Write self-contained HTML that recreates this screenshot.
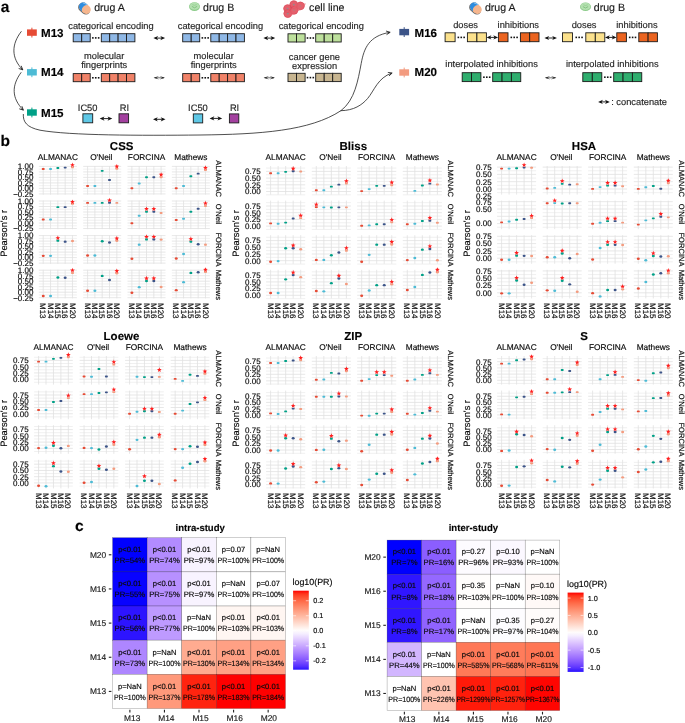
<!DOCTYPE html>
<html lang="en"><head><meta charset="utf-8"><title>Figure</title>
<style>html,body{margin:0;padding:0;background:#fff}svg{display:block;will-change:transform;-webkit-font-smoothing:antialiased}text{stroke:#1a1a1a;stroke-width:.16px}</style></head>
<body>
<svg width="685" height="723" viewBox="0 0 685 723" font-family='"Liberation Sans", sans-serif'>
<rect width="685" height="723" fill="#fff"/>
<g text-rendering="geometricPrecision">
<g id="panelA">
<text x="0.80" y="12.30" font-size="15.5" text-anchor="start" font-weight="bold" fill="#000">a</text>
<line x1="31.9" y1="27.700000000000003" x2="31.9" y2="37.5" stroke="#E64B35" stroke-width="1"/>
<rect x="27.0" y="29.400000000000002" width="9.8" height="6.4" fill="#E64B35"/>
<text x="41.00" y="36.60" font-size="11.6" text-anchor="start" font-weight="bold" fill="#000">M13</text>
<line x1="31.9" y1="67.39999999999999" x2="31.9" y2="77.2" stroke="#4DBBD5" stroke-width="1"/>
<rect x="27.0" y="69.1" width="9.8" height="6.4" fill="#4DBBD5"/>
<text x="41.00" y="76.30" font-size="11.6" text-anchor="start" font-weight="bold" fill="#000">M14</text>
<line x1="31.9" y1="107.6" x2="31.9" y2="117.4" stroke="#00A087" stroke-width="1"/>
<rect x="27.0" y="109.3" width="9.8" height="6.4" fill="#00A087"/>
<text x="41.00" y="116.70" font-size="11.6" text-anchor="start" font-weight="bold" fill="#000">M15</text>
<line x1="404.2" y1="27.200000000000003" x2="404.2" y2="37.0" stroke="#3C5488" stroke-width="1"/>
<rect x="399.3" y="28.900000000000002" width="9.8" height="6.4" fill="#3C5488"/>
<text x="414.50" y="36.60" font-size="11.6" text-anchor="start" font-weight="bold" fill="#000">M16</text>
<line x1="404.2" y1="67.6" x2="404.2" y2="77.4" stroke="#F39B7F" stroke-width="1"/>
<rect x="399.3" y="69.3" width="9.8" height="6.4" fill="#F39B7F"/>
<text x="414.50" y="76.30" font-size="11.6" text-anchor="start" font-weight="bold" fill="#000">M20</text>
<g transform="translate(84.6 8.2) rotate(42)"><rect x="-6.6" y="-3.6" width="13.2" height="8.6" rx="4.3" fill="#6e6e6e"/><rect x="-6.4" y="-4.5" width="13" height="8.6" rx="4.3" fill="#F6B68E"/><path d="M0 -4.5 H-2.1 A4.3 4.3 0 0 0 -2.1 4.1 H0 Z" fill="#2E8DE0"/><ellipse cx="1.6" cy="-0.2" rx="3.6" ry="4.2" fill="#F6B68E"/><path d="M-4.8 -2.8 Q-3 -4.2 -0.5 -4" stroke="#8CC8F5" stroke-width="0.9" fill="none"/></g>
<text x="94.20" y="10.80" font-size="10.6" text-anchor="start" fill="#1a1a1a">drug A</text>
<ellipse cx="194.5" cy="6.6" rx="5.5" ry="4.3" fill="#8CCB8A"/>
<ellipse cx="194.5" cy="6.199999999999999" rx="4.9" ry="3.6" fill="#B4E0B0"/>
<path d="M191.9 6.3999999999999995 Q194.5 9.2 197.1 6.3999999999999995" stroke="#7EC07C" stroke-width="0.9" fill="none"/>
<path d="M192.3 4.6 Q194.5 6.0 196.7 4.6" stroke="#8CCB8A" stroke-width="0.7" fill="none"/>
<text x="203.00" y="10.80" font-size="10.6" text-anchor="start" fill="#1a1a1a">drug B</text>
<circle cx="293.8" cy="4.6" r="4.2" fill="#E4606C"/>
<circle cx="300.4" cy="5.9" r="4.2" fill="#E4606C"/>
<circle cx="287.6" cy="8.6" r="4.2" fill="#E4606C"/>
<circle cx="294" cy="10.2" r="4.2" fill="#E4606C"/>
<circle cx="287.8" cy="13.6" r="4.2" fill="#E4606C"/>
<circle cx="293.8" cy="4.6" r="3.9" fill="none" stroke="#D94555" stroke-width="0.5"/>
<circle cx="293.8" cy="4.6" r="0.9" fill="#8f8f8f"/>
<circle cx="300.4" cy="5.9" r="3.9" fill="none" stroke="#D94555" stroke-width="0.5"/>
<circle cx="300.4" cy="5.9" r="0.9" fill="#8f8f8f"/>
<circle cx="287.6" cy="8.6" r="3.9" fill="none" stroke="#D94555" stroke-width="0.5"/>
<circle cx="287.6" cy="8.6" r="0.9" fill="#8f8f8f"/>
<circle cx="294" cy="10.2" r="3.9" fill="none" stroke="#D94555" stroke-width="0.5"/>
<circle cx="294" cy="10.2" r="0.9" fill="#8f8f8f"/>
<circle cx="287.8" cy="13.6" r="3.9" fill="none" stroke="#D94555" stroke-width="0.5"/>
<circle cx="287.8" cy="13.6" r="0.9" fill="#8f8f8f"/>
<path d="M297 3 L306 3.5 L303 8.5 L297 12 L291 16 L289 12 Z" fill="#E4606C" opacity="0.6"/>
<text x="309.10" y="10.60" font-size="10.6" text-anchor="start" fill="#1a1a1a">cell line</text>
<g transform="translate(475.6 8.2) rotate(42)"><rect x="-6.6" y="-3.6" width="13.2" height="8.6" rx="4.3" fill="#6e6e6e"/><rect x="-6.4" y="-4.5" width="13" height="8.6" rx="4.3" fill="#F6B68E"/><path d="M0 -4.5 H-2.1 A4.3 4.3 0 0 0 -2.1 4.1 H0 Z" fill="#2E8DE0"/><ellipse cx="1.6" cy="-0.2" rx="3.6" ry="4.2" fill="#F6B68E"/><path d="M-4.8 -2.8 Q-3 -4.2 -0.5 -4" stroke="#8CC8F5" stroke-width="0.9" fill="none"/></g>
<text x="484.90" y="10.80" font-size="10.6" text-anchor="start" fill="#1a1a1a">drug A</text>
<ellipse cx="585.5" cy="6.8" rx="5.5" ry="4.3" fill="#8CCB8A"/>
<ellipse cx="585.5" cy="6.3999999999999995" rx="4.9" ry="3.6" fill="#B4E0B0"/>
<path d="M582.9 6.6 Q585.5 9.4 588.1 6.6" stroke="#7EC07C" stroke-width="0.9" fill="none"/>
<path d="M583.3 4.8 Q585.5 6.2 587.7 4.8" stroke="#8CCB8A" stroke-width="0.7" fill="none"/>
<text x="593.80" y="10.80" font-size="10.6" text-anchor="start" fill="#1a1a1a">drug B</text>
<text x="68.30" y="29.00" font-size="9.3" text-anchor="start" fill="#2b2b2b">categorical encoding</text>
<rect x="73.20" y="33.70" width="8.50" height="8.10" fill="#8FB8E6" stroke="#1a1a1a" stroke-width="0.9"/>
<rect x="81.70" y="33.70" width="8.50" height="8.10" fill="#8FB8E6" stroke="#1a1a1a" stroke-width="0.9"/>
<rect x="92.05" y="37.10" width="1.6" height="1.6" fill="#111"/>
<rect x="94.95" y="37.10" width="1.6" height="1.6" fill="#111"/>
<rect x="97.85" y="37.10" width="1.6" height="1.6" fill="#111"/>
<rect x="101.30" y="33.70" width="8.40" height="8.10" fill="#8FB8E6" stroke="#1a1a1a" stroke-width="0.9"/>
<rect x="109.70" y="33.70" width="8.40" height="8.10" fill="#8FB8E6" stroke="#1a1a1a" stroke-width="0.9"/>
<rect x="118.10" y="33.70" width="8.40" height="8.10" fill="#8FB8E6" stroke="#1a1a1a" stroke-width="0.9"/>
<rect x="126.50" y="33.70" width="8.40" height="8.10" fill="#8FB8E6" stroke="#1a1a1a" stroke-width="0.9"/>
<text x="104.20" y="59.30" font-size="9.3" text-anchor="middle" fill="#2b2b2b">molecular</text>
<text x="104.20" y="68.30" font-size="9.3" text-anchor="middle" fill="#2b2b2b">fingerprints</text>
<rect x="73.20" y="73.60" width="8.50" height="8.10" fill="#F08268" stroke="#1a1a1a" stroke-width="0.9"/>
<rect x="81.70" y="73.60" width="8.50" height="8.10" fill="#F08268" stroke="#1a1a1a" stroke-width="0.9"/>
<rect x="92.05" y="77.00" width="1.6" height="1.6" fill="#111"/>
<rect x="94.95" y="77.00" width="1.6" height="1.6" fill="#111"/>
<rect x="97.85" y="77.00" width="1.6" height="1.6" fill="#111"/>
<rect x="101.30" y="73.60" width="8.40" height="8.10" fill="#F08268" stroke="#1a1a1a" stroke-width="0.9"/>
<rect x="109.70" y="73.60" width="8.40" height="8.10" fill="#F08268" stroke="#1a1a1a" stroke-width="0.9"/>
<rect x="118.10" y="73.60" width="8.40" height="8.10" fill="#F08268" stroke="#1a1a1a" stroke-width="0.9"/>
<rect x="126.50" y="73.60" width="8.40" height="8.10" fill="#F08268" stroke="#1a1a1a" stroke-width="0.9"/>
<text x="177.80" y="29.00" font-size="9.3" text-anchor="start" fill="#2b2b2b">categorical encoding</text>
<rect x="182.70" y="33.70" width="8.50" height="8.10" fill="#8FB8E6" stroke="#1a1a1a" stroke-width="0.9"/>
<rect x="191.20" y="33.70" width="8.50" height="8.10" fill="#8FB8E6" stroke="#1a1a1a" stroke-width="0.9"/>
<rect x="201.55" y="37.10" width="1.6" height="1.6" fill="#111"/>
<rect x="204.45" y="37.10" width="1.6" height="1.6" fill="#111"/>
<rect x="207.35" y="37.10" width="1.6" height="1.6" fill="#111"/>
<rect x="210.80" y="33.70" width="8.40" height="8.10" fill="#8FB8E6" stroke="#1a1a1a" stroke-width="0.9"/>
<rect x="219.20" y="33.70" width="8.40" height="8.10" fill="#8FB8E6" stroke="#1a1a1a" stroke-width="0.9"/>
<rect x="227.60" y="33.70" width="8.40" height="8.10" fill="#8FB8E6" stroke="#1a1a1a" stroke-width="0.9"/>
<rect x="236.00" y="33.70" width="8.40" height="8.10" fill="#8FB8E6" stroke="#1a1a1a" stroke-width="0.9"/>
<text x="213.70" y="59.30" font-size="9.3" text-anchor="middle" fill="#2b2b2b">molecular</text>
<text x="213.70" y="68.30" font-size="9.3" text-anchor="middle" fill="#2b2b2b">fingerprints</text>
<rect x="182.70" y="73.60" width="8.50" height="8.10" fill="#F08268" stroke="#1a1a1a" stroke-width="0.9"/>
<rect x="191.20" y="73.60" width="8.50" height="8.10" fill="#F08268" stroke="#1a1a1a" stroke-width="0.9"/>
<rect x="201.55" y="77.00" width="1.6" height="1.6" fill="#111"/>
<rect x="204.45" y="77.00" width="1.6" height="1.6" fill="#111"/>
<rect x="207.35" y="77.00" width="1.6" height="1.6" fill="#111"/>
<rect x="210.80" y="73.60" width="8.40" height="8.10" fill="#F08268" stroke="#1a1a1a" stroke-width="0.9"/>
<rect x="219.20" y="73.60" width="8.40" height="8.10" fill="#F08268" stroke="#1a1a1a" stroke-width="0.9"/>
<rect x="227.60" y="73.60" width="8.40" height="8.10" fill="#F08268" stroke="#1a1a1a" stroke-width="0.9"/>
<rect x="236.00" y="73.60" width="8.40" height="8.10" fill="#F08268" stroke="#1a1a1a" stroke-width="0.9"/>
<text x="77.80" y="110.90" font-size="9.3" text-anchor="start" fill="#2b2b2b">IC50</text>
<text x="119.70" y="110.90" font-size="9.3" text-anchor="start" fill="#2b2b2b">RI</text>
<rect x="82.9" y="113.8" width="9.8" height="9" fill="#5FC8E6" stroke="#1a1a1a" stroke-width="0.9"/>
<rect x="119" y="113.8" width="9.6" height="9" fill="#A3409F" stroke="#1a1a1a" stroke-width="0.9"/>
<line x1="101.70" y1="118.60" x2="110.30" y2="118.60" stroke="#111" stroke-width="0.9"/>
<path d="M99.70 118.60 L104.50 116.50 L103.16 118.60 L104.50 120.70 Z" fill="#111"/>
<path d="M112.30 118.60 L107.50 116.50 L108.84 118.60 L107.50 120.70 Z" fill="#111"/>
<text x="188.10" y="110.90" font-size="9.3" text-anchor="start" fill="#2b2b2b">IC50</text>
<text x="229.90" y="110.90" font-size="9.3" text-anchor="start" fill="#2b2b2b">RI</text>
<rect x="193.3" y="113.9" width="9.4" height="9" fill="#5FC8E6" stroke="#1a1a1a" stroke-width="0.9"/>
<rect x="229.4" y="113.9" width="9.4" height="9" fill="#A3409F" stroke="#1a1a1a" stroke-width="0.9"/>
<line x1="211.60" y1="118.40" x2="220.20" y2="118.40" stroke="#111" stroke-width="0.9"/>
<path d="M209.60 118.40 L214.40 116.30 L213.06 118.40 L214.40 120.50 Z" fill="#111"/>
<path d="M222.20 118.40 L217.40 116.30 L218.74 118.40 L217.40 120.50 Z" fill="#111"/>
<text x="321.30" y="29.00" font-size="9.3" text-anchor="middle" fill="#2b2b2b">categorical encoding</text>
<rect x="288.00" y="33.80" width="8.55" height="8.20" fill="#BDE09C" stroke="#1a1a1a" stroke-width="0.9"/>
<rect x="296.55" y="33.80" width="8.55" height="8.20" fill="#BDE09C" stroke="#1a1a1a" stroke-width="0.9"/>
<rect x="306.70" y="37.20" width="1.6" height="1.6" fill="#111"/>
<rect x="309.60" y="37.20" width="1.6" height="1.6" fill="#111"/>
<rect x="312.50" y="37.20" width="1.6" height="1.6" fill="#111"/>
<rect x="315.70" y="33.80" width="8.50" height="8.20" fill="#BDE09C" stroke="#1a1a1a" stroke-width="0.9"/>
<rect x="324.20" y="33.80" width="8.50" height="8.20" fill="#BDE09C" stroke="#1a1a1a" stroke-width="0.9"/>
<rect x="332.70" y="33.80" width="8.50" height="8.20" fill="#BDE09C" stroke="#1a1a1a" stroke-width="0.9"/>
<text x="314.40" y="59.80" font-size="9.3" text-anchor="middle" fill="#2b2b2b">cancer gene</text>
<text x="314.60" y="68.70" font-size="9.3" text-anchor="middle" fill="#2b2b2b">expression</text>
<rect x="288.00" y="73.30" width="8.55" height="8.30" fill="#C7B590" stroke="#1a1a1a" stroke-width="0.9"/>
<rect x="296.55" y="73.30" width="8.55" height="8.30" fill="#C7B590" stroke="#1a1a1a" stroke-width="0.9"/>
<rect x="306.70" y="76.80" width="1.6" height="1.6" fill="#111"/>
<rect x="309.60" y="76.80" width="1.6" height="1.6" fill="#111"/>
<rect x="312.50" y="76.80" width="1.6" height="1.6" fill="#111"/>
<rect x="315.70" y="73.30" width="8.50" height="8.30" fill="#C7B590" stroke="#1a1a1a" stroke-width="0.9"/>
<rect x="324.20" y="73.30" width="8.50" height="8.30" fill="#C7B590" stroke="#1a1a1a" stroke-width="0.9"/>
<rect x="332.70" y="73.30" width="8.50" height="8.30" fill="#C7B590" stroke="#1a1a1a" stroke-width="0.9"/>
<line x1="155.40" y1="38.10" x2="163.10" y2="38.10" stroke="#111" stroke-width="0.9"/>
<path d="M153.40 38.10 L158.20 36.00 L156.86 38.10 L158.20 40.20 Z" fill="#111"/>
<path d="M165.10 38.10 L160.30 36.00 L161.64 38.10 L160.30 40.20 Z" fill="#111"/>
<line x1="265.40" y1="38.10" x2="273.20" y2="38.10" stroke="#111" stroke-width="0.9"/>
<path d="M263.40 38.10 L268.20 36.00 L266.86 38.10 L268.20 40.20 Z" fill="#111"/>
<path d="M275.20 38.10 L270.40 36.00 L271.74 38.10 L270.40 40.20 Z" fill="#111"/>
<line x1="154.60" y1="77.80" x2="164.00" y2="77.80" stroke="#111" stroke-width="0.6"/>
<path d="M153.60 77.80 L159.00 76.00 L156.30 77.80 L159.00 79.60 Z" fill="#111" fill-opacity="0.85"/>
<path d="M165.00 77.80 L159.60 76.00 L162.30 77.80 L159.60 79.60 Z" fill="#111" fill-opacity="0.85"/>
<line x1="264.60" y1="77.80" x2="274.00" y2="77.80" stroke="#111" stroke-width="0.6"/>
<path d="M263.60 77.80 L269.00 76.00 L266.30 77.80 L269.00 79.60 Z" fill="#111" fill-opacity="0.85"/>
<path d="M275.00 77.80 L269.60 76.00 L272.30 77.80 L269.60 79.60 Z" fill="#111" fill-opacity="0.85"/>
<line x1="155.00" y1="119.30" x2="163.50" y2="119.30" stroke="#111" stroke-width="0.9"/>
<path d="M153.00 119.30 L157.80 117.20 L156.46 119.30 L157.80 121.40 Z" fill="#111"/>
<path d="M165.50 119.30 L160.70 117.20 L162.04 119.30 L160.70 121.40 Z" fill="#111"/>
<text x="465.60" y="27.70" font-size="9.3" text-anchor="middle" fill="#2b2b2b">doses</text>
<text x="518.30" y="27.70" font-size="9.3" text-anchor="middle" fill="#2b2b2b">inhibitions</text>
<rect x="445.10" y="32.80" width="10.00" height="8.90" fill="#FBE18C" stroke="#1a1a1a" stroke-width="0.9"/>
<rect x="457.55" y="36.60" width="1.6" height="1.6" fill="#111"/>
<rect x="460.45" y="36.60" width="1.6" height="1.6" fill="#111"/>
<rect x="463.35" y="36.60" width="1.6" height="1.6" fill="#111"/>
<rect x="467.40" y="32.80" width="9.50" height="8.90" fill="#FBE18C" stroke="#1a1a1a" stroke-width="0.9"/>
<rect x="476.90" y="32.80" width="9.50" height="8.90" fill="#FBE18C" stroke="#1a1a1a" stroke-width="0.9"/>
<line x1="488.60" y1="37.40" x2="496.10" y2="37.40" stroke="#111" stroke-width="0.9"/>
<path d="M486.60 37.40 L491.40 35.30 L490.06 37.40 L491.40 39.50 Z" fill="#111"/>
<path d="M498.10 37.40 L493.30 35.30 L494.64 37.40 L493.30 39.50 Z" fill="#111"/>
<rect x="498.40" y="32.80" width="9.60" height="8.90" fill="#EB6420" stroke="#1a1a1a" stroke-width="0.9"/>
<rect x="510.50" y="36.60" width="1.6" height="1.6" fill="#111"/>
<rect x="513.40" y="36.60" width="1.6" height="1.6" fill="#111"/>
<rect x="516.30" y="36.60" width="1.6" height="1.6" fill="#111"/>
<rect x="520.40" y="32.80" width="9.30" height="8.90" fill="#EB6420" stroke="#1a1a1a" stroke-width="0.9"/>
<rect x="529.70" y="32.80" width="9.30" height="8.90" fill="#EB6420" stroke="#1a1a1a" stroke-width="0.9"/>
<text x="584.10" y="27.70" font-size="9.3" text-anchor="middle" fill="#2b2b2b">doses</text>
<text x="636.90" y="27.70" font-size="9.3" text-anchor="middle" fill="#2b2b2b">inhibitions</text>
<rect x="562.50" y="32.80" width="10.00" height="8.90" fill="#FBE18C" stroke="#1a1a1a" stroke-width="0.9"/>
<rect x="575.45" y="36.60" width="1.6" height="1.6" fill="#111"/>
<rect x="578.35" y="36.60" width="1.6" height="1.6" fill="#111"/>
<rect x="581.25" y="36.60" width="1.6" height="1.6" fill="#111"/>
<rect x="585.80" y="32.80" width="9.50" height="8.90" fill="#FBE18C" stroke="#1a1a1a" stroke-width="0.9"/>
<rect x="595.30" y="32.80" width="9.50" height="8.90" fill="#FBE18C" stroke="#1a1a1a" stroke-width="0.9"/>
<line x1="607.00" y1="37.40" x2="614.50" y2="37.40" stroke="#111" stroke-width="0.9"/>
<path d="M605.00 37.40 L609.80 35.30 L608.46 37.40 L609.80 39.50 Z" fill="#111"/>
<path d="M616.50 37.40 L611.70 35.30 L613.04 37.40 L611.70 39.50 Z" fill="#111"/>
<rect x="616.80" y="32.80" width="9.60" height="8.90" fill="#EB6420" stroke="#1a1a1a" stroke-width="0.9"/>
<rect x="628.90" y="36.60" width="1.6" height="1.6" fill="#111"/>
<rect x="631.80" y="36.60" width="1.6" height="1.6" fill="#111"/>
<rect x="634.70" y="36.60" width="1.6" height="1.6" fill="#111"/>
<rect x="638.80" y="32.80" width="9.30" height="8.90" fill="#EB6420" stroke="#1a1a1a" stroke-width="0.9"/>
<rect x="648.10" y="32.80" width="9.30" height="8.90" fill="#EB6420" stroke="#1a1a1a" stroke-width="0.9"/>
<line x1="546.40" y1="38.00" x2="555.00" y2="38.00" stroke="#111" stroke-width="0.9"/>
<path d="M544.40 38.00 L549.20 35.90 L547.86 38.00 L549.20 40.10 Z" fill="#111"/>
<path d="M557.00 38.00 L552.20 35.90 L553.54 38.00 L552.20 40.10 Z" fill="#111"/>
<text x="491.60" y="66.60" font-size="9.3" text-anchor="middle" fill="#2b2b2b">interpolated inhibitions</text>
<rect x="462.20" y="72.70" width="9.35" height="8.90" fill="#2FAE6E" stroke="#1a1a1a" stroke-width="0.9"/>
<rect x="471.55" y="72.70" width="9.35" height="8.90" fill="#2FAE6E" stroke="#1a1a1a" stroke-width="0.9"/>
<rect x="483.10" y="76.40" width="1.6" height="1.6" fill="#111"/>
<rect x="486.00" y="76.40" width="1.6" height="1.6" fill="#111"/>
<rect x="488.90" y="76.40" width="1.6" height="1.6" fill="#111"/>
<rect x="492.70" y="72.70" width="9.35" height="8.90" fill="#2FAE6E" stroke="#1a1a1a" stroke-width="0.9"/>
<rect x="502.05" y="72.70" width="9.35" height="8.90" fill="#2FAE6E" stroke="#1a1a1a" stroke-width="0.9"/>
<rect x="511.40" y="72.70" width="9.35" height="8.90" fill="#2FAE6E" stroke="#1a1a1a" stroke-width="0.9"/>
<text x="612.30" y="66.60" font-size="9.3" text-anchor="middle" fill="#2b2b2b">interpolated inhibitions</text>
<rect x="582.80" y="72.70" width="9.50" height="8.90" fill="#2FAE6E" stroke="#1a1a1a" stroke-width="0.9"/>
<rect x="592.30" y="72.70" width="9.50" height="8.90" fill="#2FAE6E" stroke="#1a1a1a" stroke-width="0.9"/>
<rect x="604.05" y="76.40" width="1.6" height="1.6" fill="#111"/>
<rect x="606.95" y="76.40" width="1.6" height="1.6" fill="#111"/>
<rect x="609.85" y="76.40" width="1.6" height="1.6" fill="#111"/>
<rect x="613.70" y="72.70" width="9.35" height="8.90" fill="#2FAE6E" stroke="#1a1a1a" stroke-width="0.9"/>
<rect x="623.05" y="72.70" width="9.35" height="8.90" fill="#2FAE6E" stroke="#1a1a1a" stroke-width="0.9"/>
<rect x="632.40" y="72.70" width="9.35" height="8.90" fill="#2FAE6E" stroke="#1a1a1a" stroke-width="0.9"/>
<line x1="545.80" y1="77.80" x2="555.40" y2="77.80" stroke="#111" stroke-width="0.6"/>
<path d="M544.80 77.80 L550.20 76.00 L547.50 77.80 L550.20 79.60 Z" fill="#111" fill-opacity="0.85"/>
<path d="M556.40 77.80 L551.00 76.00 L553.70 77.80 L551.00 79.60 Z" fill="#111" fill-opacity="0.85"/>
<line x1="600.10" y1="101.90" x2="607.80" y2="101.90" stroke="#111" stroke-width="0.9"/>
<path d="M598.10 101.90 L602.90 99.80 L601.56 101.90 L602.90 104.00 Z" fill="#111"/>
<path d="M609.80 101.90 L605.00 99.80 L606.34 101.90 L605.00 104.00 Z" fill="#111"/>
<text x="611.20" y="104.80" font-size="9.3" text-anchor="start" fill="#2b2b2b">: concatenate</text>
<path d="M21.2 31.6 C11.5 44 10.8 58 22.6 69.6" stroke="#222" stroke-width="0.8" fill="none" stroke-linecap="round" stroke-linejoin="round"/>
<path d="M19.02 68.60 L22.80 69.90 L21.37 66.17" stroke="#222" stroke-width="0.8" fill="none" stroke-linecap="round" stroke-linejoin="round"/>
<path d="M19.02 68.60 L22.80 69.90 L21.37 66.17 L21.65 68.79 Z" fill="#222" fill-opacity="0.75"/>
<path d="M21.0 72.6 C11.5 85.5 11.5 98 23 109.8" stroke="#222" stroke-width="0.8" fill="none" stroke-linecap="round" stroke-linejoin="round"/>
<path d="M19.62 108.90 L23.40 110.20 L21.97 106.47" stroke="#222" stroke-width="0.8" fill="none" stroke-linecap="round" stroke-linejoin="round"/>
<path d="M19.62 108.90 L23.40 110.20 L21.97 106.47 L22.25 109.09 Z" fill="#222" fill-opacity="0.75"/>
<path d="M23.3 114.4 C23 122 26.5 127.2 40 130.2 C70 135.6 140 135.6 200 135 C260 134.3 310 131 340.9 110.7 C355 100 358 80 361.2 63.5 C364 48 369 36 389.4 32.4" stroke="#222" stroke-width="0.8" fill="none" stroke-linecap="round" stroke-linejoin="round"/>
<path d="M386.85 34.48 L390.20 32.30 L386.37 31.13" stroke="#222" stroke-width="0.8" fill="none" stroke-linecap="round" stroke-linejoin="round"/>
<path d="M386.85 34.48 L390.20 32.30 L386.37 31.13 L388.62 32.52 Z" fill="#222" fill-opacity="0.75"/>
<path d="M340.9 110.7 C354 110.5 362 105 367.7 98.4 C374 91 378 77.5 391.4 73.3" stroke="#222" stroke-width="0.8" fill="none" stroke-linecap="round" stroke-linejoin="round"/>
<path d="M389.27 75.73 L392.20 73.00 L388.23 72.51" stroke="#222" stroke-width="0.8" fill="none" stroke-linecap="round" stroke-linejoin="round"/>
<path d="M389.27 75.73 L392.20 73.00 L388.23 72.51 L390.68 73.49 Z" fill="#222" fill-opacity="0.75"/>
</g>
<g id="panelB">
<text x="0.40" y="146.00" font-size="15.5" text-anchor="start" font-weight="bold" fill="#000">b</text>
<g id="grid-CSS">
<text x="121.70" y="149.90" font-size="11.5" text-anchor="middle" font-weight="bold" fill="#000">CSS</text>
<text x="57.85" y="160.00" font-size="8.3" text-anchor="middle">ALMANAC</text>
<text x="101.30" y="160.00" font-size="8.3" text-anchor="middle">O'Neil</text>
<text x="146.50" y="160.00" font-size="8.3" text-anchor="middle">FORCINA</text>
<text x="190.85" y="160.00" font-size="8.3" text-anchor="middle">Mathews</text>
<text x="7.20" y="233.40" font-size="9.3" text-anchor="middle" transform="rotate(-90 7.20 233.40)">Pearson's r</text>
<text x="215.85" y="178.70" font-size="7.6" text-anchor="middle" transform="rotate(90 215.85 178.70)">ALMANAC</text>
<text x="33.45" y="169.25" font-size="8" text-anchor="end">1.00</text>
<text x="33.45" y="174.75" font-size="8" text-anchor="end">0.75</text>
<text x="33.45" y="180.25" font-size="8" text-anchor="end">0.50</text>
<text x="33.45" y="185.75" font-size="8" text-anchor="end">0.25</text>
<text x="33.45" y="191.25" font-size="8" text-anchor="end">0.00</text>
<text x="33.45" y="196.75" font-size="8" text-anchor="end">−0.25</text>
<line x1="38.85" x2="76.85" y1="166.40" y2="166.40" stroke="#e1e1e1" stroke-width="0.8"/><line x1="38.85" x2="76.85" y1="169.15" y2="169.15" stroke="#eaeaea" stroke-width="0.7"/><line x1="38.85" x2="76.85" y1="171.90" y2="171.90" stroke="#e1e1e1" stroke-width="0.8"/><line x1="38.85" x2="76.85" y1="174.65" y2="174.65" stroke="#eaeaea" stroke-width="0.7"/><line x1="38.85" x2="76.85" y1="177.40" y2="177.40" stroke="#e1e1e1" stroke-width="0.8"/><line x1="38.85" x2="76.85" y1="180.15" y2="180.15" stroke="#eaeaea" stroke-width="0.7"/><line x1="38.85" x2="76.85" y1="182.90" y2="182.90" stroke="#e1e1e1" stroke-width="0.8"/><line x1="38.85" x2="76.85" y1="185.65" y2="185.65" stroke="#eaeaea" stroke-width="0.7"/><line x1="38.85" x2="76.85" y1="188.40" y2="188.40" stroke="#e1e1e1" stroke-width="0.8"/><line x1="38.85" x2="76.85" y1="191.15" y2="191.15" stroke="#eaeaea" stroke-width="0.7"/><line x1="38.85" x2="76.85" y1="193.90" y2="193.90" stroke="#e1e1e1" stroke-width="0.8"/><line x1="43.23" x2="43.23" y1="166.00" y2="194.60" stroke="#e1e1e1" stroke-width="0.8"/><line x1="50.54" x2="50.54" y1="166.00" y2="194.60" stroke="#e1e1e1" stroke-width="0.8"/><line x1="57.85" x2="57.85" y1="166.00" y2="194.60" stroke="#e1e1e1" stroke-width="0.8"/><line x1="65.16" x2="65.16" y1="166.00" y2="194.60" stroke="#e1e1e1" stroke-width="0.8"/><line x1="72.47" x2="72.47" y1="166.00" y2="194.60" stroke="#e1e1e1" stroke-width="0.8"/>
<line x1="83.20" x2="121.20" y1="166.40" y2="166.40" stroke="#e1e1e1" stroke-width="0.8"/><line x1="83.20" x2="121.20" y1="169.15" y2="169.15" stroke="#eaeaea" stroke-width="0.7"/><line x1="83.20" x2="121.20" y1="171.90" y2="171.90" stroke="#e1e1e1" stroke-width="0.8"/><line x1="83.20" x2="121.20" y1="174.65" y2="174.65" stroke="#eaeaea" stroke-width="0.7"/><line x1="83.20" x2="121.20" y1="177.40" y2="177.40" stroke="#e1e1e1" stroke-width="0.8"/><line x1="83.20" x2="121.20" y1="180.15" y2="180.15" stroke="#eaeaea" stroke-width="0.7"/><line x1="83.20" x2="121.20" y1="182.90" y2="182.90" stroke="#e1e1e1" stroke-width="0.8"/><line x1="83.20" x2="121.20" y1="185.65" y2="185.65" stroke="#eaeaea" stroke-width="0.7"/><line x1="83.20" x2="121.20" y1="188.40" y2="188.40" stroke="#e1e1e1" stroke-width="0.8"/><line x1="83.20" x2="121.20" y1="191.15" y2="191.15" stroke="#eaeaea" stroke-width="0.7"/><line x1="83.20" x2="121.20" y1="193.90" y2="193.90" stroke="#e1e1e1" stroke-width="0.8"/><line x1="87.58" x2="87.58" y1="166.00" y2="194.60" stroke="#e1e1e1" stroke-width="0.8"/><line x1="94.89" x2="94.89" y1="166.00" y2="194.60" stroke="#e1e1e1" stroke-width="0.8"/><line x1="102.20" x2="102.20" y1="166.00" y2="194.60" stroke="#e1e1e1" stroke-width="0.8"/><line x1="109.51" x2="109.51" y1="166.00" y2="194.60" stroke="#e1e1e1" stroke-width="0.8"/><line x1="116.82" x2="116.82" y1="166.00" y2="194.60" stroke="#e1e1e1" stroke-width="0.8"/>
<line x1="127.50" x2="165.50" y1="166.40" y2="166.40" stroke="#e1e1e1" stroke-width="0.8"/><line x1="127.50" x2="165.50" y1="169.15" y2="169.15" stroke="#eaeaea" stroke-width="0.7"/><line x1="127.50" x2="165.50" y1="171.90" y2="171.90" stroke="#e1e1e1" stroke-width="0.8"/><line x1="127.50" x2="165.50" y1="174.65" y2="174.65" stroke="#eaeaea" stroke-width="0.7"/><line x1="127.50" x2="165.50" y1="177.40" y2="177.40" stroke="#e1e1e1" stroke-width="0.8"/><line x1="127.50" x2="165.50" y1="180.15" y2="180.15" stroke="#eaeaea" stroke-width="0.7"/><line x1="127.50" x2="165.50" y1="182.90" y2="182.90" stroke="#e1e1e1" stroke-width="0.8"/><line x1="127.50" x2="165.50" y1="185.65" y2="185.65" stroke="#eaeaea" stroke-width="0.7"/><line x1="127.50" x2="165.50" y1="188.40" y2="188.40" stroke="#e1e1e1" stroke-width="0.8"/><line x1="127.50" x2="165.50" y1="191.15" y2="191.15" stroke="#eaeaea" stroke-width="0.7"/><line x1="127.50" x2="165.50" y1="193.90" y2="193.90" stroke="#e1e1e1" stroke-width="0.8"/><line x1="131.88" x2="131.88" y1="166.00" y2="194.60" stroke="#e1e1e1" stroke-width="0.8"/><line x1="139.19" x2="139.19" y1="166.00" y2="194.60" stroke="#e1e1e1" stroke-width="0.8"/><line x1="146.50" x2="146.50" y1="166.00" y2="194.60" stroke="#e1e1e1" stroke-width="0.8"/><line x1="153.81" x2="153.81" y1="166.00" y2="194.60" stroke="#e1e1e1" stroke-width="0.8"/><line x1="161.12" x2="161.12" y1="166.00" y2="194.60" stroke="#e1e1e1" stroke-width="0.8"/>
<line x1="171.85" x2="209.85" y1="166.40" y2="166.40" stroke="#e1e1e1" stroke-width="0.8"/><line x1="171.85" x2="209.85" y1="169.15" y2="169.15" stroke="#eaeaea" stroke-width="0.7"/><line x1="171.85" x2="209.85" y1="171.90" y2="171.90" stroke="#e1e1e1" stroke-width="0.8"/><line x1="171.85" x2="209.85" y1="174.65" y2="174.65" stroke="#eaeaea" stroke-width="0.7"/><line x1="171.85" x2="209.85" y1="177.40" y2="177.40" stroke="#e1e1e1" stroke-width="0.8"/><line x1="171.85" x2="209.85" y1="180.15" y2="180.15" stroke="#eaeaea" stroke-width="0.7"/><line x1="171.85" x2="209.85" y1="182.90" y2="182.90" stroke="#e1e1e1" stroke-width="0.8"/><line x1="171.85" x2="209.85" y1="185.65" y2="185.65" stroke="#eaeaea" stroke-width="0.7"/><line x1="171.85" x2="209.85" y1="188.40" y2="188.40" stroke="#e1e1e1" stroke-width="0.8"/><line x1="171.85" x2="209.85" y1="191.15" y2="191.15" stroke="#eaeaea" stroke-width="0.7"/><line x1="171.85" x2="209.85" y1="193.90" y2="193.90" stroke="#e1e1e1" stroke-width="0.8"/><line x1="176.23" x2="176.23" y1="166.00" y2="194.60" stroke="#e1e1e1" stroke-width="0.8"/><line x1="183.54" x2="183.54" y1="166.00" y2="194.60" stroke="#e1e1e1" stroke-width="0.8"/><line x1="190.85" x2="190.85" y1="166.00" y2="194.60" stroke="#e1e1e1" stroke-width="0.8"/><line x1="198.16" x2="198.16" y1="166.00" y2="194.60" stroke="#e1e1e1" stroke-width="0.8"/><line x1="205.47" x2="205.47" y1="166.00" y2="194.60" stroke="#e1e1e1" stroke-width="0.8"/>
<text x="215.85" y="214.10" font-size="7.6" text-anchor="middle" transform="rotate(90 215.85 214.10)">O'Neil</text>
<text x="33.45" y="203.85" font-size="8" text-anchor="end">1.00</text>
<text x="33.45" y="209.35" font-size="8" text-anchor="end">0.75</text>
<text x="33.45" y="214.85" font-size="8" text-anchor="end">0.50</text>
<text x="33.45" y="220.35" font-size="8" text-anchor="end">0.25</text>
<text x="33.45" y="225.85" font-size="8" text-anchor="end">0.00</text>
<text x="33.45" y="231.35" font-size="8" text-anchor="end">−0.25</text>
<line x1="38.85" x2="76.85" y1="201.00" y2="201.00" stroke="#e1e1e1" stroke-width="0.8"/><line x1="38.85" x2="76.85" y1="203.75" y2="203.75" stroke="#eaeaea" stroke-width="0.7"/><line x1="38.85" x2="76.85" y1="206.50" y2="206.50" stroke="#e1e1e1" stroke-width="0.8"/><line x1="38.85" x2="76.85" y1="209.25" y2="209.25" stroke="#eaeaea" stroke-width="0.7"/><line x1="38.85" x2="76.85" y1="212.00" y2="212.00" stroke="#e1e1e1" stroke-width="0.8"/><line x1="38.85" x2="76.85" y1="214.75" y2="214.75" stroke="#eaeaea" stroke-width="0.7"/><line x1="38.85" x2="76.85" y1="217.50" y2="217.50" stroke="#e1e1e1" stroke-width="0.8"/><line x1="38.85" x2="76.85" y1="220.25" y2="220.25" stroke="#eaeaea" stroke-width="0.7"/><line x1="38.85" x2="76.85" y1="223.00" y2="223.00" stroke="#e1e1e1" stroke-width="0.8"/><line x1="38.85" x2="76.85" y1="225.75" y2="225.75" stroke="#eaeaea" stroke-width="0.7"/><line x1="38.85" x2="76.85" y1="228.50" y2="228.50" stroke="#e1e1e1" stroke-width="0.8"/><line x1="43.23" x2="43.23" y1="200.60" y2="229.20" stroke="#e1e1e1" stroke-width="0.8"/><line x1="50.54" x2="50.54" y1="200.60" y2="229.20" stroke="#e1e1e1" stroke-width="0.8"/><line x1="57.85" x2="57.85" y1="200.60" y2="229.20" stroke="#e1e1e1" stroke-width="0.8"/><line x1="65.16" x2="65.16" y1="200.60" y2="229.20" stroke="#e1e1e1" stroke-width="0.8"/><line x1="72.47" x2="72.47" y1="200.60" y2="229.20" stroke="#e1e1e1" stroke-width="0.8"/>
<line x1="83.20" x2="121.20" y1="201.00" y2="201.00" stroke="#e1e1e1" stroke-width="0.8"/><line x1="83.20" x2="121.20" y1="203.75" y2="203.75" stroke="#eaeaea" stroke-width="0.7"/><line x1="83.20" x2="121.20" y1="206.50" y2="206.50" stroke="#e1e1e1" stroke-width="0.8"/><line x1="83.20" x2="121.20" y1="209.25" y2="209.25" stroke="#eaeaea" stroke-width="0.7"/><line x1="83.20" x2="121.20" y1="212.00" y2="212.00" stroke="#e1e1e1" stroke-width="0.8"/><line x1="83.20" x2="121.20" y1="214.75" y2="214.75" stroke="#eaeaea" stroke-width="0.7"/><line x1="83.20" x2="121.20" y1="217.50" y2="217.50" stroke="#e1e1e1" stroke-width="0.8"/><line x1="83.20" x2="121.20" y1="220.25" y2="220.25" stroke="#eaeaea" stroke-width="0.7"/><line x1="83.20" x2="121.20" y1="223.00" y2="223.00" stroke="#e1e1e1" stroke-width="0.8"/><line x1="83.20" x2="121.20" y1="225.75" y2="225.75" stroke="#eaeaea" stroke-width="0.7"/><line x1="83.20" x2="121.20" y1="228.50" y2="228.50" stroke="#e1e1e1" stroke-width="0.8"/><line x1="87.58" x2="87.58" y1="200.60" y2="229.20" stroke="#e1e1e1" stroke-width="0.8"/><line x1="94.89" x2="94.89" y1="200.60" y2="229.20" stroke="#e1e1e1" stroke-width="0.8"/><line x1="102.20" x2="102.20" y1="200.60" y2="229.20" stroke="#e1e1e1" stroke-width="0.8"/><line x1="109.51" x2="109.51" y1="200.60" y2="229.20" stroke="#e1e1e1" stroke-width="0.8"/><line x1="116.82" x2="116.82" y1="200.60" y2="229.20" stroke="#e1e1e1" stroke-width="0.8"/>
<line x1="127.50" x2="165.50" y1="201.00" y2="201.00" stroke="#e1e1e1" stroke-width="0.8"/><line x1="127.50" x2="165.50" y1="203.75" y2="203.75" stroke="#eaeaea" stroke-width="0.7"/><line x1="127.50" x2="165.50" y1="206.50" y2="206.50" stroke="#e1e1e1" stroke-width="0.8"/><line x1="127.50" x2="165.50" y1="209.25" y2="209.25" stroke="#eaeaea" stroke-width="0.7"/><line x1="127.50" x2="165.50" y1="212.00" y2="212.00" stroke="#e1e1e1" stroke-width="0.8"/><line x1="127.50" x2="165.50" y1="214.75" y2="214.75" stroke="#eaeaea" stroke-width="0.7"/><line x1="127.50" x2="165.50" y1="217.50" y2="217.50" stroke="#e1e1e1" stroke-width="0.8"/><line x1="127.50" x2="165.50" y1="220.25" y2="220.25" stroke="#eaeaea" stroke-width="0.7"/><line x1="127.50" x2="165.50" y1="223.00" y2="223.00" stroke="#e1e1e1" stroke-width="0.8"/><line x1="127.50" x2="165.50" y1="225.75" y2="225.75" stroke="#eaeaea" stroke-width="0.7"/><line x1="127.50" x2="165.50" y1="228.50" y2="228.50" stroke="#e1e1e1" stroke-width="0.8"/><line x1="131.88" x2="131.88" y1="200.60" y2="229.20" stroke="#e1e1e1" stroke-width="0.8"/><line x1="139.19" x2="139.19" y1="200.60" y2="229.20" stroke="#e1e1e1" stroke-width="0.8"/><line x1="146.50" x2="146.50" y1="200.60" y2="229.20" stroke="#e1e1e1" stroke-width="0.8"/><line x1="153.81" x2="153.81" y1="200.60" y2="229.20" stroke="#e1e1e1" stroke-width="0.8"/><line x1="161.12" x2="161.12" y1="200.60" y2="229.20" stroke="#e1e1e1" stroke-width="0.8"/>
<line x1="171.85" x2="209.85" y1="201.00" y2="201.00" stroke="#e1e1e1" stroke-width="0.8"/><line x1="171.85" x2="209.85" y1="203.75" y2="203.75" stroke="#eaeaea" stroke-width="0.7"/><line x1="171.85" x2="209.85" y1="206.50" y2="206.50" stroke="#e1e1e1" stroke-width="0.8"/><line x1="171.85" x2="209.85" y1="209.25" y2="209.25" stroke="#eaeaea" stroke-width="0.7"/><line x1="171.85" x2="209.85" y1="212.00" y2="212.00" stroke="#e1e1e1" stroke-width="0.8"/><line x1="171.85" x2="209.85" y1="214.75" y2="214.75" stroke="#eaeaea" stroke-width="0.7"/><line x1="171.85" x2="209.85" y1="217.50" y2="217.50" stroke="#e1e1e1" stroke-width="0.8"/><line x1="171.85" x2="209.85" y1="220.25" y2="220.25" stroke="#eaeaea" stroke-width="0.7"/><line x1="171.85" x2="209.85" y1="223.00" y2="223.00" stroke="#e1e1e1" stroke-width="0.8"/><line x1="171.85" x2="209.85" y1="225.75" y2="225.75" stroke="#eaeaea" stroke-width="0.7"/><line x1="171.85" x2="209.85" y1="228.50" y2="228.50" stroke="#e1e1e1" stroke-width="0.8"/><line x1="176.23" x2="176.23" y1="200.60" y2="229.20" stroke="#e1e1e1" stroke-width="0.8"/><line x1="183.54" x2="183.54" y1="200.60" y2="229.20" stroke="#e1e1e1" stroke-width="0.8"/><line x1="190.85" x2="190.85" y1="200.60" y2="229.20" stroke="#e1e1e1" stroke-width="0.8"/><line x1="198.16" x2="198.16" y1="200.60" y2="229.20" stroke="#e1e1e1" stroke-width="0.8"/><line x1="205.47" x2="205.47" y1="200.60" y2="229.20" stroke="#e1e1e1" stroke-width="0.8"/>
<text x="215.85" y="249.50" font-size="7.6" text-anchor="middle" transform="rotate(90 215.85 249.50)">FORCINA</text>
<text x="33.45" y="238.45" font-size="8" text-anchor="end">1.00</text>
<text x="33.45" y="243.95" font-size="8" text-anchor="end">0.75</text>
<text x="33.45" y="249.45" font-size="8" text-anchor="end">0.50</text>
<text x="33.45" y="254.95" font-size="8" text-anchor="end">0.25</text>
<text x="33.45" y="260.45" font-size="8" text-anchor="end">0.00</text>
<text x="33.45" y="265.95" font-size="8" text-anchor="end">−0.25</text>
<line x1="38.85" x2="76.85" y1="235.60" y2="235.60" stroke="#e1e1e1" stroke-width="0.8"/><line x1="38.85" x2="76.85" y1="238.35" y2="238.35" stroke="#eaeaea" stroke-width="0.7"/><line x1="38.85" x2="76.85" y1="241.10" y2="241.10" stroke="#e1e1e1" stroke-width="0.8"/><line x1="38.85" x2="76.85" y1="243.85" y2="243.85" stroke="#eaeaea" stroke-width="0.7"/><line x1="38.85" x2="76.85" y1="246.60" y2="246.60" stroke="#e1e1e1" stroke-width="0.8"/><line x1="38.85" x2="76.85" y1="249.35" y2="249.35" stroke="#eaeaea" stroke-width="0.7"/><line x1="38.85" x2="76.85" y1="252.10" y2="252.10" stroke="#e1e1e1" stroke-width="0.8"/><line x1="38.85" x2="76.85" y1="254.85" y2="254.85" stroke="#eaeaea" stroke-width="0.7"/><line x1="38.85" x2="76.85" y1="257.60" y2="257.60" stroke="#e1e1e1" stroke-width="0.8"/><line x1="38.85" x2="76.85" y1="260.35" y2="260.35" stroke="#eaeaea" stroke-width="0.7"/><line x1="38.85" x2="76.85" y1="263.10" y2="263.10" stroke="#e1e1e1" stroke-width="0.8"/><line x1="43.23" x2="43.23" y1="235.20" y2="263.80" stroke="#e1e1e1" stroke-width="0.8"/><line x1="50.54" x2="50.54" y1="235.20" y2="263.80" stroke="#e1e1e1" stroke-width="0.8"/><line x1="57.85" x2="57.85" y1="235.20" y2="263.80" stroke="#e1e1e1" stroke-width="0.8"/><line x1="65.16" x2="65.16" y1="235.20" y2="263.80" stroke="#e1e1e1" stroke-width="0.8"/><line x1="72.47" x2="72.47" y1="235.20" y2="263.80" stroke="#e1e1e1" stroke-width="0.8"/>
<line x1="83.20" x2="121.20" y1="235.60" y2="235.60" stroke="#e1e1e1" stroke-width="0.8"/><line x1="83.20" x2="121.20" y1="238.35" y2="238.35" stroke="#eaeaea" stroke-width="0.7"/><line x1="83.20" x2="121.20" y1="241.10" y2="241.10" stroke="#e1e1e1" stroke-width="0.8"/><line x1="83.20" x2="121.20" y1="243.85" y2="243.85" stroke="#eaeaea" stroke-width="0.7"/><line x1="83.20" x2="121.20" y1="246.60" y2="246.60" stroke="#e1e1e1" stroke-width="0.8"/><line x1="83.20" x2="121.20" y1="249.35" y2="249.35" stroke="#eaeaea" stroke-width="0.7"/><line x1="83.20" x2="121.20" y1="252.10" y2="252.10" stroke="#e1e1e1" stroke-width="0.8"/><line x1="83.20" x2="121.20" y1="254.85" y2="254.85" stroke="#eaeaea" stroke-width="0.7"/><line x1="83.20" x2="121.20" y1="257.60" y2="257.60" stroke="#e1e1e1" stroke-width="0.8"/><line x1="83.20" x2="121.20" y1="260.35" y2="260.35" stroke="#eaeaea" stroke-width="0.7"/><line x1="83.20" x2="121.20" y1="263.10" y2="263.10" stroke="#e1e1e1" stroke-width="0.8"/><line x1="87.58" x2="87.58" y1="235.20" y2="263.80" stroke="#e1e1e1" stroke-width="0.8"/><line x1="94.89" x2="94.89" y1="235.20" y2="263.80" stroke="#e1e1e1" stroke-width="0.8"/><line x1="102.20" x2="102.20" y1="235.20" y2="263.80" stroke="#e1e1e1" stroke-width="0.8"/><line x1="109.51" x2="109.51" y1="235.20" y2="263.80" stroke="#e1e1e1" stroke-width="0.8"/><line x1="116.82" x2="116.82" y1="235.20" y2="263.80" stroke="#e1e1e1" stroke-width="0.8"/>
<line x1="127.50" x2="165.50" y1="235.60" y2="235.60" stroke="#e1e1e1" stroke-width="0.8"/><line x1="127.50" x2="165.50" y1="238.35" y2="238.35" stroke="#eaeaea" stroke-width="0.7"/><line x1="127.50" x2="165.50" y1="241.10" y2="241.10" stroke="#e1e1e1" stroke-width="0.8"/><line x1="127.50" x2="165.50" y1="243.85" y2="243.85" stroke="#eaeaea" stroke-width="0.7"/><line x1="127.50" x2="165.50" y1="246.60" y2="246.60" stroke="#e1e1e1" stroke-width="0.8"/><line x1="127.50" x2="165.50" y1="249.35" y2="249.35" stroke="#eaeaea" stroke-width="0.7"/><line x1="127.50" x2="165.50" y1="252.10" y2="252.10" stroke="#e1e1e1" stroke-width="0.8"/><line x1="127.50" x2="165.50" y1="254.85" y2="254.85" stroke="#eaeaea" stroke-width="0.7"/><line x1="127.50" x2="165.50" y1="257.60" y2="257.60" stroke="#e1e1e1" stroke-width="0.8"/><line x1="127.50" x2="165.50" y1="260.35" y2="260.35" stroke="#eaeaea" stroke-width="0.7"/><line x1="127.50" x2="165.50" y1="263.10" y2="263.10" stroke="#e1e1e1" stroke-width="0.8"/><line x1="131.88" x2="131.88" y1="235.20" y2="263.80" stroke="#e1e1e1" stroke-width="0.8"/><line x1="139.19" x2="139.19" y1="235.20" y2="263.80" stroke="#e1e1e1" stroke-width="0.8"/><line x1="146.50" x2="146.50" y1="235.20" y2="263.80" stroke="#e1e1e1" stroke-width="0.8"/><line x1="153.81" x2="153.81" y1="235.20" y2="263.80" stroke="#e1e1e1" stroke-width="0.8"/><line x1="161.12" x2="161.12" y1="235.20" y2="263.80" stroke="#e1e1e1" stroke-width="0.8"/>
<line x1="171.85" x2="209.85" y1="235.60" y2="235.60" stroke="#e1e1e1" stroke-width="0.8"/><line x1="171.85" x2="209.85" y1="238.35" y2="238.35" stroke="#eaeaea" stroke-width="0.7"/><line x1="171.85" x2="209.85" y1="241.10" y2="241.10" stroke="#e1e1e1" stroke-width="0.8"/><line x1="171.85" x2="209.85" y1="243.85" y2="243.85" stroke="#eaeaea" stroke-width="0.7"/><line x1="171.85" x2="209.85" y1="246.60" y2="246.60" stroke="#e1e1e1" stroke-width="0.8"/><line x1="171.85" x2="209.85" y1="249.35" y2="249.35" stroke="#eaeaea" stroke-width="0.7"/><line x1="171.85" x2="209.85" y1="252.10" y2="252.10" stroke="#e1e1e1" stroke-width="0.8"/><line x1="171.85" x2="209.85" y1="254.85" y2="254.85" stroke="#eaeaea" stroke-width="0.7"/><line x1="171.85" x2="209.85" y1="257.60" y2="257.60" stroke="#e1e1e1" stroke-width="0.8"/><line x1="171.85" x2="209.85" y1="260.35" y2="260.35" stroke="#eaeaea" stroke-width="0.7"/><line x1="171.85" x2="209.85" y1="263.10" y2="263.10" stroke="#e1e1e1" stroke-width="0.8"/><line x1="176.23" x2="176.23" y1="235.20" y2="263.80" stroke="#e1e1e1" stroke-width="0.8"/><line x1="183.54" x2="183.54" y1="235.20" y2="263.80" stroke="#e1e1e1" stroke-width="0.8"/><line x1="190.85" x2="190.85" y1="235.20" y2="263.80" stroke="#e1e1e1" stroke-width="0.8"/><line x1="198.16" x2="198.16" y1="235.20" y2="263.80" stroke="#e1e1e1" stroke-width="0.8"/><line x1="205.47" x2="205.47" y1="235.20" y2="263.80" stroke="#e1e1e1" stroke-width="0.8"/>
<text x="215.85" y="284.90" font-size="7.6" text-anchor="middle" transform="rotate(90 215.85 284.90)">Mathews</text>
<text x="33.45" y="273.05" font-size="8" text-anchor="end">1.00</text>
<text x="33.45" y="278.55" font-size="8" text-anchor="end">0.75</text>
<text x="33.45" y="284.05" font-size="8" text-anchor="end">0.50</text>
<text x="33.45" y="289.55" font-size="8" text-anchor="end">0.25</text>
<text x="33.45" y="295.05" font-size="8" text-anchor="end">0.00</text>
<text x="33.45" y="300.55" font-size="8" text-anchor="end">−0.25</text>
<line x1="38.85" x2="76.85" y1="270.20" y2="270.20" stroke="#e1e1e1" stroke-width="0.8"/><line x1="38.85" x2="76.85" y1="272.95" y2="272.95" stroke="#eaeaea" stroke-width="0.7"/><line x1="38.85" x2="76.85" y1="275.70" y2="275.70" stroke="#e1e1e1" stroke-width="0.8"/><line x1="38.85" x2="76.85" y1="278.45" y2="278.45" stroke="#eaeaea" stroke-width="0.7"/><line x1="38.85" x2="76.85" y1="281.20" y2="281.20" stroke="#e1e1e1" stroke-width="0.8"/><line x1="38.85" x2="76.85" y1="283.95" y2="283.95" stroke="#eaeaea" stroke-width="0.7"/><line x1="38.85" x2="76.85" y1="286.70" y2="286.70" stroke="#e1e1e1" stroke-width="0.8"/><line x1="38.85" x2="76.85" y1="289.45" y2="289.45" stroke="#eaeaea" stroke-width="0.7"/><line x1="38.85" x2="76.85" y1="292.20" y2="292.20" stroke="#e1e1e1" stroke-width="0.8"/><line x1="38.85" x2="76.85" y1="294.95" y2="294.95" stroke="#eaeaea" stroke-width="0.7"/><line x1="38.85" x2="76.85" y1="297.70" y2="297.70" stroke="#e1e1e1" stroke-width="0.8"/><line x1="43.23" x2="43.23" y1="269.80" y2="298.40" stroke="#e1e1e1" stroke-width="0.8"/><line x1="50.54" x2="50.54" y1="269.80" y2="298.40" stroke="#e1e1e1" stroke-width="0.8"/><line x1="57.85" x2="57.85" y1="269.80" y2="298.40" stroke="#e1e1e1" stroke-width="0.8"/><line x1="65.16" x2="65.16" y1="269.80" y2="298.40" stroke="#e1e1e1" stroke-width="0.8"/><line x1="72.47" x2="72.47" y1="269.80" y2="298.40" stroke="#e1e1e1" stroke-width="0.8"/>
<line x1="83.20" x2="121.20" y1="270.20" y2="270.20" stroke="#e1e1e1" stroke-width="0.8"/><line x1="83.20" x2="121.20" y1="272.95" y2="272.95" stroke="#eaeaea" stroke-width="0.7"/><line x1="83.20" x2="121.20" y1="275.70" y2="275.70" stroke="#e1e1e1" stroke-width="0.8"/><line x1="83.20" x2="121.20" y1="278.45" y2="278.45" stroke="#eaeaea" stroke-width="0.7"/><line x1="83.20" x2="121.20" y1="281.20" y2="281.20" stroke="#e1e1e1" stroke-width="0.8"/><line x1="83.20" x2="121.20" y1="283.95" y2="283.95" stroke="#eaeaea" stroke-width="0.7"/><line x1="83.20" x2="121.20" y1="286.70" y2="286.70" stroke="#e1e1e1" stroke-width="0.8"/><line x1="83.20" x2="121.20" y1="289.45" y2="289.45" stroke="#eaeaea" stroke-width="0.7"/><line x1="83.20" x2="121.20" y1="292.20" y2="292.20" stroke="#e1e1e1" stroke-width="0.8"/><line x1="83.20" x2="121.20" y1="294.95" y2="294.95" stroke="#eaeaea" stroke-width="0.7"/><line x1="83.20" x2="121.20" y1="297.70" y2="297.70" stroke="#e1e1e1" stroke-width="0.8"/><line x1="87.58" x2="87.58" y1="269.80" y2="298.40" stroke="#e1e1e1" stroke-width="0.8"/><line x1="94.89" x2="94.89" y1="269.80" y2="298.40" stroke="#e1e1e1" stroke-width="0.8"/><line x1="102.20" x2="102.20" y1="269.80" y2="298.40" stroke="#e1e1e1" stroke-width="0.8"/><line x1="109.51" x2="109.51" y1="269.80" y2="298.40" stroke="#e1e1e1" stroke-width="0.8"/><line x1="116.82" x2="116.82" y1="269.80" y2="298.40" stroke="#e1e1e1" stroke-width="0.8"/>
<line x1="127.50" x2="165.50" y1="270.20" y2="270.20" stroke="#e1e1e1" stroke-width="0.8"/><line x1="127.50" x2="165.50" y1="272.95" y2="272.95" stroke="#eaeaea" stroke-width="0.7"/><line x1="127.50" x2="165.50" y1="275.70" y2="275.70" stroke="#e1e1e1" stroke-width="0.8"/><line x1="127.50" x2="165.50" y1="278.45" y2="278.45" stroke="#eaeaea" stroke-width="0.7"/><line x1="127.50" x2="165.50" y1="281.20" y2="281.20" stroke="#e1e1e1" stroke-width="0.8"/><line x1="127.50" x2="165.50" y1="283.95" y2="283.95" stroke="#eaeaea" stroke-width="0.7"/><line x1="127.50" x2="165.50" y1="286.70" y2="286.70" stroke="#e1e1e1" stroke-width="0.8"/><line x1="127.50" x2="165.50" y1="289.45" y2="289.45" stroke="#eaeaea" stroke-width="0.7"/><line x1="127.50" x2="165.50" y1="292.20" y2="292.20" stroke="#e1e1e1" stroke-width="0.8"/><line x1="127.50" x2="165.50" y1="294.95" y2="294.95" stroke="#eaeaea" stroke-width="0.7"/><line x1="127.50" x2="165.50" y1="297.70" y2="297.70" stroke="#e1e1e1" stroke-width="0.8"/><line x1="131.88" x2="131.88" y1="269.80" y2="298.40" stroke="#e1e1e1" stroke-width="0.8"/><line x1="139.19" x2="139.19" y1="269.80" y2="298.40" stroke="#e1e1e1" stroke-width="0.8"/><line x1="146.50" x2="146.50" y1="269.80" y2="298.40" stroke="#e1e1e1" stroke-width="0.8"/><line x1="153.81" x2="153.81" y1="269.80" y2="298.40" stroke="#e1e1e1" stroke-width="0.8"/><line x1="161.12" x2="161.12" y1="269.80" y2="298.40" stroke="#e1e1e1" stroke-width="0.8"/>
<line x1="171.85" x2="209.85" y1="270.20" y2="270.20" stroke="#e1e1e1" stroke-width="0.8"/><line x1="171.85" x2="209.85" y1="272.95" y2="272.95" stroke="#eaeaea" stroke-width="0.7"/><line x1="171.85" x2="209.85" y1="275.70" y2="275.70" stroke="#e1e1e1" stroke-width="0.8"/><line x1="171.85" x2="209.85" y1="278.45" y2="278.45" stroke="#eaeaea" stroke-width="0.7"/><line x1="171.85" x2="209.85" y1="281.20" y2="281.20" stroke="#e1e1e1" stroke-width="0.8"/><line x1="171.85" x2="209.85" y1="283.95" y2="283.95" stroke="#eaeaea" stroke-width="0.7"/><line x1="171.85" x2="209.85" y1="286.70" y2="286.70" stroke="#e1e1e1" stroke-width="0.8"/><line x1="171.85" x2="209.85" y1="289.45" y2="289.45" stroke="#eaeaea" stroke-width="0.7"/><line x1="171.85" x2="209.85" y1="292.20" y2="292.20" stroke="#e1e1e1" stroke-width="0.8"/><line x1="171.85" x2="209.85" y1="294.95" y2="294.95" stroke="#eaeaea" stroke-width="0.7"/><line x1="171.85" x2="209.85" y1="297.70" y2="297.70" stroke="#e1e1e1" stroke-width="0.8"/><line x1="176.23" x2="176.23" y1="269.80" y2="298.40" stroke="#e1e1e1" stroke-width="0.8"/><line x1="183.54" x2="183.54" y1="269.80" y2="298.40" stroke="#e1e1e1" stroke-width="0.8"/><line x1="190.85" x2="190.85" y1="269.80" y2="298.40" stroke="#e1e1e1" stroke-width="0.8"/><line x1="198.16" x2="198.16" y1="269.80" y2="298.40" stroke="#e1e1e1" stroke-width="0.8"/><line x1="205.47" x2="205.47" y1="269.80" y2="298.40" stroke="#e1e1e1" stroke-width="0.8"/>
<text x="40.38" y="303.00" font-size="8" text-anchor="start" transform="rotate(90 40.38 303.00)">M13</text>
<text x="47.69" y="303.00" font-size="8" text-anchor="start" transform="rotate(90 47.69 303.00)">M14</text>
<text x="55.00" y="303.00" font-size="8" text-anchor="start" transform="rotate(90 55.00 303.00)">M15</text>
<text x="62.31" y="303.00" font-size="8" text-anchor="start" transform="rotate(90 62.31 303.00)">M16</text>
<text x="69.62" y="303.00" font-size="8" text-anchor="start" transform="rotate(90 69.62 303.00)">M20</text>
<text x="84.73" y="303.00" font-size="8" text-anchor="start" transform="rotate(90 84.73 303.00)">M13</text>
<text x="92.04" y="303.00" font-size="8" text-anchor="start" transform="rotate(90 92.04 303.00)">M14</text>
<text x="99.35" y="303.00" font-size="8" text-anchor="start" transform="rotate(90 99.35 303.00)">M15</text>
<text x="106.66" y="303.00" font-size="8" text-anchor="start" transform="rotate(90 106.66 303.00)">M16</text>
<text x="113.97" y="303.00" font-size="8" text-anchor="start" transform="rotate(90 113.97 303.00)">M20</text>
<text x="129.03" y="303.00" font-size="8" text-anchor="start" transform="rotate(90 129.03 303.00)">M13</text>
<text x="136.34" y="303.00" font-size="8" text-anchor="start" transform="rotate(90 136.34 303.00)">M14</text>
<text x="143.65" y="303.00" font-size="8" text-anchor="start" transform="rotate(90 143.65 303.00)">M15</text>
<text x="150.96" y="303.00" font-size="8" text-anchor="start" transform="rotate(90 150.96 303.00)">M16</text>
<text x="158.27" y="303.00" font-size="8" text-anchor="start" transform="rotate(90 158.27 303.00)">M20</text>
<text x="173.38" y="303.00" font-size="8" text-anchor="start" transform="rotate(90 173.38 303.00)">M13</text>
<text x="180.69" y="303.00" font-size="8" text-anchor="start" transform="rotate(90 180.69 303.00)">M14</text>
<text x="188.00" y="303.00" font-size="8" text-anchor="start" transform="rotate(90 188.00 303.00)">M15</text>
<text x="195.31" y="303.00" font-size="8" text-anchor="start" transform="rotate(90 195.31 303.00)">M16</text>
<text x="202.62" y="303.00" font-size="8" text-anchor="start" transform="rotate(90 202.62 303.00)">M20</text>
<rect x="41.78" y="168.08" width="2.9" height="1.9" rx="0.7" fill="#E64B35"/>
<rect x="49.09" y="168.08" width="2.9" height="1.9" rx="0.7" fill="#4DBBD5"/>
<rect x="56.40" y="167.07" width="2.9" height="1.9" rx="0.7" fill="#00A087"/>
<rect x="63.71" y="166.67" width="2.9" height="1.9" rx="0.7" fill="#3C5488"/>
<rect x="71.02" y="166.47" width="2.9" height="1.9" rx="0.7" fill="#F39B7F"/>
<polygon points="72.47,162.51 73.08,164.16 74.84,164.24 73.46,165.34 73.93,167.04 72.47,166.06 71.00,167.04 71.47,165.34 70.09,164.24 71.85,164.16" fill="#FF1E1E"/>
<rect x="86.13" y="185.12" width="2.9" height="1.9" rx="0.7" fill="#E64B35"/>
<rect x="93.44" y="185.12" width="2.9" height="1.9" rx="0.7" fill="#4DBBD5"/>
<rect x="100.75" y="169.88" width="2.9" height="1.9" rx="0.7" fill="#00A087"/>
<rect x="108.06" y="179.11" width="2.9" height="1.9" rx="0.7" fill="#3C5488"/>
<rect x="115.37" y="167.87" width="2.9" height="1.9" rx="0.7" fill="#F39B7F"/>
<polygon points="116.82,163.92 117.43,165.57 119.19,165.64 117.81,166.74 118.28,168.44 116.82,167.47 115.35,168.44 115.82,166.74 114.44,165.64 116.20,165.57" fill="#FF1E1E"/>
<rect x="41.78" y="218.62" width="2.9" height="1.9" rx="0.7" fill="#E64B35"/>
<rect x="49.09" y="218.62" width="2.9" height="1.9" rx="0.7" fill="#4DBBD5"/>
<rect x="56.40" y="206.18" width="2.9" height="1.9" rx="0.7" fill="#00A087"/>
<rect x="63.71" y="206.18" width="2.9" height="1.9" rx="0.7" fill="#3C5488"/>
<rect x="71.02" y="202.97" width="2.9" height="1.9" rx="0.7" fill="#F39B7F"/>
<polygon points="72.47,199.42 73.08,201.07 74.84,201.14 73.46,202.24 73.93,203.94 72.47,202.97 71.00,203.94 71.47,202.24 70.09,201.14 71.85,201.07" fill="#FF1E1E"/>
<rect x="86.13" y="201.97" width="2.9" height="1.9" rx="0.7" fill="#E64B35"/>
<rect x="93.44" y="201.97" width="2.9" height="1.9" rx="0.7" fill="#4DBBD5"/>
<rect x="100.75" y="201.97" width="2.9" height="1.9" rx="0.7" fill="#00A087"/>
<rect x="108.06" y="201.77" width="2.9" height="1.9" rx="0.7" fill="#3C5488"/>
<rect x="115.37" y="201.97" width="2.9" height="1.9" rx="0.7" fill="#F39B7F"/>
<polygon points="109.51,197.81 110.12,199.46 111.89,199.54 110.51,200.64 110.98,202.33 109.51,201.36 108.04,202.33 108.51,200.64 107.13,199.54 108.89,199.46" fill="#FF1E1E"/>
<ellipse cx="43.23" cy="255.87" rx="1.5" ry="1.2" fill="#E64B35"/>
<ellipse cx="50.54" cy="255.87" rx="1.5" ry="1.2" fill="#4DBBD5"/>
<ellipse cx="57.85" cy="240.63" rx="1.5" ry="1.2" fill="#00A087"/>
<ellipse cx="65.16" cy="241.63" rx="1.5" ry="1.2" fill="#3C5488"/>
<ellipse cx="72.47" cy="241.03" rx="1.5" ry="1.2" fill="#F39B7F"/>
<polygon points="57.85,235.52 58.47,237.17 60.23,237.25 58.85,238.34 59.32,240.04 57.85,239.07 56.38,240.04 56.85,238.34 55.47,237.25 57.23,237.17" fill="#FF1E1E"/>
<ellipse cx="87.58" cy="255.47" rx="1.5" ry="1.2" fill="#E64B35"/>
<ellipse cx="94.89" cy="255.47" rx="1.5" ry="1.2" fill="#4DBBD5"/>
<ellipse cx="102.20" cy="241.23" rx="1.5" ry="1.2" fill="#00A087"/>
<ellipse cx="109.51" cy="242.43" rx="1.5" ry="1.2" fill="#3C5488"/>
<ellipse cx="116.82" cy="240.83" rx="1.5" ry="1.2" fill="#F39B7F"/>
<polygon points="116.82,235.92 117.43,237.57 119.19,237.65 117.81,238.74 118.28,240.44 116.82,239.47 115.35,240.44 115.82,238.74 114.44,237.65 116.20,237.57" fill="#FF1E1E"/>
<ellipse cx="43.23" cy="295.98" rx="1.5" ry="1.2" fill="#E64B35"/>
<ellipse cx="50.54" cy="295.98" rx="1.5" ry="1.2" fill="#4DBBD5"/>
<ellipse cx="57.85" cy="277.53" rx="1.5" ry="1.2" fill="#00A087"/>
<ellipse cx="65.16" cy="277.73" rx="1.5" ry="1.2" fill="#3C5488"/>
<ellipse cx="72.47" cy="272.92" rx="1.5" ry="1.2" fill="#F39B7F"/>
<polygon points="72.47,267.81 73.08,269.46 74.84,269.54 73.46,270.63 73.93,272.33 72.47,271.36 71.00,272.33 71.47,270.63 70.09,269.54 71.85,269.46" fill="#FF1E1E"/>
<ellipse cx="87.58" cy="290.77" rx="1.5" ry="1.2" fill="#E64B35"/>
<ellipse cx="94.89" cy="290.77" rx="1.5" ry="1.2" fill="#4DBBD5"/>
<ellipse cx="102.20" cy="275.92" rx="1.5" ry="1.2" fill="#00A087"/>
<ellipse cx="109.51" cy="279.94" rx="1.5" ry="1.2" fill="#3C5488"/>
<ellipse cx="116.82" cy="273.32" rx="1.5" ry="1.2" fill="#F39B7F"/>
<polygon points="116.82,268.41 117.43,270.06 119.19,270.14 117.81,271.23 118.28,272.93 116.82,271.96 115.35,272.93 115.82,271.23 114.44,270.14 116.20,270.06" fill="#FF1E1E"/>
<rect x="130.43" y="187.33" width="2.9" height="1.9" rx="0.7" fill="#E64B35"/>
<rect x="137.74" y="182.52" width="2.9" height="1.9" rx="0.7" fill="#4DBBD5"/>
<rect x="145.05" y="176.30" width="2.9" height="1.9" rx="0.7" fill="#00A087"/>
<rect x="152.36" y="176.30" width="2.9" height="1.9" rx="0.7" fill="#3C5488"/>
<rect x="159.67" y="176.30" width="2.9" height="1.9" rx="0.7" fill="#F39B7F"/>
<polygon points="161.12,172.14 161.73,173.79 163.49,173.87 162.11,174.96 162.58,176.66 161.12,175.69 159.65,176.66 160.12,174.96 158.74,173.87 160.50,173.79" fill="#FF1E1E"/>
<rect x="174.78" y="187.33" width="2.9" height="1.9" rx="0.7" fill="#E64B35"/>
<rect x="182.09" y="185.12" width="2.9" height="1.9" rx="0.7" fill="#4DBBD5"/>
<rect x="189.40" y="175.30" width="2.9" height="1.9" rx="0.7" fill="#00A087"/>
<rect x="196.71" y="172.69" width="2.9" height="1.9" rx="0.7" fill="#3C5488"/>
<rect x="204.02" y="169.08" width="2.9" height="1.9" rx="0.7" fill="#F39B7F"/>
<polygon points="205.47,165.32 206.08,166.97 207.84,167.05 206.46,168.15 206.93,169.84 205.47,168.87 204.00,169.84 204.47,168.15 203.09,167.05 204.85,166.97" fill="#FF1E1E"/>
<rect x="130.43" y="222.23" width="2.9" height="1.9" rx="0.7" fill="#E64B35"/>
<rect x="137.74" y="214.81" width="2.9" height="1.9" rx="0.7" fill="#4DBBD5"/>
<rect x="145.05" y="210.79" width="2.9" height="1.9" rx="0.7" fill="#00A087"/>
<rect x="152.36" y="210.79" width="2.9" height="1.9" rx="0.7" fill="#3C5488"/>
<rect x="159.67" y="212.00" width="2.9" height="1.9" rx="0.7" fill="#F39B7F"/>
<polygon points="146.50,206.44 147.12,208.09 148.88,208.16 147.50,209.26 147.97,210.96 146.50,209.99 145.03,210.96 145.50,209.26 144.12,208.16 145.88,208.09" fill="#FF1E1E"/>
<polygon points="153.81,206.44 154.42,208.09 156.19,208.16 154.81,209.26 155.28,210.96 153.81,209.99 152.34,210.96 152.81,209.26 151.43,208.16 153.19,208.09" fill="#FF1E1E"/>
<rect x="174.78" y="219.02" width="2.9" height="1.9" rx="0.7" fill="#E64B35"/>
<rect x="182.09" y="217.81" width="2.9" height="1.9" rx="0.7" fill="#4DBBD5"/>
<rect x="189.40" y="210.79" width="2.9" height="1.9" rx="0.7" fill="#00A087"/>
<rect x="196.71" y="207.79" width="2.9" height="1.9" rx="0.7" fill="#3C5488"/>
<rect x="204.02" y="204.98" width="2.9" height="1.9" rx="0.7" fill="#F39B7F"/>
<polygon points="205.47,200.82 206.08,202.47 207.84,202.55 206.46,203.65 206.93,205.34 205.47,204.37 204.00,205.34 204.47,203.65 203.09,202.55 204.85,202.47" fill="#FF1E1E"/>
<ellipse cx="131.88" cy="258.68" rx="1.5" ry="1.2" fill="#E64B35"/>
<ellipse cx="139.19" cy="244.64" rx="1.5" ry="1.2" fill="#4DBBD5"/>
<ellipse cx="146.50" cy="239.42" rx="1.5" ry="1.2" fill="#00A087"/>
<ellipse cx="153.81" cy="239.42" rx="1.5" ry="1.2" fill="#3C5488"/>
<ellipse cx="161.12" cy="239.62" rx="1.5" ry="1.2" fill="#F39B7F"/>
<polygon points="146.50,234.31 147.12,235.97 148.88,236.04 147.50,237.14 147.97,238.84 146.50,237.86 145.03,238.84 145.50,237.14 144.12,236.04 145.88,235.97" fill="#FF1E1E"/>
<polygon points="153.81,234.31 154.42,235.97 156.19,236.04 154.81,237.14 155.28,238.84 153.81,237.86 152.34,238.84 152.81,237.14 151.43,236.04 153.19,235.97" fill="#FF1E1E"/>
<ellipse cx="176.23" cy="258.48" rx="1.5" ry="1.2" fill="#E64B35"/>
<ellipse cx="183.54" cy="254.06" rx="1.5" ry="1.2" fill="#4DBBD5"/>
<ellipse cx="190.85" cy="241.63" rx="1.5" ry="1.2" fill="#00A087"/>
<ellipse cx="198.16" cy="244.24" rx="1.5" ry="1.2" fill="#3C5488"/>
<ellipse cx="205.47" cy="244.64" rx="1.5" ry="1.2" fill="#F39B7F"/>
<polygon points="190.85,236.52 191.47,238.17 193.23,238.25 191.85,239.35 192.32,241.04 190.85,240.07 189.38,241.04 189.85,239.35 188.47,238.25 190.23,238.17" fill="#FF1E1E"/>
<ellipse cx="131.88" cy="292.77" rx="1.5" ry="1.2" fill="#E64B35"/>
<ellipse cx="139.19" cy="287.16" rx="1.5" ry="1.2" fill="#4DBBD5"/>
<ellipse cx="146.50" cy="280.94" rx="1.5" ry="1.2" fill="#00A087"/>
<ellipse cx="153.81" cy="280.94" rx="1.5" ry="1.2" fill="#3C5488"/>
<ellipse cx="161.12" cy="286.96" rx="1.5" ry="1.2" fill="#F39B7F"/>
<polygon points="146.50,275.83 147.12,277.48 148.88,277.56 147.50,278.66 147.97,280.35 146.50,279.38 145.03,280.35 145.50,278.66 144.12,277.56 145.88,277.48" fill="#FF1E1E"/>
<polygon points="153.81,275.83 154.42,277.48 156.19,277.56 154.81,278.66 155.28,280.35 153.81,279.38 152.34,280.35 152.81,278.66 151.43,277.56 153.19,277.48" fill="#FF1E1E"/>
<ellipse cx="176.23" cy="290.16" rx="1.5" ry="1.2" fill="#E64B35"/>
<ellipse cx="183.54" cy="282.14" rx="1.5" ry="1.2" fill="#4DBBD5"/>
<ellipse cx="190.85" cy="272.92" rx="1.5" ry="1.2" fill="#00A087"/>
<ellipse cx="198.16" cy="272.31" rx="1.5" ry="1.2" fill="#3C5488"/>
<ellipse cx="205.47" cy="271.91" rx="1.5" ry="1.2" fill="#F39B7F"/>
<polygon points="205.47,267.21 206.08,268.86 207.84,268.93 206.46,270.03 206.93,271.73 205.47,270.76 204.00,271.73 204.47,270.03 203.09,268.93 204.85,268.86" fill="#FF1E1E"/>
</g>
<g id="grid-Bliss">
<text x="353.30" y="149.90" font-size="11.5" text-anchor="middle" font-weight="bold" fill="#000">Bliss</text>
<text x="285.65" y="160.00" font-size="8.3" text-anchor="middle">ALMANAC</text>
<text x="330.45" y="160.00" font-size="8.3" text-anchor="middle">O'Neil</text>
<text x="376.70" y="160.00" font-size="8.3" text-anchor="middle">FORCINA</text>
<text x="422.35" y="160.00" font-size="8.3" text-anchor="middle">Mathews</text>
<text x="239.40" y="233.40" font-size="9.3" text-anchor="middle" transform="rotate(-90 239.40 233.40)">Pearson's r</text>
<text x="448.15" y="178.70" font-size="7.6" text-anchor="middle" transform="rotate(90 448.15 178.70)">ALMANAC</text>
<text x="260.70" y="174.25" font-size="8" text-anchor="end">0.75</text>
<text x="260.70" y="180.95" font-size="8" text-anchor="end">0.50</text>
<text x="260.70" y="187.65" font-size="8" text-anchor="end">0.25</text>
<text x="260.70" y="194.35" font-size="8" text-anchor="end">0.00</text>
<line x1="266.10" x2="305.20" y1="168.05" y2="168.05" stroke="#eaeaea" stroke-width="0.7"/><line x1="266.10" x2="305.20" y1="171.40" y2="171.40" stroke="#e1e1e1" stroke-width="0.8"/><line x1="266.10" x2="305.20" y1="174.75" y2="174.75" stroke="#eaeaea" stroke-width="0.7"/><line x1="266.10" x2="305.20" y1="178.10" y2="178.10" stroke="#e1e1e1" stroke-width="0.8"/><line x1="266.10" x2="305.20" y1="181.45" y2="181.45" stroke="#eaeaea" stroke-width="0.7"/><line x1="266.10" x2="305.20" y1="184.80" y2="184.80" stroke="#e1e1e1" stroke-width="0.8"/><line x1="266.10" x2="305.20" y1="188.15" y2="188.15" stroke="#eaeaea" stroke-width="0.7"/><line x1="266.10" x2="305.20" y1="191.50" y2="191.50" stroke="#e1e1e1" stroke-width="0.8"/><line x1="266.10" x2="305.20" y1="194.85" y2="194.85" stroke="#eaeaea" stroke-width="0.7"/><line x1="270.61" x2="270.61" y1="166.00" y2="194.60" stroke="#e1e1e1" stroke-width="0.8"/><line x1="278.13" x2="278.13" y1="166.00" y2="194.60" stroke="#e1e1e1" stroke-width="0.8"/><line x1="285.65" x2="285.65" y1="166.00" y2="194.60" stroke="#e1e1e1" stroke-width="0.8"/><line x1="293.17" x2="293.17" y1="166.00" y2="194.60" stroke="#e1e1e1" stroke-width="0.8"/><line x1="300.69" x2="300.69" y1="166.00" y2="194.60" stroke="#e1e1e1" stroke-width="0.8"/>
<line x1="311.80" x2="350.90" y1="168.05" y2="168.05" stroke="#eaeaea" stroke-width="0.7"/><line x1="311.80" x2="350.90" y1="171.40" y2="171.40" stroke="#e1e1e1" stroke-width="0.8"/><line x1="311.80" x2="350.90" y1="174.75" y2="174.75" stroke="#eaeaea" stroke-width="0.7"/><line x1="311.80" x2="350.90" y1="178.10" y2="178.10" stroke="#e1e1e1" stroke-width="0.8"/><line x1="311.80" x2="350.90" y1="181.45" y2="181.45" stroke="#eaeaea" stroke-width="0.7"/><line x1="311.80" x2="350.90" y1="184.80" y2="184.80" stroke="#e1e1e1" stroke-width="0.8"/><line x1="311.80" x2="350.90" y1="188.15" y2="188.15" stroke="#eaeaea" stroke-width="0.7"/><line x1="311.80" x2="350.90" y1="191.50" y2="191.50" stroke="#e1e1e1" stroke-width="0.8"/><line x1="311.80" x2="350.90" y1="194.85" y2="194.85" stroke="#eaeaea" stroke-width="0.7"/><line x1="316.31" x2="316.31" y1="166.00" y2="194.60" stroke="#e1e1e1" stroke-width="0.8"/><line x1="323.83" x2="323.83" y1="166.00" y2="194.60" stroke="#e1e1e1" stroke-width="0.8"/><line x1="331.35" x2="331.35" y1="166.00" y2="194.60" stroke="#e1e1e1" stroke-width="0.8"/><line x1="338.87" x2="338.87" y1="166.00" y2="194.60" stroke="#e1e1e1" stroke-width="0.8"/><line x1="346.39" x2="346.39" y1="166.00" y2="194.60" stroke="#e1e1e1" stroke-width="0.8"/>
<line x1="357.15" x2="396.25" y1="168.05" y2="168.05" stroke="#eaeaea" stroke-width="0.7"/><line x1="357.15" x2="396.25" y1="171.40" y2="171.40" stroke="#e1e1e1" stroke-width="0.8"/><line x1="357.15" x2="396.25" y1="174.75" y2="174.75" stroke="#eaeaea" stroke-width="0.7"/><line x1="357.15" x2="396.25" y1="178.10" y2="178.10" stroke="#e1e1e1" stroke-width="0.8"/><line x1="357.15" x2="396.25" y1="181.45" y2="181.45" stroke="#eaeaea" stroke-width="0.7"/><line x1="357.15" x2="396.25" y1="184.80" y2="184.80" stroke="#e1e1e1" stroke-width="0.8"/><line x1="357.15" x2="396.25" y1="188.15" y2="188.15" stroke="#eaeaea" stroke-width="0.7"/><line x1="357.15" x2="396.25" y1="191.50" y2="191.50" stroke="#e1e1e1" stroke-width="0.8"/><line x1="357.15" x2="396.25" y1="194.85" y2="194.85" stroke="#eaeaea" stroke-width="0.7"/><line x1="361.66" x2="361.66" y1="166.00" y2="194.60" stroke="#e1e1e1" stroke-width="0.8"/><line x1="369.18" x2="369.18" y1="166.00" y2="194.60" stroke="#e1e1e1" stroke-width="0.8"/><line x1="376.70" x2="376.70" y1="166.00" y2="194.60" stroke="#e1e1e1" stroke-width="0.8"/><line x1="384.22" x2="384.22" y1="166.00" y2="194.60" stroke="#e1e1e1" stroke-width="0.8"/><line x1="391.74" x2="391.74" y1="166.00" y2="194.60" stroke="#e1e1e1" stroke-width="0.8"/>
<line x1="402.80" x2="441.90" y1="168.05" y2="168.05" stroke="#eaeaea" stroke-width="0.7"/><line x1="402.80" x2="441.90" y1="171.40" y2="171.40" stroke="#e1e1e1" stroke-width="0.8"/><line x1="402.80" x2="441.90" y1="174.75" y2="174.75" stroke="#eaeaea" stroke-width="0.7"/><line x1="402.80" x2="441.90" y1="178.10" y2="178.10" stroke="#e1e1e1" stroke-width="0.8"/><line x1="402.80" x2="441.90" y1="181.45" y2="181.45" stroke="#eaeaea" stroke-width="0.7"/><line x1="402.80" x2="441.90" y1="184.80" y2="184.80" stroke="#e1e1e1" stroke-width="0.8"/><line x1="402.80" x2="441.90" y1="188.15" y2="188.15" stroke="#eaeaea" stroke-width="0.7"/><line x1="402.80" x2="441.90" y1="191.50" y2="191.50" stroke="#e1e1e1" stroke-width="0.8"/><line x1="402.80" x2="441.90" y1="194.85" y2="194.85" stroke="#eaeaea" stroke-width="0.7"/><line x1="407.31" x2="407.31" y1="166.00" y2="194.60" stroke="#e1e1e1" stroke-width="0.8"/><line x1="414.83" x2="414.83" y1="166.00" y2="194.60" stroke="#e1e1e1" stroke-width="0.8"/><line x1="422.35" x2="422.35" y1="166.00" y2="194.60" stroke="#e1e1e1" stroke-width="0.8"/><line x1="429.87" x2="429.87" y1="166.00" y2="194.60" stroke="#e1e1e1" stroke-width="0.8"/><line x1="437.39" x2="437.39" y1="166.00" y2="194.60" stroke="#e1e1e1" stroke-width="0.8"/>
<text x="448.15" y="214.10" font-size="7.6" text-anchor="middle" transform="rotate(90 448.15 214.10)">O'Neil</text>
<text x="260.70" y="208.85" font-size="8" text-anchor="end">0.75</text>
<text x="260.70" y="215.55" font-size="8" text-anchor="end">0.50</text>
<text x="260.70" y="222.25" font-size="8" text-anchor="end">0.25</text>
<text x="260.70" y="228.95" font-size="8" text-anchor="end">0.00</text>
<line x1="266.10" x2="305.20" y1="202.65" y2="202.65" stroke="#eaeaea" stroke-width="0.7"/><line x1="266.10" x2="305.20" y1="206.00" y2="206.00" stroke="#e1e1e1" stroke-width="0.8"/><line x1="266.10" x2="305.20" y1="209.35" y2="209.35" stroke="#eaeaea" stroke-width="0.7"/><line x1="266.10" x2="305.20" y1="212.70" y2="212.70" stroke="#e1e1e1" stroke-width="0.8"/><line x1="266.10" x2="305.20" y1="216.05" y2="216.05" stroke="#eaeaea" stroke-width="0.7"/><line x1="266.10" x2="305.20" y1="219.40" y2="219.40" stroke="#e1e1e1" stroke-width="0.8"/><line x1="266.10" x2="305.20" y1="222.75" y2="222.75" stroke="#eaeaea" stroke-width="0.7"/><line x1="266.10" x2="305.20" y1="226.10" y2="226.10" stroke="#e1e1e1" stroke-width="0.8"/><line x1="266.10" x2="305.20" y1="229.45" y2="229.45" stroke="#eaeaea" stroke-width="0.7"/><line x1="270.61" x2="270.61" y1="200.60" y2="229.20" stroke="#e1e1e1" stroke-width="0.8"/><line x1="278.13" x2="278.13" y1="200.60" y2="229.20" stroke="#e1e1e1" stroke-width="0.8"/><line x1="285.65" x2="285.65" y1="200.60" y2="229.20" stroke="#e1e1e1" stroke-width="0.8"/><line x1="293.17" x2="293.17" y1="200.60" y2="229.20" stroke="#e1e1e1" stroke-width="0.8"/><line x1="300.69" x2="300.69" y1="200.60" y2="229.20" stroke="#e1e1e1" stroke-width="0.8"/>
<line x1="311.80" x2="350.90" y1="202.65" y2="202.65" stroke="#eaeaea" stroke-width="0.7"/><line x1="311.80" x2="350.90" y1="206.00" y2="206.00" stroke="#e1e1e1" stroke-width="0.8"/><line x1="311.80" x2="350.90" y1="209.35" y2="209.35" stroke="#eaeaea" stroke-width="0.7"/><line x1="311.80" x2="350.90" y1="212.70" y2="212.70" stroke="#e1e1e1" stroke-width="0.8"/><line x1="311.80" x2="350.90" y1="216.05" y2="216.05" stroke="#eaeaea" stroke-width="0.7"/><line x1="311.80" x2="350.90" y1="219.40" y2="219.40" stroke="#e1e1e1" stroke-width="0.8"/><line x1="311.80" x2="350.90" y1="222.75" y2="222.75" stroke="#eaeaea" stroke-width="0.7"/><line x1="311.80" x2="350.90" y1="226.10" y2="226.10" stroke="#e1e1e1" stroke-width="0.8"/><line x1="311.80" x2="350.90" y1="229.45" y2="229.45" stroke="#eaeaea" stroke-width="0.7"/><line x1="316.31" x2="316.31" y1="200.60" y2="229.20" stroke="#e1e1e1" stroke-width="0.8"/><line x1="323.83" x2="323.83" y1="200.60" y2="229.20" stroke="#e1e1e1" stroke-width="0.8"/><line x1="331.35" x2="331.35" y1="200.60" y2="229.20" stroke="#e1e1e1" stroke-width="0.8"/><line x1="338.87" x2="338.87" y1="200.60" y2="229.20" stroke="#e1e1e1" stroke-width="0.8"/><line x1="346.39" x2="346.39" y1="200.60" y2="229.20" stroke="#e1e1e1" stroke-width="0.8"/>
<line x1="357.15" x2="396.25" y1="202.65" y2="202.65" stroke="#eaeaea" stroke-width="0.7"/><line x1="357.15" x2="396.25" y1="206.00" y2="206.00" stroke="#e1e1e1" stroke-width="0.8"/><line x1="357.15" x2="396.25" y1="209.35" y2="209.35" stroke="#eaeaea" stroke-width="0.7"/><line x1="357.15" x2="396.25" y1="212.70" y2="212.70" stroke="#e1e1e1" stroke-width="0.8"/><line x1="357.15" x2="396.25" y1="216.05" y2="216.05" stroke="#eaeaea" stroke-width="0.7"/><line x1="357.15" x2="396.25" y1="219.40" y2="219.40" stroke="#e1e1e1" stroke-width="0.8"/><line x1="357.15" x2="396.25" y1="222.75" y2="222.75" stroke="#eaeaea" stroke-width="0.7"/><line x1="357.15" x2="396.25" y1="226.10" y2="226.10" stroke="#e1e1e1" stroke-width="0.8"/><line x1="357.15" x2="396.25" y1="229.45" y2="229.45" stroke="#eaeaea" stroke-width="0.7"/><line x1="361.66" x2="361.66" y1="200.60" y2="229.20" stroke="#e1e1e1" stroke-width="0.8"/><line x1="369.18" x2="369.18" y1="200.60" y2="229.20" stroke="#e1e1e1" stroke-width="0.8"/><line x1="376.70" x2="376.70" y1="200.60" y2="229.20" stroke="#e1e1e1" stroke-width="0.8"/><line x1="384.22" x2="384.22" y1="200.60" y2="229.20" stroke="#e1e1e1" stroke-width="0.8"/><line x1="391.74" x2="391.74" y1="200.60" y2="229.20" stroke="#e1e1e1" stroke-width="0.8"/>
<line x1="402.80" x2="441.90" y1="202.65" y2="202.65" stroke="#eaeaea" stroke-width="0.7"/><line x1="402.80" x2="441.90" y1="206.00" y2="206.00" stroke="#e1e1e1" stroke-width="0.8"/><line x1="402.80" x2="441.90" y1="209.35" y2="209.35" stroke="#eaeaea" stroke-width="0.7"/><line x1="402.80" x2="441.90" y1="212.70" y2="212.70" stroke="#e1e1e1" stroke-width="0.8"/><line x1="402.80" x2="441.90" y1="216.05" y2="216.05" stroke="#eaeaea" stroke-width="0.7"/><line x1="402.80" x2="441.90" y1="219.40" y2="219.40" stroke="#e1e1e1" stroke-width="0.8"/><line x1="402.80" x2="441.90" y1="222.75" y2="222.75" stroke="#eaeaea" stroke-width="0.7"/><line x1="402.80" x2="441.90" y1="226.10" y2="226.10" stroke="#e1e1e1" stroke-width="0.8"/><line x1="402.80" x2="441.90" y1="229.45" y2="229.45" stroke="#eaeaea" stroke-width="0.7"/><line x1="407.31" x2="407.31" y1="200.60" y2="229.20" stroke="#e1e1e1" stroke-width="0.8"/><line x1="414.83" x2="414.83" y1="200.60" y2="229.20" stroke="#e1e1e1" stroke-width="0.8"/><line x1="422.35" x2="422.35" y1="200.60" y2="229.20" stroke="#e1e1e1" stroke-width="0.8"/><line x1="429.87" x2="429.87" y1="200.60" y2="229.20" stroke="#e1e1e1" stroke-width="0.8"/><line x1="437.39" x2="437.39" y1="200.60" y2="229.20" stroke="#e1e1e1" stroke-width="0.8"/>
<text x="448.15" y="249.50" font-size="7.6" text-anchor="middle" transform="rotate(90 448.15 249.50)">FORCINA</text>
<text x="260.70" y="243.45" font-size="8" text-anchor="end">0.75</text>
<text x="260.70" y="250.15" font-size="8" text-anchor="end">0.50</text>
<text x="260.70" y="256.85" font-size="8" text-anchor="end">0.25</text>
<text x="260.70" y="263.55" font-size="8" text-anchor="end">0.00</text>
<line x1="266.10" x2="305.20" y1="237.25" y2="237.25" stroke="#eaeaea" stroke-width="0.7"/><line x1="266.10" x2="305.20" y1="240.60" y2="240.60" stroke="#e1e1e1" stroke-width="0.8"/><line x1="266.10" x2="305.20" y1="243.95" y2="243.95" stroke="#eaeaea" stroke-width="0.7"/><line x1="266.10" x2="305.20" y1="247.30" y2="247.30" stroke="#e1e1e1" stroke-width="0.8"/><line x1="266.10" x2="305.20" y1="250.65" y2="250.65" stroke="#eaeaea" stroke-width="0.7"/><line x1="266.10" x2="305.20" y1="254.00" y2="254.00" stroke="#e1e1e1" stroke-width="0.8"/><line x1="266.10" x2="305.20" y1="257.35" y2="257.35" stroke="#eaeaea" stroke-width="0.7"/><line x1="266.10" x2="305.20" y1="260.70" y2="260.70" stroke="#e1e1e1" stroke-width="0.8"/><line x1="266.10" x2="305.20" y1="264.05" y2="264.05" stroke="#eaeaea" stroke-width="0.7"/><line x1="270.61" x2="270.61" y1="235.20" y2="263.80" stroke="#e1e1e1" stroke-width="0.8"/><line x1="278.13" x2="278.13" y1="235.20" y2="263.80" stroke="#e1e1e1" stroke-width="0.8"/><line x1="285.65" x2="285.65" y1="235.20" y2="263.80" stroke="#e1e1e1" stroke-width="0.8"/><line x1="293.17" x2="293.17" y1="235.20" y2="263.80" stroke="#e1e1e1" stroke-width="0.8"/><line x1="300.69" x2="300.69" y1="235.20" y2="263.80" stroke="#e1e1e1" stroke-width="0.8"/>
<line x1="311.80" x2="350.90" y1="237.25" y2="237.25" stroke="#eaeaea" stroke-width="0.7"/><line x1="311.80" x2="350.90" y1="240.60" y2="240.60" stroke="#e1e1e1" stroke-width="0.8"/><line x1="311.80" x2="350.90" y1="243.95" y2="243.95" stroke="#eaeaea" stroke-width="0.7"/><line x1="311.80" x2="350.90" y1="247.30" y2="247.30" stroke="#e1e1e1" stroke-width="0.8"/><line x1="311.80" x2="350.90" y1="250.65" y2="250.65" stroke="#eaeaea" stroke-width="0.7"/><line x1="311.80" x2="350.90" y1="254.00" y2="254.00" stroke="#e1e1e1" stroke-width="0.8"/><line x1="311.80" x2="350.90" y1="257.35" y2="257.35" stroke="#eaeaea" stroke-width="0.7"/><line x1="311.80" x2="350.90" y1="260.70" y2="260.70" stroke="#e1e1e1" stroke-width="0.8"/><line x1="311.80" x2="350.90" y1="264.05" y2="264.05" stroke="#eaeaea" stroke-width="0.7"/><line x1="316.31" x2="316.31" y1="235.20" y2="263.80" stroke="#e1e1e1" stroke-width="0.8"/><line x1="323.83" x2="323.83" y1="235.20" y2="263.80" stroke="#e1e1e1" stroke-width="0.8"/><line x1="331.35" x2="331.35" y1="235.20" y2="263.80" stroke="#e1e1e1" stroke-width="0.8"/><line x1="338.87" x2="338.87" y1="235.20" y2="263.80" stroke="#e1e1e1" stroke-width="0.8"/><line x1="346.39" x2="346.39" y1="235.20" y2="263.80" stroke="#e1e1e1" stroke-width="0.8"/>
<line x1="357.15" x2="396.25" y1="237.25" y2="237.25" stroke="#eaeaea" stroke-width="0.7"/><line x1="357.15" x2="396.25" y1="240.60" y2="240.60" stroke="#e1e1e1" stroke-width="0.8"/><line x1="357.15" x2="396.25" y1="243.95" y2="243.95" stroke="#eaeaea" stroke-width="0.7"/><line x1="357.15" x2="396.25" y1="247.30" y2="247.30" stroke="#e1e1e1" stroke-width="0.8"/><line x1="357.15" x2="396.25" y1="250.65" y2="250.65" stroke="#eaeaea" stroke-width="0.7"/><line x1="357.15" x2="396.25" y1="254.00" y2="254.00" stroke="#e1e1e1" stroke-width="0.8"/><line x1="357.15" x2="396.25" y1="257.35" y2="257.35" stroke="#eaeaea" stroke-width="0.7"/><line x1="357.15" x2="396.25" y1="260.70" y2="260.70" stroke="#e1e1e1" stroke-width="0.8"/><line x1="357.15" x2="396.25" y1="264.05" y2="264.05" stroke="#eaeaea" stroke-width="0.7"/><line x1="361.66" x2="361.66" y1="235.20" y2="263.80" stroke="#e1e1e1" stroke-width="0.8"/><line x1="369.18" x2="369.18" y1="235.20" y2="263.80" stroke="#e1e1e1" stroke-width="0.8"/><line x1="376.70" x2="376.70" y1="235.20" y2="263.80" stroke="#e1e1e1" stroke-width="0.8"/><line x1="384.22" x2="384.22" y1="235.20" y2="263.80" stroke="#e1e1e1" stroke-width="0.8"/><line x1="391.74" x2="391.74" y1="235.20" y2="263.80" stroke="#e1e1e1" stroke-width="0.8"/>
<line x1="402.80" x2="441.90" y1="237.25" y2="237.25" stroke="#eaeaea" stroke-width="0.7"/><line x1="402.80" x2="441.90" y1="240.60" y2="240.60" stroke="#e1e1e1" stroke-width="0.8"/><line x1="402.80" x2="441.90" y1="243.95" y2="243.95" stroke="#eaeaea" stroke-width="0.7"/><line x1="402.80" x2="441.90" y1="247.30" y2="247.30" stroke="#e1e1e1" stroke-width="0.8"/><line x1="402.80" x2="441.90" y1="250.65" y2="250.65" stroke="#eaeaea" stroke-width="0.7"/><line x1="402.80" x2="441.90" y1="254.00" y2="254.00" stroke="#e1e1e1" stroke-width="0.8"/><line x1="402.80" x2="441.90" y1="257.35" y2="257.35" stroke="#eaeaea" stroke-width="0.7"/><line x1="402.80" x2="441.90" y1="260.70" y2="260.70" stroke="#e1e1e1" stroke-width="0.8"/><line x1="402.80" x2="441.90" y1="264.05" y2="264.05" stroke="#eaeaea" stroke-width="0.7"/><line x1="407.31" x2="407.31" y1="235.20" y2="263.80" stroke="#e1e1e1" stroke-width="0.8"/><line x1="414.83" x2="414.83" y1="235.20" y2="263.80" stroke="#e1e1e1" stroke-width="0.8"/><line x1="422.35" x2="422.35" y1="235.20" y2="263.80" stroke="#e1e1e1" stroke-width="0.8"/><line x1="429.87" x2="429.87" y1="235.20" y2="263.80" stroke="#e1e1e1" stroke-width="0.8"/><line x1="437.39" x2="437.39" y1="235.20" y2="263.80" stroke="#e1e1e1" stroke-width="0.8"/>
<text x="448.15" y="284.90" font-size="7.6" text-anchor="middle" transform="rotate(90 448.15 284.90)">Mathews</text>
<text x="260.70" y="278.05" font-size="8" text-anchor="end">0.75</text>
<text x="260.70" y="284.75" font-size="8" text-anchor="end">0.50</text>
<text x="260.70" y="291.45" font-size="8" text-anchor="end">0.25</text>
<text x="260.70" y="298.15" font-size="8" text-anchor="end">0.00</text>
<line x1="266.10" x2="305.20" y1="271.85" y2="271.85" stroke="#eaeaea" stroke-width="0.7"/><line x1="266.10" x2="305.20" y1="275.20" y2="275.20" stroke="#e1e1e1" stroke-width="0.8"/><line x1="266.10" x2="305.20" y1="278.55" y2="278.55" stroke="#eaeaea" stroke-width="0.7"/><line x1="266.10" x2="305.20" y1="281.90" y2="281.90" stroke="#e1e1e1" stroke-width="0.8"/><line x1="266.10" x2="305.20" y1="285.25" y2="285.25" stroke="#eaeaea" stroke-width="0.7"/><line x1="266.10" x2="305.20" y1="288.60" y2="288.60" stroke="#e1e1e1" stroke-width="0.8"/><line x1="266.10" x2="305.20" y1="291.95" y2="291.95" stroke="#eaeaea" stroke-width="0.7"/><line x1="266.10" x2="305.20" y1="295.30" y2="295.30" stroke="#e1e1e1" stroke-width="0.8"/><line x1="266.10" x2="305.20" y1="298.65" y2="298.65" stroke="#eaeaea" stroke-width="0.7"/><line x1="270.61" x2="270.61" y1="269.80" y2="298.40" stroke="#e1e1e1" stroke-width="0.8"/><line x1="278.13" x2="278.13" y1="269.80" y2="298.40" stroke="#e1e1e1" stroke-width="0.8"/><line x1="285.65" x2="285.65" y1="269.80" y2="298.40" stroke="#e1e1e1" stroke-width="0.8"/><line x1="293.17" x2="293.17" y1="269.80" y2="298.40" stroke="#e1e1e1" stroke-width="0.8"/><line x1="300.69" x2="300.69" y1="269.80" y2="298.40" stroke="#e1e1e1" stroke-width="0.8"/>
<line x1="311.80" x2="350.90" y1="271.85" y2="271.85" stroke="#eaeaea" stroke-width="0.7"/><line x1="311.80" x2="350.90" y1="275.20" y2="275.20" stroke="#e1e1e1" stroke-width="0.8"/><line x1="311.80" x2="350.90" y1="278.55" y2="278.55" stroke="#eaeaea" stroke-width="0.7"/><line x1="311.80" x2="350.90" y1="281.90" y2="281.90" stroke="#e1e1e1" stroke-width="0.8"/><line x1="311.80" x2="350.90" y1="285.25" y2="285.25" stroke="#eaeaea" stroke-width="0.7"/><line x1="311.80" x2="350.90" y1="288.60" y2="288.60" stroke="#e1e1e1" stroke-width="0.8"/><line x1="311.80" x2="350.90" y1="291.95" y2="291.95" stroke="#eaeaea" stroke-width="0.7"/><line x1="311.80" x2="350.90" y1="295.30" y2="295.30" stroke="#e1e1e1" stroke-width="0.8"/><line x1="311.80" x2="350.90" y1="298.65" y2="298.65" stroke="#eaeaea" stroke-width="0.7"/><line x1="316.31" x2="316.31" y1="269.80" y2="298.40" stroke="#e1e1e1" stroke-width="0.8"/><line x1="323.83" x2="323.83" y1="269.80" y2="298.40" stroke="#e1e1e1" stroke-width="0.8"/><line x1="331.35" x2="331.35" y1="269.80" y2="298.40" stroke="#e1e1e1" stroke-width="0.8"/><line x1="338.87" x2="338.87" y1="269.80" y2="298.40" stroke="#e1e1e1" stroke-width="0.8"/><line x1="346.39" x2="346.39" y1="269.80" y2="298.40" stroke="#e1e1e1" stroke-width="0.8"/>
<line x1="357.15" x2="396.25" y1="271.85" y2="271.85" stroke="#eaeaea" stroke-width="0.7"/><line x1="357.15" x2="396.25" y1="275.20" y2="275.20" stroke="#e1e1e1" stroke-width="0.8"/><line x1="357.15" x2="396.25" y1="278.55" y2="278.55" stroke="#eaeaea" stroke-width="0.7"/><line x1="357.15" x2="396.25" y1="281.90" y2="281.90" stroke="#e1e1e1" stroke-width="0.8"/><line x1="357.15" x2="396.25" y1="285.25" y2="285.25" stroke="#eaeaea" stroke-width="0.7"/><line x1="357.15" x2="396.25" y1="288.60" y2="288.60" stroke="#e1e1e1" stroke-width="0.8"/><line x1="357.15" x2="396.25" y1="291.95" y2="291.95" stroke="#eaeaea" stroke-width="0.7"/><line x1="357.15" x2="396.25" y1="295.30" y2="295.30" stroke="#e1e1e1" stroke-width="0.8"/><line x1="357.15" x2="396.25" y1="298.65" y2="298.65" stroke="#eaeaea" stroke-width="0.7"/><line x1="361.66" x2="361.66" y1="269.80" y2="298.40" stroke="#e1e1e1" stroke-width="0.8"/><line x1="369.18" x2="369.18" y1="269.80" y2="298.40" stroke="#e1e1e1" stroke-width="0.8"/><line x1="376.70" x2="376.70" y1="269.80" y2="298.40" stroke="#e1e1e1" stroke-width="0.8"/><line x1="384.22" x2="384.22" y1="269.80" y2="298.40" stroke="#e1e1e1" stroke-width="0.8"/><line x1="391.74" x2="391.74" y1="269.80" y2="298.40" stroke="#e1e1e1" stroke-width="0.8"/>
<line x1="402.80" x2="441.90" y1="271.85" y2="271.85" stroke="#eaeaea" stroke-width="0.7"/><line x1="402.80" x2="441.90" y1="275.20" y2="275.20" stroke="#e1e1e1" stroke-width="0.8"/><line x1="402.80" x2="441.90" y1="278.55" y2="278.55" stroke="#eaeaea" stroke-width="0.7"/><line x1="402.80" x2="441.90" y1="281.90" y2="281.90" stroke="#e1e1e1" stroke-width="0.8"/><line x1="402.80" x2="441.90" y1="285.25" y2="285.25" stroke="#eaeaea" stroke-width="0.7"/><line x1="402.80" x2="441.90" y1="288.60" y2="288.60" stroke="#e1e1e1" stroke-width="0.8"/><line x1="402.80" x2="441.90" y1="291.95" y2="291.95" stroke="#eaeaea" stroke-width="0.7"/><line x1="402.80" x2="441.90" y1="295.30" y2="295.30" stroke="#e1e1e1" stroke-width="0.8"/><line x1="402.80" x2="441.90" y1="298.65" y2="298.65" stroke="#eaeaea" stroke-width="0.7"/><line x1="407.31" x2="407.31" y1="269.80" y2="298.40" stroke="#e1e1e1" stroke-width="0.8"/><line x1="414.83" x2="414.83" y1="269.80" y2="298.40" stroke="#e1e1e1" stroke-width="0.8"/><line x1="422.35" x2="422.35" y1="269.80" y2="298.40" stroke="#e1e1e1" stroke-width="0.8"/><line x1="429.87" x2="429.87" y1="269.80" y2="298.40" stroke="#e1e1e1" stroke-width="0.8"/><line x1="437.39" x2="437.39" y1="269.80" y2="298.40" stroke="#e1e1e1" stroke-width="0.8"/>
<text x="267.76" y="303.00" font-size="8" text-anchor="start" transform="rotate(90 267.76 303.00)">M13</text>
<text x="275.28" y="303.00" font-size="8" text-anchor="start" transform="rotate(90 275.28 303.00)">M14</text>
<text x="282.80" y="303.00" font-size="8" text-anchor="start" transform="rotate(90 282.80 303.00)">M15</text>
<text x="290.32" y="303.00" font-size="8" text-anchor="start" transform="rotate(90 290.32 303.00)">M16</text>
<text x="297.84" y="303.00" font-size="8" text-anchor="start" transform="rotate(90 297.84 303.00)">M20</text>
<text x="313.46" y="303.00" font-size="8" text-anchor="start" transform="rotate(90 313.46 303.00)">M13</text>
<text x="320.98" y="303.00" font-size="8" text-anchor="start" transform="rotate(90 320.98 303.00)">M14</text>
<text x="328.50" y="303.00" font-size="8" text-anchor="start" transform="rotate(90 328.50 303.00)">M15</text>
<text x="336.02" y="303.00" font-size="8" text-anchor="start" transform="rotate(90 336.02 303.00)">M16</text>
<text x="343.54" y="303.00" font-size="8" text-anchor="start" transform="rotate(90 343.54 303.00)">M20</text>
<text x="358.81" y="303.00" font-size="8" text-anchor="start" transform="rotate(90 358.81 303.00)">M13</text>
<text x="366.33" y="303.00" font-size="8" text-anchor="start" transform="rotate(90 366.33 303.00)">M14</text>
<text x="373.85" y="303.00" font-size="8" text-anchor="start" transform="rotate(90 373.85 303.00)">M15</text>
<text x="381.37" y="303.00" font-size="8" text-anchor="start" transform="rotate(90 381.37 303.00)">M16</text>
<text x="388.89" y="303.00" font-size="8" text-anchor="start" transform="rotate(90 388.89 303.00)">M20</text>
<text x="404.46" y="303.00" font-size="8" text-anchor="start" transform="rotate(90 404.46 303.00)">M13</text>
<text x="411.98" y="303.00" font-size="8" text-anchor="start" transform="rotate(90 411.98 303.00)">M14</text>
<text x="419.50" y="303.00" font-size="8" text-anchor="start" transform="rotate(90 419.50 303.00)">M15</text>
<text x="427.02" y="303.00" font-size="8" text-anchor="start" transform="rotate(90 427.02 303.00)">M16</text>
<text x="434.54" y="303.00" font-size="8" text-anchor="start" transform="rotate(90 434.54 303.00)">M20</text>
<rect x="269.16" y="172.29" width="2.9" height="1.9" rx="0.7" fill="#E64B35"/>
<rect x="276.68" y="172.29" width="2.9" height="1.9" rx="0.7" fill="#4DBBD5"/>
<rect x="284.20" y="170.88" width="2.9" height="1.9" rx="0.7" fill="#00A087"/>
<rect x="291.72" y="170.28" width="2.9" height="1.9" rx="0.7" fill="#3C5488"/>
<rect x="299.24" y="170.48" width="2.9" height="1.9" rx="0.7" fill="#F39B7F"/>
<polygon points="293.17,166.12 293.79,167.77 295.55,167.85 294.17,168.95 294.64,170.65 293.17,169.67 291.70,170.65 292.17,168.95 290.79,167.85 292.55,167.77" fill="#FF1E1E"/>
<rect x="314.86" y="189.33" width="2.9" height="1.9" rx="0.7" fill="#E64B35"/>
<rect x="322.38" y="189.33" width="2.9" height="1.9" rx="0.7" fill="#4DBBD5"/>
<rect x="329.90" y="185.72" width="2.9" height="1.9" rx="0.7" fill="#00A087"/>
<rect x="337.42" y="183.72" width="2.9" height="1.9" rx="0.7" fill="#3C5488"/>
<rect x="344.94" y="182.52" width="2.9" height="1.9" rx="0.7" fill="#F39B7F"/>
<polygon points="346.39,178.56 347.01,180.21 348.77,180.29 347.39,181.38 347.86,183.08 346.39,182.11 344.92,183.08 345.39,181.38 344.01,180.29 345.77,180.21" fill="#FF1E1E"/>
<rect x="269.16" y="222.43" width="2.9" height="1.9" rx="0.7" fill="#E64B35"/>
<rect x="276.68" y="222.83" width="2.9" height="1.9" rx="0.7" fill="#4DBBD5"/>
<rect x="284.20" y="221.63" width="2.9" height="1.9" rx="0.7" fill="#00A087"/>
<rect x="291.72" y="217.61" width="2.9" height="1.9" rx="0.7" fill="#3C5488"/>
<rect x="299.24" y="217.21" width="2.9" height="1.9" rx="0.7" fill="#F39B7F"/>
<polygon points="300.69,213.05 301.31,214.71 303.07,214.78 301.69,215.88 302.16,217.58 300.69,216.60 299.22,217.58 299.69,215.88 298.31,214.78 300.07,214.71" fill="#FF1E1E"/>
<rect x="314.86" y="206.18" width="2.9" height="1.9" rx="0.7" fill="#E64B35"/>
<rect x="322.38" y="206.38" width="2.9" height="1.9" rx="0.7" fill="#4DBBD5"/>
<rect x="329.90" y="206.58" width="2.9" height="1.9" rx="0.7" fill="#00A087"/>
<rect x="337.42" y="206.38" width="2.9" height="1.9" rx="0.7" fill="#3C5488"/>
<rect x="344.94" y="206.38" width="2.9" height="1.9" rx="0.7" fill="#F39B7F"/>
<polygon points="316.31,202.02 316.93,203.67 318.69,203.75 317.31,204.85 317.78,206.55 316.31,205.57 314.84,206.55 315.31,204.85 313.93,203.75 315.69,203.67" fill="#FF1E1E"/>
<ellipse cx="270.61" cy="261.68" rx="1.5" ry="1.2" fill="#E64B35"/>
<ellipse cx="278.13" cy="261.08" rx="1.5" ry="1.2" fill="#4DBBD5"/>
<ellipse cx="285.65" cy="248.25" rx="1.5" ry="1.2" fill="#00A087"/>
<ellipse cx="293.17" cy="248.25" rx="1.5" ry="1.2" fill="#3C5488"/>
<ellipse cx="300.69" cy="249.25" rx="1.5" ry="1.2" fill="#F39B7F"/>
<polygon points="293.17,242.94 293.79,244.59 295.55,244.67 294.17,245.76 294.64,247.46 293.17,246.49 291.70,247.46 292.17,245.76 290.79,244.67 292.55,244.59" fill="#FF1E1E"/>
<ellipse cx="316.31" cy="259.88" rx="1.5" ry="1.2" fill="#E64B35"/>
<ellipse cx="323.83" cy="259.88" rx="1.5" ry="1.2" fill="#4DBBD5"/>
<ellipse cx="331.35" cy="255.27" rx="1.5" ry="1.2" fill="#00A087"/>
<ellipse cx="338.87" cy="252.46" rx="1.5" ry="1.2" fill="#3C5488"/>
<ellipse cx="346.39" cy="250.65" rx="1.5" ry="1.2" fill="#F39B7F"/>
<polygon points="346.39,245.55 347.01,247.20 348.77,247.27 347.39,248.37 347.86,250.07 346.39,249.10 344.92,250.07 345.39,248.37 344.01,247.27 345.77,247.20" fill="#FF1E1E"/>
<ellipse cx="270.61" cy="292.97" rx="1.5" ry="1.2" fill="#E64B35"/>
<ellipse cx="278.13" cy="292.97" rx="1.5" ry="1.2" fill="#4DBBD5"/>
<ellipse cx="285.65" cy="279.33" rx="1.5" ry="1.2" fill="#00A087"/>
<ellipse cx="293.17" cy="275.12" rx="1.5" ry="1.2" fill="#3C5488"/>
<ellipse cx="300.69" cy="277.13" rx="1.5" ry="1.2" fill="#F39B7F"/>
<polygon points="293.17,270.01 293.79,271.67 295.55,271.74 294.17,272.84 294.64,274.54 293.17,273.56 291.70,274.54 292.17,272.84 290.79,271.74 292.55,271.67" fill="#FF1E1E"/>
<ellipse cx="316.31" cy="290.97" rx="1.5" ry="1.2" fill="#E64B35"/>
<ellipse cx="323.83" cy="291.37" rx="1.5" ry="1.2" fill="#4DBBD5"/>
<ellipse cx="331.35" cy="283.14" rx="1.5" ry="1.2" fill="#00A087"/>
<ellipse cx="338.87" cy="278.53" rx="1.5" ry="1.2" fill="#3C5488"/>
<ellipse cx="346.39" cy="283.95" rx="1.5" ry="1.2" fill="#F39B7F"/>
<polygon points="338.87,273.22 339.49,274.87 341.25,274.95 339.87,276.05 340.34,277.75 338.87,276.77 337.40,277.75 337.87,276.05 336.49,274.95 338.25,274.87" fill="#FF1E1E"/>
<rect x="360.21" y="190.14" width="2.9" height="1.9" rx="0.7" fill="#E64B35"/>
<rect x="367.73" y="188.13" width="2.9" height="1.9" rx="0.7" fill="#4DBBD5"/>
<rect x="375.25" y="184.92" width="2.9" height="1.9" rx="0.7" fill="#00A087"/>
<rect x="382.77" y="184.92" width="2.9" height="1.9" rx="0.7" fill="#3C5488"/>
<rect x="390.29" y="184.32" width="2.9" height="1.9" rx="0.7" fill="#F39B7F"/>
<polygon points="391.74,179.96 392.36,181.61 394.12,181.69 392.74,182.79 393.21,184.48 391.74,183.51 390.27,184.48 390.74,182.79 389.36,181.69 391.12,181.61" fill="#FF1E1E"/>
<rect x="413.38" y="189.94" width="2.9" height="1.9" rx="0.7" fill="#4DBBD5"/>
<rect x="420.90" y="184.52" width="2.9" height="1.9" rx="0.7" fill="#00A087"/>
<rect x="428.42" y="182.72" width="2.9" height="1.9" rx="0.7" fill="#3C5488"/>
<rect x="435.94" y="183.52" width="2.9" height="1.9" rx="0.7" fill="#F39B7F"/>
<polygon points="429.87,177.96 430.49,179.61 432.25,179.68 430.87,180.78 431.34,182.48 429.87,181.51 428.40,182.48 428.87,180.78 427.49,179.68 429.25,179.61" fill="#FF1E1E"/>
<rect x="360.21" y="224.83" width="2.9" height="1.9" rx="0.7" fill="#E64B35"/>
<rect x="367.73" y="224.43" width="2.9" height="1.9" rx="0.7" fill="#4DBBD5"/>
<rect x="375.25" y="223.23" width="2.9" height="1.9" rx="0.7" fill="#00A087"/>
<rect x="382.77" y="223.23" width="2.9" height="1.9" rx="0.7" fill="#3C5488"/>
<rect x="390.29" y="221.42" width="2.9" height="1.9" rx="0.7" fill="#F39B7F"/>
<polygon points="391.74,217.27 392.36,218.92 394.12,218.99 392.74,220.09 393.21,221.79 391.74,220.82 390.27,221.79 390.74,220.09 389.36,218.99 391.12,218.92" fill="#FF1E1E"/>
<rect x="405.86" y="223.23" width="2.9" height="1.9" rx="0.7" fill="#E64B35"/>
<rect x="413.38" y="222.83" width="2.9" height="1.9" rx="0.7" fill="#4DBBD5"/>
<rect x="420.90" y="220.02" width="2.9" height="1.9" rx="0.7" fill="#00A087"/>
<rect x="428.42" y="219.82" width="2.9" height="1.9" rx="0.7" fill="#3C5488"/>
<rect x="435.94" y="221.83" width="2.9" height="1.9" rx="0.7" fill="#F39B7F"/>
<polygon points="429.87,215.46 430.49,217.11 432.25,217.19 430.87,218.29 431.34,219.98 429.87,219.01 428.40,219.98 428.87,218.29 427.49,217.19 429.25,217.11" fill="#FF1E1E"/>
<ellipse cx="361.66" cy="261.68" rx="1.5" ry="1.2" fill="#E64B35"/>
<ellipse cx="369.18" cy="254.87" rx="1.5" ry="1.2" fill="#4DBBD5"/>
<ellipse cx="376.70" cy="244.64" rx="1.5" ry="1.2" fill="#00A087"/>
<ellipse cx="384.22" cy="244.64" rx="1.5" ry="1.2" fill="#3C5488"/>
<ellipse cx="391.74" cy="244.44" rx="1.5" ry="1.2" fill="#F39B7F"/>
<polygon points="391.74,239.33 392.36,240.98 394.12,241.06 392.74,242.15 393.21,243.85 391.74,242.88 390.27,243.85 390.74,242.15 389.36,241.06 391.12,240.98" fill="#FF1E1E"/>
<ellipse cx="407.31" cy="260.08" rx="1.5" ry="1.2" fill="#E64B35"/>
<ellipse cx="414.83" cy="258.07" rx="1.5" ry="1.2" fill="#4DBBD5"/>
<ellipse cx="422.35" cy="249.65" rx="1.5" ry="1.2" fill="#00A087"/>
<ellipse cx="429.87" cy="249.05" rx="1.5" ry="1.2" fill="#3C5488"/>
<ellipse cx="437.39" cy="260.28" rx="1.5" ry="1.2" fill="#F39B7F"/>
<polygon points="429.87,243.74 430.49,245.39 432.25,245.47 430.87,246.57 431.34,248.26 429.87,247.29 428.40,248.26 428.87,246.57 427.49,245.47 429.25,245.39" fill="#FF1E1E"/>
<ellipse cx="361.66" cy="295.78" rx="1.5" ry="1.2" fill="#E64B35"/>
<ellipse cx="369.18" cy="290.57" rx="1.5" ry="1.2" fill="#4DBBD5"/>
<ellipse cx="376.70" cy="285.15" rx="1.5" ry="1.2" fill="#00A087"/>
<ellipse cx="384.22" cy="285.15" rx="1.5" ry="1.2" fill="#3C5488"/>
<ellipse cx="391.74" cy="284.35" rx="1.5" ry="1.2" fill="#F39B7F"/>
<polygon points="391.74,279.24 392.36,280.89 394.12,280.97 392.74,282.06 393.21,283.76 391.74,282.79 390.27,283.76 390.74,282.06 389.36,280.97 391.12,280.89" fill="#FF1E1E"/>
<ellipse cx="407.31" cy="289.96" rx="1.5" ry="1.2" fill="#E64B35"/>
<ellipse cx="414.83" cy="286.96" rx="1.5" ry="1.2" fill="#4DBBD5"/>
<ellipse cx="422.35" cy="274.92" rx="1.5" ry="1.2" fill="#00A087"/>
<ellipse cx="429.87" cy="272.52" rx="1.5" ry="1.2" fill="#3C5488"/>
<ellipse cx="437.39" cy="272.31" rx="1.5" ry="1.2" fill="#F39B7F"/>
<polygon points="437.39,267.21 438.01,268.86 439.77,268.93 438.39,270.03 438.86,271.73 437.39,270.76 435.92,271.73 436.39,270.03 435.01,268.93 436.77,268.86" fill="#FF1E1E"/>
</g>
<g id="grid-HSA">
<text x="584.00" y="149.90" font-size="11.5" text-anchor="middle" font-weight="bold" fill="#000">HSA</text>
<text x="516.60" y="160.00" font-size="8.3" text-anchor="middle">ALMANAC</text>
<text x="561.30" y="160.00" font-size="8.3" text-anchor="middle">O'Neil</text>
<text x="607.60" y="160.00" font-size="8.3" text-anchor="middle">FORCINA</text>
<text x="653.30" y="160.00" font-size="8.3" text-anchor="middle">Mathews</text>
<text x="470.00" y="233.40" font-size="9.3" text-anchor="middle" transform="rotate(-90 470.00 233.40)">Pearson's r</text>
<text x="678.75" y="178.70" font-size="7.6" text-anchor="middle" transform="rotate(90 678.75 178.70)">ALMANAC</text>
<text x="491.70" y="169.95" font-size="8" text-anchor="end">0.75</text>
<text x="491.70" y="177.25" font-size="8" text-anchor="end">0.50</text>
<text x="491.70" y="184.55" font-size="8" text-anchor="end">0.25</text>
<text x="491.70" y="191.85" font-size="8" text-anchor="end">0.00</text>
<text x="491.70" y="199.15" font-size="8" text-anchor="end">0.25</text>
<line x1="497.10" x2="536.10" y1="167.10" y2="167.10" stroke="#e1e1e1" stroke-width="0.8"/><line x1="497.10" x2="536.10" y1="170.75" y2="170.75" stroke="#eaeaea" stroke-width="0.7"/><line x1="497.10" x2="536.10" y1="174.40" y2="174.40" stroke="#e1e1e1" stroke-width="0.8"/><line x1="497.10" x2="536.10" y1="178.05" y2="178.05" stroke="#eaeaea" stroke-width="0.7"/><line x1="497.10" x2="536.10" y1="181.70" y2="181.70" stroke="#e1e1e1" stroke-width="0.8"/><line x1="497.10" x2="536.10" y1="185.35" y2="185.35" stroke="#eaeaea" stroke-width="0.7"/><line x1="497.10" x2="536.10" y1="189.00" y2="189.00" stroke="#e1e1e1" stroke-width="0.8"/><line x1="497.10" x2="536.10" y1="192.65" y2="192.65" stroke="#eaeaea" stroke-width="0.7"/><line x1="501.60" x2="501.60" y1="166.00" y2="194.60" stroke="#e1e1e1" stroke-width="0.8"/><line x1="509.10" x2="509.10" y1="166.00" y2="194.60" stroke="#e1e1e1" stroke-width="0.8"/><line x1="516.60" x2="516.60" y1="166.00" y2="194.60" stroke="#e1e1e1" stroke-width="0.8"/><line x1="524.10" x2="524.10" y1="166.00" y2="194.60" stroke="#e1e1e1" stroke-width="0.8"/><line x1="531.60" x2="531.60" y1="166.00" y2="194.60" stroke="#e1e1e1" stroke-width="0.8"/>
<line x1="542.70" x2="581.70" y1="167.10" y2="167.10" stroke="#e1e1e1" stroke-width="0.8"/><line x1="542.70" x2="581.70" y1="170.75" y2="170.75" stroke="#eaeaea" stroke-width="0.7"/><line x1="542.70" x2="581.70" y1="174.40" y2="174.40" stroke="#e1e1e1" stroke-width="0.8"/><line x1="542.70" x2="581.70" y1="178.05" y2="178.05" stroke="#eaeaea" stroke-width="0.7"/><line x1="542.70" x2="581.70" y1="181.70" y2="181.70" stroke="#e1e1e1" stroke-width="0.8"/><line x1="542.70" x2="581.70" y1="185.35" y2="185.35" stroke="#eaeaea" stroke-width="0.7"/><line x1="542.70" x2="581.70" y1="189.00" y2="189.00" stroke="#e1e1e1" stroke-width="0.8"/><line x1="542.70" x2="581.70" y1="192.65" y2="192.65" stroke="#eaeaea" stroke-width="0.7"/><line x1="547.20" x2="547.20" y1="166.00" y2="194.60" stroke="#e1e1e1" stroke-width="0.8"/><line x1="554.70" x2="554.70" y1="166.00" y2="194.60" stroke="#e1e1e1" stroke-width="0.8"/><line x1="562.20" x2="562.20" y1="166.00" y2="194.60" stroke="#e1e1e1" stroke-width="0.8"/><line x1="569.70" x2="569.70" y1="166.00" y2="194.60" stroke="#e1e1e1" stroke-width="0.8"/><line x1="577.20" x2="577.20" y1="166.00" y2="194.60" stroke="#e1e1e1" stroke-width="0.8"/>
<line x1="588.10" x2="627.10" y1="167.10" y2="167.10" stroke="#e1e1e1" stroke-width="0.8"/><line x1="588.10" x2="627.10" y1="170.75" y2="170.75" stroke="#eaeaea" stroke-width="0.7"/><line x1="588.10" x2="627.10" y1="174.40" y2="174.40" stroke="#e1e1e1" stroke-width="0.8"/><line x1="588.10" x2="627.10" y1="178.05" y2="178.05" stroke="#eaeaea" stroke-width="0.7"/><line x1="588.10" x2="627.10" y1="181.70" y2="181.70" stroke="#e1e1e1" stroke-width="0.8"/><line x1="588.10" x2="627.10" y1="185.35" y2="185.35" stroke="#eaeaea" stroke-width="0.7"/><line x1="588.10" x2="627.10" y1="189.00" y2="189.00" stroke="#e1e1e1" stroke-width="0.8"/><line x1="588.10" x2="627.10" y1="192.65" y2="192.65" stroke="#eaeaea" stroke-width="0.7"/><line x1="592.60" x2="592.60" y1="166.00" y2="194.60" stroke="#e1e1e1" stroke-width="0.8"/><line x1="600.10" x2="600.10" y1="166.00" y2="194.60" stroke="#e1e1e1" stroke-width="0.8"/><line x1="607.60" x2="607.60" y1="166.00" y2="194.60" stroke="#e1e1e1" stroke-width="0.8"/><line x1="615.10" x2="615.10" y1="166.00" y2="194.60" stroke="#e1e1e1" stroke-width="0.8"/><line x1="622.60" x2="622.60" y1="166.00" y2="194.60" stroke="#e1e1e1" stroke-width="0.8"/>
<line x1="633.80" x2="672.80" y1="167.10" y2="167.10" stroke="#e1e1e1" stroke-width="0.8"/><line x1="633.80" x2="672.80" y1="170.75" y2="170.75" stroke="#eaeaea" stroke-width="0.7"/><line x1="633.80" x2="672.80" y1="174.40" y2="174.40" stroke="#e1e1e1" stroke-width="0.8"/><line x1="633.80" x2="672.80" y1="178.05" y2="178.05" stroke="#eaeaea" stroke-width="0.7"/><line x1="633.80" x2="672.80" y1="181.70" y2="181.70" stroke="#e1e1e1" stroke-width="0.8"/><line x1="633.80" x2="672.80" y1="185.35" y2="185.35" stroke="#eaeaea" stroke-width="0.7"/><line x1="633.80" x2="672.80" y1="189.00" y2="189.00" stroke="#e1e1e1" stroke-width="0.8"/><line x1="633.80" x2="672.80" y1="192.65" y2="192.65" stroke="#eaeaea" stroke-width="0.7"/><line x1="638.30" x2="638.30" y1="166.00" y2="194.60" stroke="#e1e1e1" stroke-width="0.8"/><line x1="645.80" x2="645.80" y1="166.00" y2="194.60" stroke="#e1e1e1" stroke-width="0.8"/><line x1="653.30" x2="653.30" y1="166.00" y2="194.60" stroke="#e1e1e1" stroke-width="0.8"/><line x1="660.80" x2="660.80" y1="166.00" y2="194.60" stroke="#e1e1e1" stroke-width="0.8"/><line x1="668.30" x2="668.30" y1="166.00" y2="194.60" stroke="#e1e1e1" stroke-width="0.8"/>
<text x="678.75" y="214.10" font-size="7.6" text-anchor="middle" transform="rotate(90 678.75 214.10)">O'Neil</text>
<text x="491.70" y="204.55" font-size="8" text-anchor="end">0.75</text>
<text x="491.70" y="211.85" font-size="8" text-anchor="end">0.50</text>
<text x="491.70" y="226.45" font-size="8" text-anchor="end">0.00</text>
<line x1="497.10" x2="536.10" y1="201.70" y2="201.70" stroke="#e1e1e1" stroke-width="0.8"/><line x1="497.10" x2="536.10" y1="205.35" y2="205.35" stroke="#eaeaea" stroke-width="0.7"/><line x1="497.10" x2="536.10" y1="209.00" y2="209.00" stroke="#e1e1e1" stroke-width="0.8"/><line x1="497.10" x2="536.10" y1="212.65" y2="212.65" stroke="#eaeaea" stroke-width="0.7"/><line x1="497.10" x2="536.10" y1="216.30" y2="216.30" stroke="#e1e1e1" stroke-width="0.8"/><line x1="497.10" x2="536.10" y1="219.95" y2="219.95" stroke="#eaeaea" stroke-width="0.7"/><line x1="497.10" x2="536.10" y1="223.60" y2="223.60" stroke="#e1e1e1" stroke-width="0.8"/><line x1="497.10" x2="536.10" y1="227.25" y2="227.25" stroke="#eaeaea" stroke-width="0.7"/><line x1="501.60" x2="501.60" y1="200.60" y2="229.20" stroke="#e1e1e1" stroke-width="0.8"/><line x1="509.10" x2="509.10" y1="200.60" y2="229.20" stroke="#e1e1e1" stroke-width="0.8"/><line x1="516.60" x2="516.60" y1="200.60" y2="229.20" stroke="#e1e1e1" stroke-width="0.8"/><line x1="524.10" x2="524.10" y1="200.60" y2="229.20" stroke="#e1e1e1" stroke-width="0.8"/><line x1="531.60" x2="531.60" y1="200.60" y2="229.20" stroke="#e1e1e1" stroke-width="0.8"/>
<line x1="542.70" x2="581.70" y1="201.70" y2="201.70" stroke="#e1e1e1" stroke-width="0.8"/><line x1="542.70" x2="581.70" y1="205.35" y2="205.35" stroke="#eaeaea" stroke-width="0.7"/><line x1="542.70" x2="581.70" y1="209.00" y2="209.00" stroke="#e1e1e1" stroke-width="0.8"/><line x1="542.70" x2="581.70" y1="212.65" y2="212.65" stroke="#eaeaea" stroke-width="0.7"/><line x1="542.70" x2="581.70" y1="216.30" y2="216.30" stroke="#e1e1e1" stroke-width="0.8"/><line x1="542.70" x2="581.70" y1="219.95" y2="219.95" stroke="#eaeaea" stroke-width="0.7"/><line x1="542.70" x2="581.70" y1="223.60" y2="223.60" stroke="#e1e1e1" stroke-width="0.8"/><line x1="542.70" x2="581.70" y1="227.25" y2="227.25" stroke="#eaeaea" stroke-width="0.7"/><line x1="547.20" x2="547.20" y1="200.60" y2="229.20" stroke="#e1e1e1" stroke-width="0.8"/><line x1="554.70" x2="554.70" y1="200.60" y2="229.20" stroke="#e1e1e1" stroke-width="0.8"/><line x1="562.20" x2="562.20" y1="200.60" y2="229.20" stroke="#e1e1e1" stroke-width="0.8"/><line x1="569.70" x2="569.70" y1="200.60" y2="229.20" stroke="#e1e1e1" stroke-width="0.8"/><line x1="577.20" x2="577.20" y1="200.60" y2="229.20" stroke="#e1e1e1" stroke-width="0.8"/>
<line x1="588.10" x2="627.10" y1="201.70" y2="201.70" stroke="#e1e1e1" stroke-width="0.8"/><line x1="588.10" x2="627.10" y1="205.35" y2="205.35" stroke="#eaeaea" stroke-width="0.7"/><line x1="588.10" x2="627.10" y1="209.00" y2="209.00" stroke="#e1e1e1" stroke-width="0.8"/><line x1="588.10" x2="627.10" y1="212.65" y2="212.65" stroke="#eaeaea" stroke-width="0.7"/><line x1="588.10" x2="627.10" y1="216.30" y2="216.30" stroke="#e1e1e1" stroke-width="0.8"/><line x1="588.10" x2="627.10" y1="219.95" y2="219.95" stroke="#eaeaea" stroke-width="0.7"/><line x1="588.10" x2="627.10" y1="223.60" y2="223.60" stroke="#e1e1e1" stroke-width="0.8"/><line x1="588.10" x2="627.10" y1="227.25" y2="227.25" stroke="#eaeaea" stroke-width="0.7"/><line x1="592.60" x2="592.60" y1="200.60" y2="229.20" stroke="#e1e1e1" stroke-width="0.8"/><line x1="600.10" x2="600.10" y1="200.60" y2="229.20" stroke="#e1e1e1" stroke-width="0.8"/><line x1="607.60" x2="607.60" y1="200.60" y2="229.20" stroke="#e1e1e1" stroke-width="0.8"/><line x1="615.10" x2="615.10" y1="200.60" y2="229.20" stroke="#e1e1e1" stroke-width="0.8"/><line x1="622.60" x2="622.60" y1="200.60" y2="229.20" stroke="#e1e1e1" stroke-width="0.8"/>
<line x1="633.80" x2="672.80" y1="201.70" y2="201.70" stroke="#e1e1e1" stroke-width="0.8"/><line x1="633.80" x2="672.80" y1="205.35" y2="205.35" stroke="#eaeaea" stroke-width="0.7"/><line x1="633.80" x2="672.80" y1="209.00" y2="209.00" stroke="#e1e1e1" stroke-width="0.8"/><line x1="633.80" x2="672.80" y1="212.65" y2="212.65" stroke="#eaeaea" stroke-width="0.7"/><line x1="633.80" x2="672.80" y1="216.30" y2="216.30" stroke="#e1e1e1" stroke-width="0.8"/><line x1="633.80" x2="672.80" y1="219.95" y2="219.95" stroke="#eaeaea" stroke-width="0.7"/><line x1="633.80" x2="672.80" y1="223.60" y2="223.60" stroke="#e1e1e1" stroke-width="0.8"/><line x1="633.80" x2="672.80" y1="227.25" y2="227.25" stroke="#eaeaea" stroke-width="0.7"/><line x1="638.30" x2="638.30" y1="200.60" y2="229.20" stroke="#e1e1e1" stroke-width="0.8"/><line x1="645.80" x2="645.80" y1="200.60" y2="229.20" stroke="#e1e1e1" stroke-width="0.8"/><line x1="653.30" x2="653.30" y1="200.60" y2="229.20" stroke="#e1e1e1" stroke-width="0.8"/><line x1="660.80" x2="660.80" y1="200.60" y2="229.20" stroke="#e1e1e1" stroke-width="0.8"/><line x1="668.30" x2="668.30" y1="200.60" y2="229.20" stroke="#e1e1e1" stroke-width="0.8"/>
<text x="678.75" y="249.50" font-size="7.6" text-anchor="middle" transform="rotate(90 678.75 249.50)">FORCINA</text>
<text x="491.70" y="239.15" font-size="8" text-anchor="end">0.75</text>
<text x="491.70" y="246.45" font-size="8" text-anchor="end">0.50</text>
<text x="491.70" y="253.75" font-size="8" text-anchor="end">0.25</text>
<text x="491.70" y="261.05" font-size="8" text-anchor="end">0.00</text>
<line x1="497.10" x2="536.10" y1="236.30" y2="236.30" stroke="#e1e1e1" stroke-width="0.8"/><line x1="497.10" x2="536.10" y1="239.95" y2="239.95" stroke="#eaeaea" stroke-width="0.7"/><line x1="497.10" x2="536.10" y1="243.60" y2="243.60" stroke="#e1e1e1" stroke-width="0.8"/><line x1="497.10" x2="536.10" y1="247.25" y2="247.25" stroke="#eaeaea" stroke-width="0.7"/><line x1="497.10" x2="536.10" y1="250.90" y2="250.90" stroke="#e1e1e1" stroke-width="0.8"/><line x1="497.10" x2="536.10" y1="254.55" y2="254.55" stroke="#eaeaea" stroke-width="0.7"/><line x1="497.10" x2="536.10" y1="258.20" y2="258.20" stroke="#e1e1e1" stroke-width="0.8"/><line x1="497.10" x2="536.10" y1="261.85" y2="261.85" stroke="#eaeaea" stroke-width="0.7"/><line x1="501.60" x2="501.60" y1="235.20" y2="263.80" stroke="#e1e1e1" stroke-width="0.8"/><line x1="509.10" x2="509.10" y1="235.20" y2="263.80" stroke="#e1e1e1" stroke-width="0.8"/><line x1="516.60" x2="516.60" y1="235.20" y2="263.80" stroke="#e1e1e1" stroke-width="0.8"/><line x1="524.10" x2="524.10" y1="235.20" y2="263.80" stroke="#e1e1e1" stroke-width="0.8"/><line x1="531.60" x2="531.60" y1="235.20" y2="263.80" stroke="#e1e1e1" stroke-width="0.8"/>
<line x1="542.70" x2="581.70" y1="236.30" y2="236.30" stroke="#e1e1e1" stroke-width="0.8"/><line x1="542.70" x2="581.70" y1="239.95" y2="239.95" stroke="#eaeaea" stroke-width="0.7"/><line x1="542.70" x2="581.70" y1="243.60" y2="243.60" stroke="#e1e1e1" stroke-width="0.8"/><line x1="542.70" x2="581.70" y1="247.25" y2="247.25" stroke="#eaeaea" stroke-width="0.7"/><line x1="542.70" x2="581.70" y1="250.90" y2="250.90" stroke="#e1e1e1" stroke-width="0.8"/><line x1="542.70" x2="581.70" y1="254.55" y2="254.55" stroke="#eaeaea" stroke-width="0.7"/><line x1="542.70" x2="581.70" y1="258.20" y2="258.20" stroke="#e1e1e1" stroke-width="0.8"/><line x1="542.70" x2="581.70" y1="261.85" y2="261.85" stroke="#eaeaea" stroke-width="0.7"/><line x1="547.20" x2="547.20" y1="235.20" y2="263.80" stroke="#e1e1e1" stroke-width="0.8"/><line x1="554.70" x2="554.70" y1="235.20" y2="263.80" stroke="#e1e1e1" stroke-width="0.8"/><line x1="562.20" x2="562.20" y1="235.20" y2="263.80" stroke="#e1e1e1" stroke-width="0.8"/><line x1="569.70" x2="569.70" y1="235.20" y2="263.80" stroke="#e1e1e1" stroke-width="0.8"/><line x1="577.20" x2="577.20" y1="235.20" y2="263.80" stroke="#e1e1e1" stroke-width="0.8"/>
<line x1="588.10" x2="627.10" y1="236.30" y2="236.30" stroke="#e1e1e1" stroke-width="0.8"/><line x1="588.10" x2="627.10" y1="239.95" y2="239.95" stroke="#eaeaea" stroke-width="0.7"/><line x1="588.10" x2="627.10" y1="243.60" y2="243.60" stroke="#e1e1e1" stroke-width="0.8"/><line x1="588.10" x2="627.10" y1="247.25" y2="247.25" stroke="#eaeaea" stroke-width="0.7"/><line x1="588.10" x2="627.10" y1="250.90" y2="250.90" stroke="#e1e1e1" stroke-width="0.8"/><line x1="588.10" x2="627.10" y1="254.55" y2="254.55" stroke="#eaeaea" stroke-width="0.7"/><line x1="588.10" x2="627.10" y1="258.20" y2="258.20" stroke="#e1e1e1" stroke-width="0.8"/><line x1="588.10" x2="627.10" y1="261.85" y2="261.85" stroke="#eaeaea" stroke-width="0.7"/><line x1="592.60" x2="592.60" y1="235.20" y2="263.80" stroke="#e1e1e1" stroke-width="0.8"/><line x1="600.10" x2="600.10" y1="235.20" y2="263.80" stroke="#e1e1e1" stroke-width="0.8"/><line x1="607.60" x2="607.60" y1="235.20" y2="263.80" stroke="#e1e1e1" stroke-width="0.8"/><line x1="615.10" x2="615.10" y1="235.20" y2="263.80" stroke="#e1e1e1" stroke-width="0.8"/><line x1="622.60" x2="622.60" y1="235.20" y2="263.80" stroke="#e1e1e1" stroke-width="0.8"/>
<line x1="633.80" x2="672.80" y1="236.30" y2="236.30" stroke="#e1e1e1" stroke-width="0.8"/><line x1="633.80" x2="672.80" y1="239.95" y2="239.95" stroke="#eaeaea" stroke-width="0.7"/><line x1="633.80" x2="672.80" y1="243.60" y2="243.60" stroke="#e1e1e1" stroke-width="0.8"/><line x1="633.80" x2="672.80" y1="247.25" y2="247.25" stroke="#eaeaea" stroke-width="0.7"/><line x1="633.80" x2="672.80" y1="250.90" y2="250.90" stroke="#e1e1e1" stroke-width="0.8"/><line x1="633.80" x2="672.80" y1="254.55" y2="254.55" stroke="#eaeaea" stroke-width="0.7"/><line x1="633.80" x2="672.80" y1="258.20" y2="258.20" stroke="#e1e1e1" stroke-width="0.8"/><line x1="633.80" x2="672.80" y1="261.85" y2="261.85" stroke="#eaeaea" stroke-width="0.7"/><line x1="638.30" x2="638.30" y1="235.20" y2="263.80" stroke="#e1e1e1" stroke-width="0.8"/><line x1="645.80" x2="645.80" y1="235.20" y2="263.80" stroke="#e1e1e1" stroke-width="0.8"/><line x1="653.30" x2="653.30" y1="235.20" y2="263.80" stroke="#e1e1e1" stroke-width="0.8"/><line x1="660.80" x2="660.80" y1="235.20" y2="263.80" stroke="#e1e1e1" stroke-width="0.8"/><line x1="668.30" x2="668.30" y1="235.20" y2="263.80" stroke="#e1e1e1" stroke-width="0.8"/>
<text x="678.75" y="284.90" font-size="7.6" text-anchor="middle" transform="rotate(90 678.75 284.90)">Mathews</text>
<text x="491.70" y="273.75" font-size="8" text-anchor="end">0.75</text>
<text x="491.70" y="281.05" font-size="8" text-anchor="end">0.50</text>
<text x="491.70" y="288.35" font-size="8" text-anchor="end">0.25</text>
<text x="491.70" y="295.65" font-size="8" text-anchor="end">0.00</text>
<line x1="497.10" x2="536.10" y1="270.90" y2="270.90" stroke="#e1e1e1" stroke-width="0.8"/><line x1="497.10" x2="536.10" y1="274.55" y2="274.55" stroke="#eaeaea" stroke-width="0.7"/><line x1="497.10" x2="536.10" y1="278.20" y2="278.20" stroke="#e1e1e1" stroke-width="0.8"/><line x1="497.10" x2="536.10" y1="281.85" y2="281.85" stroke="#eaeaea" stroke-width="0.7"/><line x1="497.10" x2="536.10" y1="285.50" y2="285.50" stroke="#e1e1e1" stroke-width="0.8"/><line x1="497.10" x2="536.10" y1="289.15" y2="289.15" stroke="#eaeaea" stroke-width="0.7"/><line x1="497.10" x2="536.10" y1="292.80" y2="292.80" stroke="#e1e1e1" stroke-width="0.8"/><line x1="497.10" x2="536.10" y1="296.45" y2="296.45" stroke="#eaeaea" stroke-width="0.7"/><line x1="501.60" x2="501.60" y1="269.80" y2="298.40" stroke="#e1e1e1" stroke-width="0.8"/><line x1="509.10" x2="509.10" y1="269.80" y2="298.40" stroke="#e1e1e1" stroke-width="0.8"/><line x1="516.60" x2="516.60" y1="269.80" y2="298.40" stroke="#e1e1e1" stroke-width="0.8"/><line x1="524.10" x2="524.10" y1="269.80" y2="298.40" stroke="#e1e1e1" stroke-width="0.8"/><line x1="531.60" x2="531.60" y1="269.80" y2="298.40" stroke="#e1e1e1" stroke-width="0.8"/>
<line x1="542.70" x2="581.70" y1="270.90" y2="270.90" stroke="#e1e1e1" stroke-width="0.8"/><line x1="542.70" x2="581.70" y1="274.55" y2="274.55" stroke="#eaeaea" stroke-width="0.7"/><line x1="542.70" x2="581.70" y1="278.20" y2="278.20" stroke="#e1e1e1" stroke-width="0.8"/><line x1="542.70" x2="581.70" y1="281.85" y2="281.85" stroke="#eaeaea" stroke-width="0.7"/><line x1="542.70" x2="581.70" y1="285.50" y2="285.50" stroke="#e1e1e1" stroke-width="0.8"/><line x1="542.70" x2="581.70" y1="289.15" y2="289.15" stroke="#eaeaea" stroke-width="0.7"/><line x1="542.70" x2="581.70" y1="292.80" y2="292.80" stroke="#e1e1e1" stroke-width="0.8"/><line x1="542.70" x2="581.70" y1="296.45" y2="296.45" stroke="#eaeaea" stroke-width="0.7"/><line x1="547.20" x2="547.20" y1="269.80" y2="298.40" stroke="#e1e1e1" stroke-width="0.8"/><line x1="554.70" x2="554.70" y1="269.80" y2="298.40" stroke="#e1e1e1" stroke-width="0.8"/><line x1="562.20" x2="562.20" y1="269.80" y2="298.40" stroke="#e1e1e1" stroke-width="0.8"/><line x1="569.70" x2="569.70" y1="269.80" y2="298.40" stroke="#e1e1e1" stroke-width="0.8"/><line x1="577.20" x2="577.20" y1="269.80" y2="298.40" stroke="#e1e1e1" stroke-width="0.8"/>
<line x1="588.10" x2="627.10" y1="270.90" y2="270.90" stroke="#e1e1e1" stroke-width="0.8"/><line x1="588.10" x2="627.10" y1="274.55" y2="274.55" stroke="#eaeaea" stroke-width="0.7"/><line x1="588.10" x2="627.10" y1="278.20" y2="278.20" stroke="#e1e1e1" stroke-width="0.8"/><line x1="588.10" x2="627.10" y1="281.85" y2="281.85" stroke="#eaeaea" stroke-width="0.7"/><line x1="588.10" x2="627.10" y1="285.50" y2="285.50" stroke="#e1e1e1" stroke-width="0.8"/><line x1="588.10" x2="627.10" y1="289.15" y2="289.15" stroke="#eaeaea" stroke-width="0.7"/><line x1="588.10" x2="627.10" y1="292.80" y2="292.80" stroke="#e1e1e1" stroke-width="0.8"/><line x1="588.10" x2="627.10" y1="296.45" y2="296.45" stroke="#eaeaea" stroke-width="0.7"/><line x1="592.60" x2="592.60" y1="269.80" y2="298.40" stroke="#e1e1e1" stroke-width="0.8"/><line x1="600.10" x2="600.10" y1="269.80" y2="298.40" stroke="#e1e1e1" stroke-width="0.8"/><line x1="607.60" x2="607.60" y1="269.80" y2="298.40" stroke="#e1e1e1" stroke-width="0.8"/><line x1="615.10" x2="615.10" y1="269.80" y2="298.40" stroke="#e1e1e1" stroke-width="0.8"/><line x1="622.60" x2="622.60" y1="269.80" y2="298.40" stroke="#e1e1e1" stroke-width="0.8"/>
<line x1="633.80" x2="672.80" y1="270.90" y2="270.90" stroke="#e1e1e1" stroke-width="0.8"/><line x1="633.80" x2="672.80" y1="274.55" y2="274.55" stroke="#eaeaea" stroke-width="0.7"/><line x1="633.80" x2="672.80" y1="278.20" y2="278.20" stroke="#e1e1e1" stroke-width="0.8"/><line x1="633.80" x2="672.80" y1="281.85" y2="281.85" stroke="#eaeaea" stroke-width="0.7"/><line x1="633.80" x2="672.80" y1="285.50" y2="285.50" stroke="#e1e1e1" stroke-width="0.8"/><line x1="633.80" x2="672.80" y1="289.15" y2="289.15" stroke="#eaeaea" stroke-width="0.7"/><line x1="633.80" x2="672.80" y1="292.80" y2="292.80" stroke="#e1e1e1" stroke-width="0.8"/><line x1="633.80" x2="672.80" y1="296.45" y2="296.45" stroke="#eaeaea" stroke-width="0.7"/><line x1="638.30" x2="638.30" y1="269.80" y2="298.40" stroke="#e1e1e1" stroke-width="0.8"/><line x1="645.80" x2="645.80" y1="269.80" y2="298.40" stroke="#e1e1e1" stroke-width="0.8"/><line x1="653.30" x2="653.30" y1="269.80" y2="298.40" stroke="#e1e1e1" stroke-width="0.8"/><line x1="660.80" x2="660.80" y1="269.80" y2="298.40" stroke="#e1e1e1" stroke-width="0.8"/><line x1="668.30" x2="668.30" y1="269.80" y2="298.40" stroke="#e1e1e1" stroke-width="0.8"/>
<text x="498.75" y="303.00" font-size="8" text-anchor="start" transform="rotate(90 498.75 303.00)">M13</text>
<text x="506.25" y="303.00" font-size="8" text-anchor="start" transform="rotate(90 506.25 303.00)">M14</text>
<text x="513.75" y="303.00" font-size="8" text-anchor="start" transform="rotate(90 513.75 303.00)">M15</text>
<text x="521.25" y="303.00" font-size="8" text-anchor="start" transform="rotate(90 521.25 303.00)">M16</text>
<text x="528.75" y="303.00" font-size="8" text-anchor="start" transform="rotate(90 528.75 303.00)">M20</text>
<text x="544.35" y="303.00" font-size="8" text-anchor="start" transform="rotate(90 544.35 303.00)">M13</text>
<text x="551.85" y="303.00" font-size="8" text-anchor="start" transform="rotate(90 551.85 303.00)">M14</text>
<text x="559.35" y="303.00" font-size="8" text-anchor="start" transform="rotate(90 559.35 303.00)">M15</text>
<text x="566.85" y="303.00" font-size="8" text-anchor="start" transform="rotate(90 566.85 303.00)">M16</text>
<text x="574.35" y="303.00" font-size="8" text-anchor="start" transform="rotate(90 574.35 303.00)">M20</text>
<text x="589.75" y="303.00" font-size="8" text-anchor="start" transform="rotate(90 589.75 303.00)">M13</text>
<text x="597.25" y="303.00" font-size="8" text-anchor="start" transform="rotate(90 597.25 303.00)">M14</text>
<text x="604.75" y="303.00" font-size="8" text-anchor="start" transform="rotate(90 604.75 303.00)">M15</text>
<text x="612.25" y="303.00" font-size="8" text-anchor="start" transform="rotate(90 612.25 303.00)">M16</text>
<text x="619.75" y="303.00" font-size="8" text-anchor="start" transform="rotate(90 619.75 303.00)">M20</text>
<text x="635.45" y="303.00" font-size="8" text-anchor="start" transform="rotate(90 635.45 303.00)">M13</text>
<text x="642.95" y="303.00" font-size="8" text-anchor="start" transform="rotate(90 642.95 303.00)">M14</text>
<text x="650.45" y="303.00" font-size="8" text-anchor="start" transform="rotate(90 650.45 303.00)">M15</text>
<text x="657.95" y="303.00" font-size="8" text-anchor="start" transform="rotate(90 657.95 303.00)">M16</text>
<text x="665.45" y="303.00" font-size="8" text-anchor="start" transform="rotate(90 665.45 303.00)">M20</text>
<rect x="500.15" y="167.67" width="2.9" height="1.9" rx="0.7" fill="#E64B35"/>
<rect x="507.65" y="167.67" width="2.9" height="1.9" rx="0.7" fill="#4DBBD5"/>
<rect x="515.15" y="167.27" width="2.9" height="1.9" rx="0.7" fill="#00A087"/>
<rect x="522.65" y="166.67" width="2.9" height="1.9" rx="0.7" fill="#3C5488"/>
<rect x="530.15" y="166.87" width="2.9" height="1.9" rx="0.7" fill="#F39B7F"/>
<polygon points="524.10,162.51 524.72,164.16 526.48,164.24 525.10,165.34 525.57,167.04 524.10,166.06 522.63,167.04 523.10,165.34 521.72,164.24 523.48,164.16" fill="#FF1E1E"/>
<rect x="545.75" y="187.53" width="2.9" height="1.9" rx="0.7" fill="#E64B35"/>
<rect x="553.25" y="186.93" width="2.9" height="1.9" rx="0.7" fill="#4DBBD5"/>
<rect x="560.75" y="182.92" width="2.9" height="1.9" rx="0.7" fill="#00A087"/>
<rect x="568.25" y="183.72" width="2.9" height="1.9" rx="0.7" fill="#3C5488"/>
<rect x="575.75" y="183.32" width="2.9" height="1.9" rx="0.7" fill="#F39B7F"/>
<polygon points="562.20,178.56 562.82,180.21 564.58,180.29 563.20,181.38 563.67,183.08 562.20,182.11 560.73,183.08 561.20,181.38 559.82,180.29 561.58,180.21" fill="#FF1E1E"/>
<rect x="500.15" y="221.42" width="2.9" height="1.9" rx="0.7" fill="#E64B35"/>
<rect x="507.65" y="220.62" width="2.9" height="1.9" rx="0.7" fill="#4DBBD5"/>
<rect x="515.15" y="218.82" width="2.9" height="1.9" rx="0.7" fill="#00A087"/>
<rect x="522.65" y="218.02" width="2.9" height="1.9" rx="0.7" fill="#3C5488"/>
<rect x="530.15" y="217.21" width="2.9" height="1.9" rx="0.7" fill="#F39B7F"/>
<polygon points="531.60,213.26 532.22,214.91 533.98,214.98 532.60,216.08 533.07,217.78 531.60,216.81 530.13,217.78 530.60,216.08 529.22,214.98 530.98,214.91" fill="#FF1E1E"/>
<rect x="545.75" y="202.37" width="2.9" height="1.9" rx="0.7" fill="#E64B35"/>
<rect x="553.25" y="202.17" width="2.9" height="1.9" rx="0.7" fill="#4DBBD5"/>
<rect x="560.75" y="202.57" width="2.9" height="1.9" rx="0.7" fill="#00A087"/>
<rect x="568.25" y="202.37" width="2.9" height="1.9" rx="0.7" fill="#3C5488"/>
<rect x="575.75" y="202.37" width="2.9" height="1.9" rx="0.7" fill="#F39B7F"/>
<polygon points="554.70,198.01 555.32,199.66 557.08,199.74 555.70,200.84 556.17,202.54 554.70,201.56 553.23,202.54 553.70,200.84 552.32,199.74 554.08,199.66" fill="#FF1E1E"/>
<ellipse cx="501.60" cy="259.68" rx="1.5" ry="1.2" fill="#E64B35"/>
<ellipse cx="509.10" cy="259.68" rx="1.5" ry="1.2" fill="#4DBBD5"/>
<ellipse cx="516.60" cy="255.67" rx="1.5" ry="1.2" fill="#00A087"/>
<ellipse cx="524.10" cy="255.87" rx="1.5" ry="1.2" fill="#3C5488"/>
<ellipse cx="531.60" cy="256.07" rx="1.5" ry="1.2" fill="#F39B7F"/>
<polygon points="516.60,250.36 517.22,252.01 518.98,252.09 517.60,253.18 518.07,254.88 516.60,253.91 515.13,254.88 515.60,253.18 514.22,252.09 515.98,252.01" fill="#FF1E1E"/>
<ellipse cx="547.20" cy="257.27" rx="1.5" ry="1.2" fill="#E64B35"/>
<ellipse cx="554.70" cy="257.27" rx="1.5" ry="1.2" fill="#4DBBD5"/>
<ellipse cx="562.20" cy="253.46" rx="1.5" ry="1.2" fill="#00A087"/>
<ellipse cx="569.70" cy="258.28" rx="1.5" ry="1.2" fill="#3C5488"/>
<ellipse cx="577.20" cy="254.06" rx="1.5" ry="1.2" fill="#F39B7F"/>
<polygon points="562.20,248.15 562.82,249.80 564.58,249.88 563.20,250.98 563.67,252.68 562.20,251.70 560.73,252.68 561.20,250.98 559.82,249.88 561.58,249.80" fill="#FF1E1E"/>
<ellipse cx="501.60" cy="293.37" rx="1.5" ry="1.2" fill="#E64B35"/>
<ellipse cx="509.10" cy="293.37" rx="1.5" ry="1.2" fill="#4DBBD5"/>
<ellipse cx="516.60" cy="280.54" rx="1.5" ry="1.2" fill="#00A087"/>
<ellipse cx="524.10" cy="284.75" rx="1.5" ry="1.2" fill="#3C5488"/>
<ellipse cx="531.60" cy="282.74" rx="1.5" ry="1.2" fill="#F39B7F"/>
<polygon points="516.60,275.43 517.22,277.08 518.98,277.16 517.60,278.25 518.07,279.95 516.60,278.98 515.13,279.95 515.60,278.25 514.22,277.16 515.98,277.08" fill="#FF1E1E"/>
<ellipse cx="547.20" cy="290.37" rx="1.5" ry="1.2" fill="#E64B35"/>
<ellipse cx="554.70" cy="290.77" rx="1.5" ry="1.2" fill="#4DBBD5"/>
<ellipse cx="562.20" cy="280.74" rx="1.5" ry="1.2" fill="#00A087"/>
<ellipse cx="569.70" cy="284.35" rx="1.5" ry="1.2" fill="#3C5488"/>
<ellipse cx="577.20" cy="291.77" rx="1.5" ry="1.2" fill="#F39B7F"/>
<polygon points="562.20,275.43 562.82,277.08 564.58,277.16 563.20,278.25 563.67,279.95 562.20,278.98 560.73,279.95 561.20,278.25 559.82,277.16 561.58,277.08" fill="#FF1E1E"/>
<rect x="591.15" y="187.93" width="2.9" height="1.9" rx="0.7" fill="#E64B35"/>
<rect x="598.65" y="186.13" width="2.9" height="1.9" rx="0.7" fill="#4DBBD5"/>
<rect x="606.15" y="184.72" width="2.9" height="1.9" rx="0.7" fill="#00A087"/>
<rect x="613.65" y="184.72" width="2.9" height="1.9" rx="0.7" fill="#3C5488"/>
<rect x="621.15" y="185.32" width="2.9" height="1.9" rx="0.7" fill="#F39B7F"/>
<polygon points="607.60,180.36 608.22,182.01 609.98,182.09 608.60,183.19 609.07,184.89 607.60,183.91 606.13,184.89 606.60,183.19 605.22,182.09 606.98,182.01" fill="#FF1E1E"/>
<polygon points="615.10,180.36 615.72,182.01 617.48,182.09 616.10,183.19 616.57,184.89 615.10,183.91 613.63,184.89 614.10,183.19 612.72,182.09 614.48,182.01" fill="#FF1E1E"/>
<rect x="636.85" y="187.93" width="2.9" height="1.9" rx="0.7" fill="#E64B35"/>
<rect x="644.35" y="186.33" width="2.9" height="1.9" rx="0.7" fill="#4DBBD5"/>
<rect x="651.85" y="185.12" width="2.9" height="1.9" rx="0.7" fill="#00A087"/>
<rect x="659.35" y="187.73" width="2.9" height="1.9" rx="0.7" fill="#3C5488"/>
<rect x="666.85" y="182.32" width="2.9" height="1.9" rx="0.7" fill="#F39B7F"/>
<polygon points="668.30,178.16 668.92,179.81 670.68,179.88 669.30,180.98 669.77,182.68 668.30,181.71 666.83,182.68 667.30,180.98 665.92,179.88 667.68,179.81" fill="#FF1E1E"/>
<rect x="591.15" y="222.83" width="2.9" height="1.9" rx="0.7" fill="#E64B35"/>
<rect x="598.65" y="221.83" width="2.9" height="1.9" rx="0.7" fill="#4DBBD5"/>
<rect x="606.15" y="220.22" width="2.9" height="1.9" rx="0.7" fill="#00A087"/>
<rect x="613.65" y="220.22" width="2.9" height="1.9" rx="0.7" fill="#3C5488"/>
<rect x="621.15" y="221.63" width="2.9" height="1.9" rx="0.7" fill="#F39B7F"/>
<polygon points="607.60,216.06 608.22,217.71 609.98,217.79 608.60,218.89 609.07,220.59 607.60,219.61 606.13,220.59 606.60,218.89 605.22,217.79 606.98,217.71" fill="#FF1E1E"/>
<polygon points="615.10,216.06 615.72,217.71 617.48,217.79 616.10,218.89 616.57,220.59 615.10,219.61 613.63,220.59 614.10,218.89 612.72,217.79 614.48,217.71" fill="#FF1E1E"/>
<rect x="636.85" y="223.63" width="2.9" height="1.9" rx="0.7" fill="#E64B35"/>
<rect x="644.35" y="219.42" width="2.9" height="1.9" rx="0.7" fill="#4DBBD5"/>
<rect x="651.85" y="217.41" width="2.9" height="1.9" rx="0.7" fill="#00A087"/>
<rect x="659.35" y="215.81" width="2.9" height="1.9" rx="0.7" fill="#3C5488"/>
<rect x="666.85" y="216.41" width="2.9" height="1.9" rx="0.7" fill="#F39B7F"/>
<polygon points="660.80,211.45 661.42,213.10 663.18,213.18 661.80,214.27 662.27,215.97 660.80,215.00 659.33,215.97 659.80,214.27 658.42,213.18 660.18,213.10" fill="#FF1E1E"/>
<ellipse cx="592.60" cy="259.48" rx="1.5" ry="1.2" fill="#E64B35"/>
<ellipse cx="600.10" cy="248.05" rx="1.5" ry="1.2" fill="#4DBBD5"/>
<ellipse cx="607.60" cy="244.84" rx="1.5" ry="1.2" fill="#00A087"/>
<ellipse cx="615.10" cy="244.84" rx="1.5" ry="1.2" fill="#3C5488"/>
<ellipse cx="622.60" cy="245.04" rx="1.5" ry="1.2" fill="#F39B7F"/>
<polygon points="607.60,239.53 608.22,241.18 609.98,241.26 608.60,242.35 609.07,244.05 607.60,243.08 606.13,244.05 606.60,242.35 605.22,241.26 606.98,241.18" fill="#FF1E1E"/>
<polygon points="615.10,239.53 615.72,241.18 617.48,241.26 616.10,242.35 616.57,244.05 615.10,243.08 613.63,244.05 614.10,242.35 612.72,241.26 614.48,241.18" fill="#FF1E1E"/>
<ellipse cx="638.30" cy="258.68" rx="1.5" ry="1.2" fill="#E64B35"/>
<ellipse cx="645.80" cy="260.28" rx="1.5" ry="1.2" fill="#4DBBD5"/>
<ellipse cx="653.30" cy="256.07" rx="1.5" ry="1.2" fill="#00A087"/>
<ellipse cx="660.80" cy="256.47" rx="1.5" ry="1.2" fill="#3C5488"/>
<ellipse cx="668.30" cy="256.27" rx="1.5" ry="1.2" fill="#F39B7F"/>
<polygon points="653.30,250.76 653.92,252.41 655.68,252.49 654.30,253.59 654.77,255.28 653.30,254.31 651.83,255.28 652.30,253.59 650.92,252.49 652.68,252.41" fill="#FF1E1E"/>
<ellipse cx="592.60" cy="293.17" rx="1.5" ry="1.2" fill="#E64B35"/>
<ellipse cx="600.10" cy="296.38" rx="1.5" ry="1.2" fill="#4DBBD5"/>
<ellipse cx="607.60" cy="289.96" rx="1.5" ry="1.2" fill="#00A087"/>
<ellipse cx="615.10" cy="289.96" rx="1.5" ry="1.2" fill="#3C5488"/>
<ellipse cx="622.60" cy="289.36" rx="1.5" ry="1.2" fill="#F39B7F"/>
<polygon points="622.60,284.05 623.22,285.70 624.98,285.78 623.60,286.88 624.07,288.58 622.60,287.60 621.13,288.58 621.60,286.88 620.22,285.78 621.98,285.70" fill="#FF1E1E"/>
<ellipse cx="638.30" cy="288.56" rx="1.5" ry="1.2" fill="#E64B35"/>
<ellipse cx="645.80" cy="281.94" rx="1.5" ry="1.2" fill="#4DBBD5"/>
<ellipse cx="653.30" cy="274.52" rx="1.5" ry="1.2" fill="#00A087"/>
<ellipse cx="660.80" cy="273.32" rx="1.5" ry="1.2" fill="#3C5488"/>
<ellipse cx="668.30" cy="273.32" rx="1.5" ry="1.2" fill="#F39B7F"/>
<polygon points="668.30,268.01 668.92,269.66 670.68,269.74 669.30,270.83 669.77,272.53 668.30,271.56 666.83,272.53 667.30,270.83 665.92,269.74 667.68,269.66" fill="#FF1E1E"/>
</g>
<g id="grid-Loewe">
<text x="121.50" y="339.90" font-size="11.5" text-anchor="middle" font-weight="bold" fill="#000">Loewe</text>
<text x="53.45" y="349.60" font-size="8.3" text-anchor="middle">ALMANAC</text>
<text x="98.05" y="349.60" font-size="8.3" text-anchor="middle">O'Neil</text>
<text x="144.45" y="349.60" font-size="8.3" text-anchor="middle">FORCINA</text>
<text x="190.05" y="349.60" font-size="8.3" text-anchor="middle">Mathews</text>
<text x="7.20" y="423.40" font-size="9.3" text-anchor="middle" transform="rotate(-90 7.20 423.40)">Pearson's r</text>
<text x="215.65" y="368.70" font-size="7.6" text-anchor="middle" transform="rotate(90 215.65 368.70)">ALMANAC</text>
<text x="28.70" y="363.25" font-size="8" text-anchor="end">0.75</text>
<text x="28.70" y="369.50" font-size="8" text-anchor="end">0.50</text>
<text x="28.70" y="375.75" font-size="8" text-anchor="end">0.25</text>
<text x="28.70" y="382.00" font-size="8" text-anchor="end">0.00</text>
<line x1="34.10" x2="72.80" y1="357.27" y2="357.27" stroke="#eaeaea" stroke-width="0.7"/><line x1="34.10" x2="72.80" y1="360.40" y2="360.40" stroke="#e1e1e1" stroke-width="0.8"/><line x1="34.10" x2="72.80" y1="363.52" y2="363.52" stroke="#eaeaea" stroke-width="0.7"/><line x1="34.10" x2="72.80" y1="366.65" y2="366.65" stroke="#e1e1e1" stroke-width="0.8"/><line x1="34.10" x2="72.80" y1="369.77" y2="369.77" stroke="#eaeaea" stroke-width="0.7"/><line x1="34.10" x2="72.80" y1="372.90" y2="372.90" stroke="#e1e1e1" stroke-width="0.8"/><line x1="34.10" x2="72.80" y1="376.02" y2="376.02" stroke="#eaeaea" stroke-width="0.7"/><line x1="34.10" x2="72.80" y1="379.15" y2="379.15" stroke="#e1e1e1" stroke-width="0.8"/><line x1="34.10" x2="72.80" y1="382.27" y2="382.27" stroke="#eaeaea" stroke-width="0.7"/><line x1="38.57" x2="38.57" y1="356.00" y2="384.60" stroke="#e1e1e1" stroke-width="0.8"/><line x1="46.01" x2="46.01" y1="356.00" y2="384.60" stroke="#e1e1e1" stroke-width="0.8"/><line x1="53.45" x2="53.45" y1="356.00" y2="384.60" stroke="#e1e1e1" stroke-width="0.8"/><line x1="60.89" x2="60.89" y1="356.00" y2="384.60" stroke="#e1e1e1" stroke-width="0.8"/><line x1="68.33" x2="68.33" y1="356.00" y2="384.60" stroke="#e1e1e1" stroke-width="0.8"/>
<line x1="79.60" x2="118.30" y1="357.27" y2="357.27" stroke="#eaeaea" stroke-width="0.7"/><line x1="79.60" x2="118.30" y1="360.40" y2="360.40" stroke="#e1e1e1" stroke-width="0.8"/><line x1="79.60" x2="118.30" y1="363.52" y2="363.52" stroke="#eaeaea" stroke-width="0.7"/><line x1="79.60" x2="118.30" y1="366.65" y2="366.65" stroke="#e1e1e1" stroke-width="0.8"/><line x1="79.60" x2="118.30" y1="369.77" y2="369.77" stroke="#eaeaea" stroke-width="0.7"/><line x1="79.60" x2="118.30" y1="372.90" y2="372.90" stroke="#e1e1e1" stroke-width="0.8"/><line x1="79.60" x2="118.30" y1="376.02" y2="376.02" stroke="#eaeaea" stroke-width="0.7"/><line x1="79.60" x2="118.30" y1="379.15" y2="379.15" stroke="#e1e1e1" stroke-width="0.8"/><line x1="79.60" x2="118.30" y1="382.27" y2="382.27" stroke="#eaeaea" stroke-width="0.7"/><line x1="84.07" x2="84.07" y1="356.00" y2="384.60" stroke="#e1e1e1" stroke-width="0.8"/><line x1="91.51" x2="91.51" y1="356.00" y2="384.60" stroke="#e1e1e1" stroke-width="0.8"/><line x1="98.95" x2="98.95" y1="356.00" y2="384.60" stroke="#e1e1e1" stroke-width="0.8"/><line x1="106.39" x2="106.39" y1="356.00" y2="384.60" stroke="#e1e1e1" stroke-width="0.8"/><line x1="113.83" x2="113.83" y1="356.00" y2="384.60" stroke="#e1e1e1" stroke-width="0.8"/>
<line x1="125.10" x2="163.80" y1="357.27" y2="357.27" stroke="#eaeaea" stroke-width="0.7"/><line x1="125.10" x2="163.80" y1="360.40" y2="360.40" stroke="#e1e1e1" stroke-width="0.8"/><line x1="125.10" x2="163.80" y1="363.52" y2="363.52" stroke="#eaeaea" stroke-width="0.7"/><line x1="125.10" x2="163.80" y1="366.65" y2="366.65" stroke="#e1e1e1" stroke-width="0.8"/><line x1="125.10" x2="163.80" y1="369.77" y2="369.77" stroke="#eaeaea" stroke-width="0.7"/><line x1="125.10" x2="163.80" y1="372.90" y2="372.90" stroke="#e1e1e1" stroke-width="0.8"/><line x1="125.10" x2="163.80" y1="376.02" y2="376.02" stroke="#eaeaea" stroke-width="0.7"/><line x1="125.10" x2="163.80" y1="379.15" y2="379.15" stroke="#e1e1e1" stroke-width="0.8"/><line x1="125.10" x2="163.80" y1="382.27" y2="382.27" stroke="#eaeaea" stroke-width="0.7"/><line x1="129.57" x2="129.57" y1="356.00" y2="384.60" stroke="#e1e1e1" stroke-width="0.8"/><line x1="137.01" x2="137.01" y1="356.00" y2="384.60" stroke="#e1e1e1" stroke-width="0.8"/><line x1="144.45" x2="144.45" y1="356.00" y2="384.60" stroke="#e1e1e1" stroke-width="0.8"/><line x1="151.89" x2="151.89" y1="356.00" y2="384.60" stroke="#e1e1e1" stroke-width="0.8"/><line x1="159.33" x2="159.33" y1="356.00" y2="384.60" stroke="#e1e1e1" stroke-width="0.8"/>
<line x1="170.70" x2="209.40" y1="357.27" y2="357.27" stroke="#eaeaea" stroke-width="0.7"/><line x1="170.70" x2="209.40" y1="360.40" y2="360.40" stroke="#e1e1e1" stroke-width="0.8"/><line x1="170.70" x2="209.40" y1="363.52" y2="363.52" stroke="#eaeaea" stroke-width="0.7"/><line x1="170.70" x2="209.40" y1="366.65" y2="366.65" stroke="#e1e1e1" stroke-width="0.8"/><line x1="170.70" x2="209.40" y1="369.77" y2="369.77" stroke="#eaeaea" stroke-width="0.7"/><line x1="170.70" x2="209.40" y1="372.90" y2="372.90" stroke="#e1e1e1" stroke-width="0.8"/><line x1="170.70" x2="209.40" y1="376.02" y2="376.02" stroke="#eaeaea" stroke-width="0.7"/><line x1="170.70" x2="209.40" y1="379.15" y2="379.15" stroke="#e1e1e1" stroke-width="0.8"/><line x1="170.70" x2="209.40" y1="382.27" y2="382.27" stroke="#eaeaea" stroke-width="0.7"/><line x1="175.17" x2="175.17" y1="356.00" y2="384.60" stroke="#e1e1e1" stroke-width="0.8"/><line x1="182.61" x2="182.61" y1="356.00" y2="384.60" stroke="#e1e1e1" stroke-width="0.8"/><line x1="190.05" x2="190.05" y1="356.00" y2="384.60" stroke="#e1e1e1" stroke-width="0.8"/><line x1="197.49" x2="197.49" y1="356.00" y2="384.60" stroke="#e1e1e1" stroke-width="0.8"/><line x1="204.93" x2="204.93" y1="356.00" y2="384.60" stroke="#e1e1e1" stroke-width="0.8"/>
<text x="215.65" y="404.10" font-size="7.6" text-anchor="middle" transform="rotate(90 215.65 404.10)">O'Neil</text>
<text x="28.70" y="397.85" font-size="8" text-anchor="end">0.75</text>
<text x="28.70" y="404.10" font-size="8" text-anchor="end">0.50</text>
<text x="28.70" y="410.35" font-size="8" text-anchor="end">0.25</text>
<text x="28.70" y="416.60" font-size="8" text-anchor="end">0.00</text>
<line x1="34.10" x2="72.80" y1="391.88" y2="391.88" stroke="#eaeaea" stroke-width="0.7"/><line x1="34.10" x2="72.80" y1="395.00" y2="395.00" stroke="#e1e1e1" stroke-width="0.8"/><line x1="34.10" x2="72.80" y1="398.12" y2="398.12" stroke="#eaeaea" stroke-width="0.7"/><line x1="34.10" x2="72.80" y1="401.25" y2="401.25" stroke="#e1e1e1" stroke-width="0.8"/><line x1="34.10" x2="72.80" y1="404.38" y2="404.38" stroke="#eaeaea" stroke-width="0.7"/><line x1="34.10" x2="72.80" y1="407.50" y2="407.50" stroke="#e1e1e1" stroke-width="0.8"/><line x1="34.10" x2="72.80" y1="410.62" y2="410.62" stroke="#eaeaea" stroke-width="0.7"/><line x1="34.10" x2="72.80" y1="413.75" y2="413.75" stroke="#e1e1e1" stroke-width="0.8"/><line x1="34.10" x2="72.80" y1="416.88" y2="416.88" stroke="#eaeaea" stroke-width="0.7"/><line x1="38.57" x2="38.57" y1="390.60" y2="419.20" stroke="#e1e1e1" stroke-width="0.8"/><line x1="46.01" x2="46.01" y1="390.60" y2="419.20" stroke="#e1e1e1" stroke-width="0.8"/><line x1="53.45" x2="53.45" y1="390.60" y2="419.20" stroke="#e1e1e1" stroke-width="0.8"/><line x1="60.89" x2="60.89" y1="390.60" y2="419.20" stroke="#e1e1e1" stroke-width="0.8"/><line x1="68.33" x2="68.33" y1="390.60" y2="419.20" stroke="#e1e1e1" stroke-width="0.8"/>
<line x1="79.60" x2="118.30" y1="391.88" y2="391.88" stroke="#eaeaea" stroke-width="0.7"/><line x1="79.60" x2="118.30" y1="395.00" y2="395.00" stroke="#e1e1e1" stroke-width="0.8"/><line x1="79.60" x2="118.30" y1="398.12" y2="398.12" stroke="#eaeaea" stroke-width="0.7"/><line x1="79.60" x2="118.30" y1="401.25" y2="401.25" stroke="#e1e1e1" stroke-width="0.8"/><line x1="79.60" x2="118.30" y1="404.38" y2="404.38" stroke="#eaeaea" stroke-width="0.7"/><line x1="79.60" x2="118.30" y1="407.50" y2="407.50" stroke="#e1e1e1" stroke-width="0.8"/><line x1="79.60" x2="118.30" y1="410.62" y2="410.62" stroke="#eaeaea" stroke-width="0.7"/><line x1="79.60" x2="118.30" y1="413.75" y2="413.75" stroke="#e1e1e1" stroke-width="0.8"/><line x1="79.60" x2="118.30" y1="416.88" y2="416.88" stroke="#eaeaea" stroke-width="0.7"/><line x1="84.07" x2="84.07" y1="390.60" y2="419.20" stroke="#e1e1e1" stroke-width="0.8"/><line x1="91.51" x2="91.51" y1="390.60" y2="419.20" stroke="#e1e1e1" stroke-width="0.8"/><line x1="98.95" x2="98.95" y1="390.60" y2="419.20" stroke="#e1e1e1" stroke-width="0.8"/><line x1="106.39" x2="106.39" y1="390.60" y2="419.20" stroke="#e1e1e1" stroke-width="0.8"/><line x1="113.83" x2="113.83" y1="390.60" y2="419.20" stroke="#e1e1e1" stroke-width="0.8"/>
<line x1="125.10" x2="163.80" y1="391.88" y2="391.88" stroke="#eaeaea" stroke-width="0.7"/><line x1="125.10" x2="163.80" y1="395.00" y2="395.00" stroke="#e1e1e1" stroke-width="0.8"/><line x1="125.10" x2="163.80" y1="398.12" y2="398.12" stroke="#eaeaea" stroke-width="0.7"/><line x1="125.10" x2="163.80" y1="401.25" y2="401.25" stroke="#e1e1e1" stroke-width="0.8"/><line x1="125.10" x2="163.80" y1="404.38" y2="404.38" stroke="#eaeaea" stroke-width="0.7"/><line x1="125.10" x2="163.80" y1="407.50" y2="407.50" stroke="#e1e1e1" stroke-width="0.8"/><line x1="125.10" x2="163.80" y1="410.62" y2="410.62" stroke="#eaeaea" stroke-width="0.7"/><line x1="125.10" x2="163.80" y1="413.75" y2="413.75" stroke="#e1e1e1" stroke-width="0.8"/><line x1="125.10" x2="163.80" y1="416.88" y2="416.88" stroke="#eaeaea" stroke-width="0.7"/><line x1="129.57" x2="129.57" y1="390.60" y2="419.20" stroke="#e1e1e1" stroke-width="0.8"/><line x1="137.01" x2="137.01" y1="390.60" y2="419.20" stroke="#e1e1e1" stroke-width="0.8"/><line x1="144.45" x2="144.45" y1="390.60" y2="419.20" stroke="#e1e1e1" stroke-width="0.8"/><line x1="151.89" x2="151.89" y1="390.60" y2="419.20" stroke="#e1e1e1" stroke-width="0.8"/><line x1="159.33" x2="159.33" y1="390.60" y2="419.20" stroke="#e1e1e1" stroke-width="0.8"/>
<line x1="170.70" x2="209.40" y1="391.88" y2="391.88" stroke="#eaeaea" stroke-width="0.7"/><line x1="170.70" x2="209.40" y1="395.00" y2="395.00" stroke="#e1e1e1" stroke-width="0.8"/><line x1="170.70" x2="209.40" y1="398.12" y2="398.12" stroke="#eaeaea" stroke-width="0.7"/><line x1="170.70" x2="209.40" y1="401.25" y2="401.25" stroke="#e1e1e1" stroke-width="0.8"/><line x1="170.70" x2="209.40" y1="404.38" y2="404.38" stroke="#eaeaea" stroke-width="0.7"/><line x1="170.70" x2="209.40" y1="407.50" y2="407.50" stroke="#e1e1e1" stroke-width="0.8"/><line x1="170.70" x2="209.40" y1="410.62" y2="410.62" stroke="#eaeaea" stroke-width="0.7"/><line x1="170.70" x2="209.40" y1="413.75" y2="413.75" stroke="#e1e1e1" stroke-width="0.8"/><line x1="170.70" x2="209.40" y1="416.88" y2="416.88" stroke="#eaeaea" stroke-width="0.7"/><line x1="175.17" x2="175.17" y1="390.60" y2="419.20" stroke="#e1e1e1" stroke-width="0.8"/><line x1="182.61" x2="182.61" y1="390.60" y2="419.20" stroke="#e1e1e1" stroke-width="0.8"/><line x1="190.05" x2="190.05" y1="390.60" y2="419.20" stroke="#e1e1e1" stroke-width="0.8"/><line x1="197.49" x2="197.49" y1="390.60" y2="419.20" stroke="#e1e1e1" stroke-width="0.8"/><line x1="204.93" x2="204.93" y1="390.60" y2="419.20" stroke="#e1e1e1" stroke-width="0.8"/>
<text x="215.65" y="439.50" font-size="7.6" text-anchor="middle" transform="rotate(90 215.65 439.50)">FORCINA</text>
<text x="28.70" y="432.45" font-size="8" text-anchor="end">0.75</text>
<text x="28.70" y="438.70" font-size="8" text-anchor="end">0.50</text>
<text x="28.70" y="444.95" font-size="8" text-anchor="end">0.25</text>
<text x="28.70" y="451.20" font-size="8" text-anchor="end">0.00</text>
<line x1="34.10" x2="72.80" y1="426.47" y2="426.47" stroke="#eaeaea" stroke-width="0.7"/><line x1="34.10" x2="72.80" y1="429.60" y2="429.60" stroke="#e1e1e1" stroke-width="0.8"/><line x1="34.10" x2="72.80" y1="432.72" y2="432.72" stroke="#eaeaea" stroke-width="0.7"/><line x1="34.10" x2="72.80" y1="435.85" y2="435.85" stroke="#e1e1e1" stroke-width="0.8"/><line x1="34.10" x2="72.80" y1="438.97" y2="438.97" stroke="#eaeaea" stroke-width="0.7"/><line x1="34.10" x2="72.80" y1="442.10" y2="442.10" stroke="#e1e1e1" stroke-width="0.8"/><line x1="34.10" x2="72.80" y1="445.22" y2="445.22" stroke="#eaeaea" stroke-width="0.7"/><line x1="34.10" x2="72.80" y1="448.35" y2="448.35" stroke="#e1e1e1" stroke-width="0.8"/><line x1="34.10" x2="72.80" y1="451.47" y2="451.47" stroke="#eaeaea" stroke-width="0.7"/><line x1="38.57" x2="38.57" y1="425.20" y2="453.80" stroke="#e1e1e1" stroke-width="0.8"/><line x1="46.01" x2="46.01" y1="425.20" y2="453.80" stroke="#e1e1e1" stroke-width="0.8"/><line x1="53.45" x2="53.45" y1="425.20" y2="453.80" stroke="#e1e1e1" stroke-width="0.8"/><line x1="60.89" x2="60.89" y1="425.20" y2="453.80" stroke="#e1e1e1" stroke-width="0.8"/><line x1="68.33" x2="68.33" y1="425.20" y2="453.80" stroke="#e1e1e1" stroke-width="0.8"/>
<line x1="79.60" x2="118.30" y1="426.47" y2="426.47" stroke="#eaeaea" stroke-width="0.7"/><line x1="79.60" x2="118.30" y1="429.60" y2="429.60" stroke="#e1e1e1" stroke-width="0.8"/><line x1="79.60" x2="118.30" y1="432.72" y2="432.72" stroke="#eaeaea" stroke-width="0.7"/><line x1="79.60" x2="118.30" y1="435.85" y2="435.85" stroke="#e1e1e1" stroke-width="0.8"/><line x1="79.60" x2="118.30" y1="438.97" y2="438.97" stroke="#eaeaea" stroke-width="0.7"/><line x1="79.60" x2="118.30" y1="442.10" y2="442.10" stroke="#e1e1e1" stroke-width="0.8"/><line x1="79.60" x2="118.30" y1="445.22" y2="445.22" stroke="#eaeaea" stroke-width="0.7"/><line x1="79.60" x2="118.30" y1="448.35" y2="448.35" stroke="#e1e1e1" stroke-width="0.8"/><line x1="79.60" x2="118.30" y1="451.47" y2="451.47" stroke="#eaeaea" stroke-width="0.7"/><line x1="84.07" x2="84.07" y1="425.20" y2="453.80" stroke="#e1e1e1" stroke-width="0.8"/><line x1="91.51" x2="91.51" y1="425.20" y2="453.80" stroke="#e1e1e1" stroke-width="0.8"/><line x1="98.95" x2="98.95" y1="425.20" y2="453.80" stroke="#e1e1e1" stroke-width="0.8"/><line x1="106.39" x2="106.39" y1="425.20" y2="453.80" stroke="#e1e1e1" stroke-width="0.8"/><line x1="113.83" x2="113.83" y1="425.20" y2="453.80" stroke="#e1e1e1" stroke-width="0.8"/>
<line x1="125.10" x2="163.80" y1="426.47" y2="426.47" stroke="#eaeaea" stroke-width="0.7"/><line x1="125.10" x2="163.80" y1="429.60" y2="429.60" stroke="#e1e1e1" stroke-width="0.8"/><line x1="125.10" x2="163.80" y1="432.72" y2="432.72" stroke="#eaeaea" stroke-width="0.7"/><line x1="125.10" x2="163.80" y1="435.85" y2="435.85" stroke="#e1e1e1" stroke-width="0.8"/><line x1="125.10" x2="163.80" y1="438.97" y2="438.97" stroke="#eaeaea" stroke-width="0.7"/><line x1="125.10" x2="163.80" y1="442.10" y2="442.10" stroke="#e1e1e1" stroke-width="0.8"/><line x1="125.10" x2="163.80" y1="445.22" y2="445.22" stroke="#eaeaea" stroke-width="0.7"/><line x1="125.10" x2="163.80" y1="448.35" y2="448.35" stroke="#e1e1e1" stroke-width="0.8"/><line x1="125.10" x2="163.80" y1="451.47" y2="451.47" stroke="#eaeaea" stroke-width="0.7"/><line x1="129.57" x2="129.57" y1="425.20" y2="453.80" stroke="#e1e1e1" stroke-width="0.8"/><line x1="137.01" x2="137.01" y1="425.20" y2="453.80" stroke="#e1e1e1" stroke-width="0.8"/><line x1="144.45" x2="144.45" y1="425.20" y2="453.80" stroke="#e1e1e1" stroke-width="0.8"/><line x1="151.89" x2="151.89" y1="425.20" y2="453.80" stroke="#e1e1e1" stroke-width="0.8"/><line x1="159.33" x2="159.33" y1="425.20" y2="453.80" stroke="#e1e1e1" stroke-width="0.8"/>
<line x1="170.70" x2="209.40" y1="426.47" y2="426.47" stroke="#eaeaea" stroke-width="0.7"/><line x1="170.70" x2="209.40" y1="429.60" y2="429.60" stroke="#e1e1e1" stroke-width="0.8"/><line x1="170.70" x2="209.40" y1="432.72" y2="432.72" stroke="#eaeaea" stroke-width="0.7"/><line x1="170.70" x2="209.40" y1="435.85" y2="435.85" stroke="#e1e1e1" stroke-width="0.8"/><line x1="170.70" x2="209.40" y1="438.97" y2="438.97" stroke="#eaeaea" stroke-width="0.7"/><line x1="170.70" x2="209.40" y1="442.10" y2="442.10" stroke="#e1e1e1" stroke-width="0.8"/><line x1="170.70" x2="209.40" y1="445.22" y2="445.22" stroke="#eaeaea" stroke-width="0.7"/><line x1="170.70" x2="209.40" y1="448.35" y2="448.35" stroke="#e1e1e1" stroke-width="0.8"/><line x1="170.70" x2="209.40" y1="451.47" y2="451.47" stroke="#eaeaea" stroke-width="0.7"/><line x1="175.17" x2="175.17" y1="425.20" y2="453.80" stroke="#e1e1e1" stroke-width="0.8"/><line x1="182.61" x2="182.61" y1="425.20" y2="453.80" stroke="#e1e1e1" stroke-width="0.8"/><line x1="190.05" x2="190.05" y1="425.20" y2="453.80" stroke="#e1e1e1" stroke-width="0.8"/><line x1="197.49" x2="197.49" y1="425.20" y2="453.80" stroke="#e1e1e1" stroke-width="0.8"/><line x1="204.93" x2="204.93" y1="425.20" y2="453.80" stroke="#e1e1e1" stroke-width="0.8"/>
<text x="215.65" y="474.90" font-size="7.6" text-anchor="middle" transform="rotate(90 215.65 474.90)">Mathews</text>
<text x="28.70" y="467.05" font-size="8" text-anchor="end">0.75</text>
<text x="28.70" y="473.30" font-size="8" text-anchor="end">0.50</text>
<text x="28.70" y="479.55" font-size="8" text-anchor="end">0.25</text>
<text x="28.70" y="485.80" font-size="8" text-anchor="end">0.00</text>
<line x1="34.10" x2="72.80" y1="461.07" y2="461.07" stroke="#eaeaea" stroke-width="0.7"/><line x1="34.10" x2="72.80" y1="464.20" y2="464.20" stroke="#e1e1e1" stroke-width="0.8"/><line x1="34.10" x2="72.80" y1="467.32" y2="467.32" stroke="#eaeaea" stroke-width="0.7"/><line x1="34.10" x2="72.80" y1="470.45" y2="470.45" stroke="#e1e1e1" stroke-width="0.8"/><line x1="34.10" x2="72.80" y1="473.57" y2="473.57" stroke="#eaeaea" stroke-width="0.7"/><line x1="34.10" x2="72.80" y1="476.70" y2="476.70" stroke="#e1e1e1" stroke-width="0.8"/><line x1="34.10" x2="72.80" y1="479.82" y2="479.82" stroke="#eaeaea" stroke-width="0.7"/><line x1="34.10" x2="72.80" y1="482.95" y2="482.95" stroke="#e1e1e1" stroke-width="0.8"/><line x1="34.10" x2="72.80" y1="486.07" y2="486.07" stroke="#eaeaea" stroke-width="0.7"/><line x1="38.57" x2="38.57" y1="459.80" y2="488.40" stroke="#e1e1e1" stroke-width="0.8"/><line x1="46.01" x2="46.01" y1="459.80" y2="488.40" stroke="#e1e1e1" stroke-width="0.8"/><line x1="53.45" x2="53.45" y1="459.80" y2="488.40" stroke="#e1e1e1" stroke-width="0.8"/><line x1="60.89" x2="60.89" y1="459.80" y2="488.40" stroke="#e1e1e1" stroke-width="0.8"/><line x1="68.33" x2="68.33" y1="459.80" y2="488.40" stroke="#e1e1e1" stroke-width="0.8"/>
<line x1="79.60" x2="118.30" y1="461.07" y2="461.07" stroke="#eaeaea" stroke-width="0.7"/><line x1="79.60" x2="118.30" y1="464.20" y2="464.20" stroke="#e1e1e1" stroke-width="0.8"/><line x1="79.60" x2="118.30" y1="467.32" y2="467.32" stroke="#eaeaea" stroke-width="0.7"/><line x1="79.60" x2="118.30" y1="470.45" y2="470.45" stroke="#e1e1e1" stroke-width="0.8"/><line x1="79.60" x2="118.30" y1="473.57" y2="473.57" stroke="#eaeaea" stroke-width="0.7"/><line x1="79.60" x2="118.30" y1="476.70" y2="476.70" stroke="#e1e1e1" stroke-width="0.8"/><line x1="79.60" x2="118.30" y1="479.82" y2="479.82" stroke="#eaeaea" stroke-width="0.7"/><line x1="79.60" x2="118.30" y1="482.95" y2="482.95" stroke="#e1e1e1" stroke-width="0.8"/><line x1="79.60" x2="118.30" y1="486.07" y2="486.07" stroke="#eaeaea" stroke-width="0.7"/><line x1="84.07" x2="84.07" y1="459.80" y2="488.40" stroke="#e1e1e1" stroke-width="0.8"/><line x1="91.51" x2="91.51" y1="459.80" y2="488.40" stroke="#e1e1e1" stroke-width="0.8"/><line x1="98.95" x2="98.95" y1="459.80" y2="488.40" stroke="#e1e1e1" stroke-width="0.8"/><line x1="106.39" x2="106.39" y1="459.80" y2="488.40" stroke="#e1e1e1" stroke-width="0.8"/><line x1="113.83" x2="113.83" y1="459.80" y2="488.40" stroke="#e1e1e1" stroke-width="0.8"/>
<line x1="125.10" x2="163.80" y1="461.07" y2="461.07" stroke="#eaeaea" stroke-width="0.7"/><line x1="125.10" x2="163.80" y1="464.20" y2="464.20" stroke="#e1e1e1" stroke-width="0.8"/><line x1="125.10" x2="163.80" y1="467.32" y2="467.32" stroke="#eaeaea" stroke-width="0.7"/><line x1="125.10" x2="163.80" y1="470.45" y2="470.45" stroke="#e1e1e1" stroke-width="0.8"/><line x1="125.10" x2="163.80" y1="473.57" y2="473.57" stroke="#eaeaea" stroke-width="0.7"/><line x1="125.10" x2="163.80" y1="476.70" y2="476.70" stroke="#e1e1e1" stroke-width="0.8"/><line x1="125.10" x2="163.80" y1="479.82" y2="479.82" stroke="#eaeaea" stroke-width="0.7"/><line x1="125.10" x2="163.80" y1="482.95" y2="482.95" stroke="#e1e1e1" stroke-width="0.8"/><line x1="125.10" x2="163.80" y1="486.07" y2="486.07" stroke="#eaeaea" stroke-width="0.7"/><line x1="129.57" x2="129.57" y1="459.80" y2="488.40" stroke="#e1e1e1" stroke-width="0.8"/><line x1="137.01" x2="137.01" y1="459.80" y2="488.40" stroke="#e1e1e1" stroke-width="0.8"/><line x1="144.45" x2="144.45" y1="459.80" y2="488.40" stroke="#e1e1e1" stroke-width="0.8"/><line x1="151.89" x2="151.89" y1="459.80" y2="488.40" stroke="#e1e1e1" stroke-width="0.8"/><line x1="159.33" x2="159.33" y1="459.80" y2="488.40" stroke="#e1e1e1" stroke-width="0.8"/>
<line x1="170.70" x2="209.40" y1="461.07" y2="461.07" stroke="#eaeaea" stroke-width="0.7"/><line x1="170.70" x2="209.40" y1="464.20" y2="464.20" stroke="#e1e1e1" stroke-width="0.8"/><line x1="170.70" x2="209.40" y1="467.32" y2="467.32" stroke="#eaeaea" stroke-width="0.7"/><line x1="170.70" x2="209.40" y1="470.45" y2="470.45" stroke="#e1e1e1" stroke-width="0.8"/><line x1="170.70" x2="209.40" y1="473.57" y2="473.57" stroke="#eaeaea" stroke-width="0.7"/><line x1="170.70" x2="209.40" y1="476.70" y2="476.70" stroke="#e1e1e1" stroke-width="0.8"/><line x1="170.70" x2="209.40" y1="479.82" y2="479.82" stroke="#eaeaea" stroke-width="0.7"/><line x1="170.70" x2="209.40" y1="482.95" y2="482.95" stroke="#e1e1e1" stroke-width="0.8"/><line x1="170.70" x2="209.40" y1="486.07" y2="486.07" stroke="#eaeaea" stroke-width="0.7"/><line x1="175.17" x2="175.17" y1="459.80" y2="488.40" stroke="#e1e1e1" stroke-width="0.8"/><line x1="182.61" x2="182.61" y1="459.80" y2="488.40" stroke="#e1e1e1" stroke-width="0.8"/><line x1="190.05" x2="190.05" y1="459.80" y2="488.40" stroke="#e1e1e1" stroke-width="0.8"/><line x1="197.49" x2="197.49" y1="459.80" y2="488.40" stroke="#e1e1e1" stroke-width="0.8"/><line x1="204.93" x2="204.93" y1="459.80" y2="488.40" stroke="#e1e1e1" stroke-width="0.8"/>
<text x="35.72" y="493.00" font-size="8" text-anchor="start" transform="rotate(90 35.72 493.00)">M13</text>
<text x="43.16" y="493.00" font-size="8" text-anchor="start" transform="rotate(90 43.16 493.00)">M14</text>
<text x="50.60" y="493.00" font-size="8" text-anchor="start" transform="rotate(90 50.60 493.00)">M15</text>
<text x="58.04" y="493.00" font-size="8" text-anchor="start" transform="rotate(90 58.04 493.00)">M16</text>
<text x="65.48" y="493.00" font-size="8" text-anchor="start" transform="rotate(90 65.48 493.00)">M20</text>
<text x="81.22" y="493.00" font-size="8" text-anchor="start" transform="rotate(90 81.22 493.00)">M13</text>
<text x="88.66" y="493.00" font-size="8" text-anchor="start" transform="rotate(90 88.66 493.00)">M14</text>
<text x="96.10" y="493.00" font-size="8" text-anchor="start" transform="rotate(90 96.10 493.00)">M15</text>
<text x="103.54" y="493.00" font-size="8" text-anchor="start" transform="rotate(90 103.54 493.00)">M16</text>
<text x="110.98" y="493.00" font-size="8" text-anchor="start" transform="rotate(90 110.98 493.00)">M20</text>
<text x="126.72" y="493.00" font-size="8" text-anchor="start" transform="rotate(90 126.72 493.00)">M13</text>
<text x="134.16" y="493.00" font-size="8" text-anchor="start" transform="rotate(90 134.16 493.00)">M14</text>
<text x="141.60" y="493.00" font-size="8" text-anchor="start" transform="rotate(90 141.60 493.00)">M15</text>
<text x="149.04" y="493.00" font-size="8" text-anchor="start" transform="rotate(90 149.04 493.00)">M16</text>
<text x="156.48" y="493.00" font-size="8" text-anchor="start" transform="rotate(90 156.48 493.00)">M20</text>
<text x="172.32" y="493.00" font-size="8" text-anchor="start" transform="rotate(90 172.32 493.00)">M13</text>
<text x="179.76" y="493.00" font-size="8" text-anchor="start" transform="rotate(90 179.76 493.00)">M14</text>
<text x="187.20" y="493.00" font-size="8" text-anchor="start" transform="rotate(90 187.20 493.00)">M15</text>
<text x="194.64" y="493.00" font-size="8" text-anchor="start" transform="rotate(90 194.64 493.00)">M16</text>
<text x="202.08" y="493.00" font-size="8" text-anchor="start" transform="rotate(90 202.08 493.00)">M20</text>
<rect x="37.12" y="360.70" width="2.9" height="1.9" rx="0.7" fill="#E64B35"/>
<rect x="44.56" y="360.70" width="2.9" height="1.9" rx="0.7" fill="#4DBBD5"/>
<rect x="52.00" y="357.89" width="2.9" height="1.9" rx="0.7" fill="#00A087"/>
<rect x="59.44" y="356.89" width="2.9" height="1.9" rx="0.7" fill="#3C5488"/>
<rect x="66.88" y="356.28" width="2.9" height="1.9" rx="0.7" fill="#F39B7F"/>
<polygon points="68.33,352.33 68.95,353.98 70.71,354.05 69.33,355.15 69.80,356.85 68.33,355.88 66.87,356.85 67.34,355.15 65.96,354.05 67.72,353.98" fill="#FF1E1E"/>
<rect x="82.62" y="375.54" width="2.9" height="1.9" rx="0.7" fill="#E64B35"/>
<rect x="90.06" y="375.74" width="2.9" height="1.9" rx="0.7" fill="#4DBBD5"/>
<rect x="97.50" y="368.12" width="2.9" height="1.9" rx="0.7" fill="#00A087"/>
<rect x="104.94" y="375.54" width="2.9" height="1.9" rx="0.7" fill="#3C5488"/>
<rect x="112.38" y="363.71" width="2.9" height="1.9" rx="0.7" fill="#F39B7F"/>
<polygon points="113.83,359.55 114.45,361.20 116.21,361.27 114.83,362.37 115.30,364.07 113.83,363.10 112.37,364.07 112.84,362.37 111.46,361.27 113.22,361.20" fill="#FF1E1E"/>
<rect x="37.12" y="409.03" width="2.9" height="1.9" rx="0.7" fill="#E64B35"/>
<rect x="44.56" y="409.03" width="2.9" height="1.9" rx="0.7" fill="#4DBBD5"/>
<rect x="52.00" y="401.01" width="2.9" height="1.9" rx="0.7" fill="#00A087"/>
<rect x="59.44" y="400.01" width="2.9" height="1.9" rx="0.7" fill="#3C5488"/>
<rect x="66.88" y="397.20" width="2.9" height="1.9" rx="0.7" fill="#F39B7F"/>
<polygon points="68.33,393.04 68.95,394.69 70.71,394.77 69.33,395.87 69.80,397.56 68.33,396.59 66.87,397.56 67.34,395.87 65.96,394.77 67.72,394.69" fill="#FF1E1E"/>
<rect x="82.62" y="393.19" width="2.9" height="1.9" rx="0.7" fill="#E64B35"/>
<rect x="90.06" y="393.19" width="2.9" height="1.9" rx="0.7" fill="#4DBBD5"/>
<rect x="97.50" y="391.98" width="2.9" height="1.9" rx="0.7" fill="#00A087"/>
<rect x="104.94" y="391.38" width="2.9" height="1.9" rx="0.7" fill="#3C5488"/>
<rect x="112.38" y="391.18" width="2.9" height="1.9" rx="0.7" fill="#F39B7F"/>
<polygon points="113.83,387.02 114.45,388.67 116.21,388.75 114.83,389.85 115.30,391.55 113.83,390.57 112.37,391.55 112.84,389.85 111.46,388.75 113.22,388.67" fill="#FF1E1E"/>
<ellipse cx="38.57" cy="448.09" rx="1.5" ry="1.2" fill="#E64B35"/>
<ellipse cx="46.01" cy="447.69" rx="1.5" ry="1.2" fill="#4DBBD5"/>
<ellipse cx="53.45" cy="445.68" rx="1.5" ry="1.2" fill="#00A087"/>
<ellipse cx="60.89" cy="448.29" rx="1.5" ry="1.2" fill="#3C5488"/>
<ellipse cx="68.33" cy="445.88" rx="1.5" ry="1.2" fill="#F39B7F"/>
<polygon points="53.45,440.37 54.07,442.02 55.83,442.10 54.45,443.20 54.92,444.90 53.45,443.92 51.98,444.90 52.45,443.20 51.07,442.10 52.83,442.02" fill="#FF1E1E"/>
<ellipse cx="84.07" cy="447.89" rx="1.5" ry="1.2" fill="#E64B35"/>
<ellipse cx="91.51" cy="448.09" rx="1.5" ry="1.2" fill="#4DBBD5"/>
<ellipse cx="98.95" cy="449.49" rx="1.5" ry="1.2" fill="#00A087"/>
<ellipse cx="106.39" cy="446.48" rx="1.5" ry="1.2" fill="#3C5488"/>
<ellipse cx="113.83" cy="444.68" rx="1.5" ry="1.2" fill="#F39B7F"/>
<polygon points="113.83,439.57 114.45,441.22 116.21,441.30 114.83,442.40 115.30,444.09 113.83,443.12 112.37,444.09 112.84,442.40 111.46,441.30 113.22,441.22" fill="#FF1E1E"/>
<ellipse cx="38.57" cy="485.79" rx="1.5" ry="1.2" fill="#E64B35"/>
<ellipse cx="46.01" cy="486.20" rx="1.5" ry="1.2" fill="#4DBBD5"/>
<ellipse cx="53.45" cy="466.14" rx="1.5" ry="1.2" fill="#00A087"/>
<ellipse cx="60.89" cy="471.55" rx="1.5" ry="1.2" fill="#3C5488"/>
<ellipse cx="68.33" cy="471.75" rx="1.5" ry="1.2" fill="#F39B7F"/>
<polygon points="53.45,460.63 54.07,462.28 55.83,462.36 54.45,463.45 54.92,465.15 53.45,464.18 51.98,465.15 52.45,463.45 51.07,462.36 52.83,462.28" fill="#FF1E1E"/>
<ellipse cx="84.07" cy="482.79" rx="1.5" ry="1.2" fill="#E64B35"/>
<ellipse cx="91.51" cy="481.98" rx="1.5" ry="1.2" fill="#4DBBD5"/>
<ellipse cx="98.95" cy="468.75" rx="1.5" ry="1.2" fill="#00A087"/>
<ellipse cx="106.39" cy="469.75" rx="1.5" ry="1.2" fill="#3C5488"/>
<ellipse cx="113.83" cy="468.75" rx="1.5" ry="1.2" fill="#F39B7F"/>
<polygon points="98.95,463.44 99.57,465.09 101.33,465.17 99.95,466.26 100.42,467.96 98.95,466.99 97.48,467.96 97.95,466.26 96.57,465.17 98.33,465.09" fill="#FF1E1E"/>
<rect x="135.56" y="375.74" width="2.9" height="1.9" rx="0.7" fill="#4DBBD5"/>
<rect x="143.00" y="376.14" width="2.9" height="1.9" rx="0.7" fill="#00A087"/>
<rect x="150.44" y="376.14" width="2.9" height="1.9" rx="0.7" fill="#3C5488"/>
<rect x="157.88" y="375.94" width="2.9" height="1.9" rx="0.7" fill="#F39B7F"/>
<polygon points="159.33,367.37 159.95,369.02 161.71,369.10 160.33,370.19 160.80,371.89 159.33,370.92 157.87,371.89 158.34,370.19 156.96,369.10 158.72,369.02" fill="#FF1E1E"/>
<rect x="173.72" y="377.94" width="2.9" height="1.9" rx="0.7" fill="#E64B35"/>
<rect x="181.16" y="379.95" width="2.9" height="1.9" rx="0.7" fill="#4DBBD5"/>
<rect x="188.60" y="373.73" width="2.9" height="1.9" rx="0.7" fill="#00A087"/>
<rect x="196.04" y="374.94" width="2.9" height="1.9" rx="0.7" fill="#3C5488"/>
<rect x="203.48" y="372.93" width="2.9" height="1.9" rx="0.7" fill="#F39B7F"/>
<polygon points="204.93,368.97 205.55,370.62 207.31,370.70 205.93,371.80 206.40,373.50 204.93,372.52 203.47,373.50 203.94,371.80 202.56,370.70 204.32,370.62" fill="#FF1E1E"/>
<rect x="128.12" y="412.84" width="2.9" height="1.9" rx="0.7" fill="#E64B35"/>
<rect x="135.56" y="410.84" width="2.9" height="1.9" rx="0.7" fill="#4DBBD5"/>
<rect x="143.00" y="410.24" width="2.9" height="1.9" rx="0.7" fill="#00A087"/>
<rect x="150.44" y="410.24" width="2.9" height="1.9" rx="0.7" fill="#3C5488"/>
<rect x="157.88" y="411.04" width="2.9" height="1.9" rx="0.7" fill="#F39B7F"/>
<polygon points="144.45,406.28 145.07,407.93 146.83,408.01 145.45,409.10 145.92,410.80 144.45,409.83 142.98,410.80 143.45,409.10 142.07,408.01 143.83,407.93" fill="#FF1E1E"/>
<polygon points="151.89,406.28 152.51,407.93 154.27,408.01 152.89,409.10 153.36,410.80 151.89,409.83 150.42,410.80 150.89,409.10 149.51,408.01 151.28,407.93" fill="#FF1E1E"/>
<rect x="173.72" y="412.84" width="2.9" height="1.9" rx="0.7" fill="#E64B35"/>
<rect x="181.16" y="409.63" width="2.9" height="1.9" rx="0.7" fill="#4DBBD5"/>
<rect x="188.60" y="403.02" width="2.9" height="1.9" rx="0.7" fill="#00A087"/>
<rect x="196.04" y="401.41" width="2.9" height="1.9" rx="0.7" fill="#3C5488"/>
<rect x="203.48" y="399.20" width="2.9" height="1.9" rx="0.7" fill="#F39B7F"/>
<polygon points="204.93,395.25 205.55,396.90 207.31,396.97 205.93,398.07 206.40,399.77 204.93,398.80 203.47,399.77 203.94,398.07 202.56,396.97 204.32,396.90" fill="#FF1E1E"/>
<ellipse cx="129.57" cy="449.29" rx="1.5" ry="1.2" fill="#E64B35"/>
<ellipse cx="137.01" cy="439.87" rx="1.5" ry="1.2" fill="#4DBBD5"/>
<ellipse cx="144.45" cy="437.66" rx="1.5" ry="1.2" fill="#00A087"/>
<ellipse cx="151.89" cy="437.66" rx="1.5" ry="1.2" fill="#3C5488"/>
<ellipse cx="159.33" cy="437.26" rx="1.5" ry="1.2" fill="#F39B7F"/>
<polygon points="159.33,432.15 159.95,433.80 161.71,433.88 160.33,434.97 160.80,436.67 159.33,435.70 157.87,436.67 158.34,434.97 156.96,433.88 158.72,433.80" fill="#FF1E1E"/>
<ellipse cx="175.17" cy="449.09" rx="1.5" ry="1.2" fill="#E64B35"/>
<ellipse cx="182.61" cy="449.09" rx="1.5" ry="1.2" fill="#4DBBD5"/>
<ellipse cx="190.05" cy="446.28" rx="1.5" ry="1.2" fill="#00A087"/>
<ellipse cx="197.49" cy="446.68" rx="1.5" ry="1.2" fill="#3C5488"/>
<ellipse cx="204.93" cy="444.88" rx="1.5" ry="1.2" fill="#F39B7F"/>
<polygon points="204.93,439.97 205.55,441.62 207.31,441.70 205.93,442.80 206.40,444.49 204.93,443.52 203.47,444.49 203.94,442.80 202.56,441.70 204.32,441.62" fill="#FF1E1E"/>
<ellipse cx="137.01" cy="485.99" rx="1.5" ry="1.2" fill="#4DBBD5"/>
<ellipse cx="144.45" cy="480.78" rx="1.5" ry="1.2" fill="#00A087"/>
<ellipse cx="151.89" cy="480.78" rx="1.5" ry="1.2" fill="#3C5488"/>
<ellipse cx="159.33" cy="483.99" rx="1.5" ry="1.2" fill="#F39B7F"/>
<polygon points="144.45,473.67 145.07,475.32 146.83,475.39 145.45,476.49 145.92,478.19 144.45,477.22 142.98,478.19 143.45,476.49 142.07,475.39 143.83,475.32" fill="#FF1E1E"/>
<ellipse cx="175.17" cy="480.38" rx="1.5" ry="1.2" fill="#E64B35"/>
<ellipse cx="182.61" cy="467.74" rx="1.5" ry="1.2" fill="#4DBBD5"/>
<ellipse cx="190.05" cy="463.73" rx="1.5" ry="1.2" fill="#00A087"/>
<ellipse cx="197.49" cy="461.93" rx="1.5" ry="1.2" fill="#3C5488"/>
<ellipse cx="204.93" cy="461.33" rx="1.5" ry="1.2" fill="#F39B7F"/>
<polygon points="204.93,456.42 205.55,458.07 207.31,458.15 205.93,459.24 206.40,460.94 204.93,459.97 203.47,460.94 203.94,459.24 202.56,458.15 204.32,458.07" fill="#FF1E1E"/>
</g>
<g id="grid-ZIP">
<text x="353.30" y="339.90" font-size="11.5" text-anchor="middle" font-weight="bold" fill="#000">ZIP</text>
<text x="285.65" y="349.60" font-size="8.3" text-anchor="middle">ALMANAC</text>
<text x="330.45" y="349.60" font-size="8.3" text-anchor="middle">O'Neil</text>
<text x="376.70" y="349.60" font-size="8.3" text-anchor="middle">FORCINA</text>
<text x="422.35" y="349.60" font-size="8.3" text-anchor="middle">Mathews</text>
<text x="239.40" y="423.40" font-size="9.3" text-anchor="middle" transform="rotate(-90 239.40 423.40)">Pearson's r</text>
<text x="448.15" y="368.70" font-size="7.6" text-anchor="middle" transform="rotate(90 448.15 368.70)">ALMANAC</text>
<text x="260.70" y="364.15" font-size="8" text-anchor="end">0.75</text>
<text x="260.70" y="370.66" font-size="8" text-anchor="end">0.50</text>
<text x="260.70" y="377.18" font-size="8" text-anchor="end">0.25</text>
<text x="260.70" y="383.69" font-size="8" text-anchor="end">0.00</text>
<line x1="266.10" x2="305.20" y1="358.04" y2="358.04" stroke="#eaeaea" stroke-width="0.7"/><line x1="266.10" x2="305.20" y1="361.30" y2="361.30" stroke="#e1e1e1" stroke-width="0.8"/><line x1="266.10" x2="305.20" y1="364.56" y2="364.56" stroke="#eaeaea" stroke-width="0.7"/><line x1="266.10" x2="305.20" y1="367.81" y2="367.81" stroke="#e1e1e1" stroke-width="0.8"/><line x1="266.10" x2="305.20" y1="371.07" y2="371.07" stroke="#eaeaea" stroke-width="0.7"/><line x1="266.10" x2="305.20" y1="374.32" y2="374.32" stroke="#e1e1e1" stroke-width="0.8"/><line x1="266.10" x2="305.20" y1="377.58" y2="377.58" stroke="#eaeaea" stroke-width="0.7"/><line x1="266.10" x2="305.20" y1="380.84" y2="380.84" stroke="#e1e1e1" stroke-width="0.8"/><line x1="266.10" x2="305.20" y1="384.09" y2="384.09" stroke="#eaeaea" stroke-width="0.7"/><line x1="270.61" x2="270.61" y1="356.00" y2="384.60" stroke="#e1e1e1" stroke-width="0.8"/><line x1="278.13" x2="278.13" y1="356.00" y2="384.60" stroke="#e1e1e1" stroke-width="0.8"/><line x1="285.65" x2="285.65" y1="356.00" y2="384.60" stroke="#e1e1e1" stroke-width="0.8"/><line x1="293.17" x2="293.17" y1="356.00" y2="384.60" stroke="#e1e1e1" stroke-width="0.8"/><line x1="300.69" x2="300.69" y1="356.00" y2="384.60" stroke="#e1e1e1" stroke-width="0.8"/>
<line x1="311.80" x2="350.90" y1="358.04" y2="358.04" stroke="#eaeaea" stroke-width="0.7"/><line x1="311.80" x2="350.90" y1="361.30" y2="361.30" stroke="#e1e1e1" stroke-width="0.8"/><line x1="311.80" x2="350.90" y1="364.56" y2="364.56" stroke="#eaeaea" stroke-width="0.7"/><line x1="311.80" x2="350.90" y1="367.81" y2="367.81" stroke="#e1e1e1" stroke-width="0.8"/><line x1="311.80" x2="350.90" y1="371.07" y2="371.07" stroke="#eaeaea" stroke-width="0.7"/><line x1="311.80" x2="350.90" y1="374.32" y2="374.32" stroke="#e1e1e1" stroke-width="0.8"/><line x1="311.80" x2="350.90" y1="377.58" y2="377.58" stroke="#eaeaea" stroke-width="0.7"/><line x1="311.80" x2="350.90" y1="380.84" y2="380.84" stroke="#e1e1e1" stroke-width="0.8"/><line x1="311.80" x2="350.90" y1="384.09" y2="384.09" stroke="#eaeaea" stroke-width="0.7"/><line x1="316.31" x2="316.31" y1="356.00" y2="384.60" stroke="#e1e1e1" stroke-width="0.8"/><line x1="323.83" x2="323.83" y1="356.00" y2="384.60" stroke="#e1e1e1" stroke-width="0.8"/><line x1="331.35" x2="331.35" y1="356.00" y2="384.60" stroke="#e1e1e1" stroke-width="0.8"/><line x1="338.87" x2="338.87" y1="356.00" y2="384.60" stroke="#e1e1e1" stroke-width="0.8"/><line x1="346.39" x2="346.39" y1="356.00" y2="384.60" stroke="#e1e1e1" stroke-width="0.8"/>
<line x1="357.15" x2="396.25" y1="358.04" y2="358.04" stroke="#eaeaea" stroke-width="0.7"/><line x1="357.15" x2="396.25" y1="361.30" y2="361.30" stroke="#e1e1e1" stroke-width="0.8"/><line x1="357.15" x2="396.25" y1="364.56" y2="364.56" stroke="#eaeaea" stroke-width="0.7"/><line x1="357.15" x2="396.25" y1="367.81" y2="367.81" stroke="#e1e1e1" stroke-width="0.8"/><line x1="357.15" x2="396.25" y1="371.07" y2="371.07" stroke="#eaeaea" stroke-width="0.7"/><line x1="357.15" x2="396.25" y1="374.32" y2="374.32" stroke="#e1e1e1" stroke-width="0.8"/><line x1="357.15" x2="396.25" y1="377.58" y2="377.58" stroke="#eaeaea" stroke-width="0.7"/><line x1="357.15" x2="396.25" y1="380.84" y2="380.84" stroke="#e1e1e1" stroke-width="0.8"/><line x1="357.15" x2="396.25" y1="384.09" y2="384.09" stroke="#eaeaea" stroke-width="0.7"/><line x1="361.66" x2="361.66" y1="356.00" y2="384.60" stroke="#e1e1e1" stroke-width="0.8"/><line x1="369.18" x2="369.18" y1="356.00" y2="384.60" stroke="#e1e1e1" stroke-width="0.8"/><line x1="376.70" x2="376.70" y1="356.00" y2="384.60" stroke="#e1e1e1" stroke-width="0.8"/><line x1="384.22" x2="384.22" y1="356.00" y2="384.60" stroke="#e1e1e1" stroke-width="0.8"/><line x1="391.74" x2="391.74" y1="356.00" y2="384.60" stroke="#e1e1e1" stroke-width="0.8"/>
<line x1="402.80" x2="441.90" y1="358.04" y2="358.04" stroke="#eaeaea" stroke-width="0.7"/><line x1="402.80" x2="441.90" y1="361.30" y2="361.30" stroke="#e1e1e1" stroke-width="0.8"/><line x1="402.80" x2="441.90" y1="364.56" y2="364.56" stroke="#eaeaea" stroke-width="0.7"/><line x1="402.80" x2="441.90" y1="367.81" y2="367.81" stroke="#e1e1e1" stroke-width="0.8"/><line x1="402.80" x2="441.90" y1="371.07" y2="371.07" stroke="#eaeaea" stroke-width="0.7"/><line x1="402.80" x2="441.90" y1="374.32" y2="374.32" stroke="#e1e1e1" stroke-width="0.8"/><line x1="402.80" x2="441.90" y1="377.58" y2="377.58" stroke="#eaeaea" stroke-width="0.7"/><line x1="402.80" x2="441.90" y1="380.84" y2="380.84" stroke="#e1e1e1" stroke-width="0.8"/><line x1="402.80" x2="441.90" y1="384.09" y2="384.09" stroke="#eaeaea" stroke-width="0.7"/><line x1="407.31" x2="407.31" y1="356.00" y2="384.60" stroke="#e1e1e1" stroke-width="0.8"/><line x1="414.83" x2="414.83" y1="356.00" y2="384.60" stroke="#e1e1e1" stroke-width="0.8"/><line x1="422.35" x2="422.35" y1="356.00" y2="384.60" stroke="#e1e1e1" stroke-width="0.8"/><line x1="429.87" x2="429.87" y1="356.00" y2="384.60" stroke="#e1e1e1" stroke-width="0.8"/><line x1="437.39" x2="437.39" y1="356.00" y2="384.60" stroke="#e1e1e1" stroke-width="0.8"/>
<text x="448.15" y="404.10" font-size="7.6" text-anchor="middle" transform="rotate(90 448.15 404.10)">O'Neil</text>
<text x="260.70" y="398.75" font-size="8" text-anchor="end">0.75</text>
<text x="260.70" y="405.26" font-size="8" text-anchor="end">0.50</text>
<text x="260.70" y="411.78" font-size="8" text-anchor="end">0.25</text>
<text x="260.70" y="418.29" font-size="8" text-anchor="end">0.00</text>
<line x1="266.10" x2="305.20" y1="392.64" y2="392.64" stroke="#eaeaea" stroke-width="0.7"/><line x1="266.10" x2="305.20" y1="395.90" y2="395.90" stroke="#e1e1e1" stroke-width="0.8"/><line x1="266.10" x2="305.20" y1="399.16" y2="399.16" stroke="#eaeaea" stroke-width="0.7"/><line x1="266.10" x2="305.20" y1="402.41" y2="402.41" stroke="#e1e1e1" stroke-width="0.8"/><line x1="266.10" x2="305.20" y1="405.67" y2="405.67" stroke="#eaeaea" stroke-width="0.7"/><line x1="266.10" x2="305.20" y1="408.93" y2="408.93" stroke="#e1e1e1" stroke-width="0.8"/><line x1="266.10" x2="305.20" y1="412.18" y2="412.18" stroke="#eaeaea" stroke-width="0.7"/><line x1="266.10" x2="305.20" y1="415.44" y2="415.44" stroke="#e1e1e1" stroke-width="0.8"/><line x1="266.10" x2="305.20" y1="418.69" y2="418.69" stroke="#eaeaea" stroke-width="0.7"/><line x1="270.61" x2="270.61" y1="390.60" y2="419.20" stroke="#e1e1e1" stroke-width="0.8"/><line x1="278.13" x2="278.13" y1="390.60" y2="419.20" stroke="#e1e1e1" stroke-width="0.8"/><line x1="285.65" x2="285.65" y1="390.60" y2="419.20" stroke="#e1e1e1" stroke-width="0.8"/><line x1="293.17" x2="293.17" y1="390.60" y2="419.20" stroke="#e1e1e1" stroke-width="0.8"/><line x1="300.69" x2="300.69" y1="390.60" y2="419.20" stroke="#e1e1e1" stroke-width="0.8"/>
<line x1="311.80" x2="350.90" y1="392.64" y2="392.64" stroke="#eaeaea" stroke-width="0.7"/><line x1="311.80" x2="350.90" y1="395.90" y2="395.90" stroke="#e1e1e1" stroke-width="0.8"/><line x1="311.80" x2="350.90" y1="399.16" y2="399.16" stroke="#eaeaea" stroke-width="0.7"/><line x1="311.80" x2="350.90" y1="402.41" y2="402.41" stroke="#e1e1e1" stroke-width="0.8"/><line x1="311.80" x2="350.90" y1="405.67" y2="405.67" stroke="#eaeaea" stroke-width="0.7"/><line x1="311.80" x2="350.90" y1="408.93" y2="408.93" stroke="#e1e1e1" stroke-width="0.8"/><line x1="311.80" x2="350.90" y1="412.18" y2="412.18" stroke="#eaeaea" stroke-width="0.7"/><line x1="311.80" x2="350.90" y1="415.44" y2="415.44" stroke="#e1e1e1" stroke-width="0.8"/><line x1="311.80" x2="350.90" y1="418.69" y2="418.69" stroke="#eaeaea" stroke-width="0.7"/><line x1="316.31" x2="316.31" y1="390.60" y2="419.20" stroke="#e1e1e1" stroke-width="0.8"/><line x1="323.83" x2="323.83" y1="390.60" y2="419.20" stroke="#e1e1e1" stroke-width="0.8"/><line x1="331.35" x2="331.35" y1="390.60" y2="419.20" stroke="#e1e1e1" stroke-width="0.8"/><line x1="338.87" x2="338.87" y1="390.60" y2="419.20" stroke="#e1e1e1" stroke-width="0.8"/><line x1="346.39" x2="346.39" y1="390.60" y2="419.20" stroke="#e1e1e1" stroke-width="0.8"/>
<line x1="357.15" x2="396.25" y1="392.64" y2="392.64" stroke="#eaeaea" stroke-width="0.7"/><line x1="357.15" x2="396.25" y1="395.90" y2="395.90" stroke="#e1e1e1" stroke-width="0.8"/><line x1="357.15" x2="396.25" y1="399.16" y2="399.16" stroke="#eaeaea" stroke-width="0.7"/><line x1="357.15" x2="396.25" y1="402.41" y2="402.41" stroke="#e1e1e1" stroke-width="0.8"/><line x1="357.15" x2="396.25" y1="405.67" y2="405.67" stroke="#eaeaea" stroke-width="0.7"/><line x1="357.15" x2="396.25" y1="408.93" y2="408.93" stroke="#e1e1e1" stroke-width="0.8"/><line x1="357.15" x2="396.25" y1="412.18" y2="412.18" stroke="#eaeaea" stroke-width="0.7"/><line x1="357.15" x2="396.25" y1="415.44" y2="415.44" stroke="#e1e1e1" stroke-width="0.8"/><line x1="357.15" x2="396.25" y1="418.69" y2="418.69" stroke="#eaeaea" stroke-width="0.7"/><line x1="361.66" x2="361.66" y1="390.60" y2="419.20" stroke="#e1e1e1" stroke-width="0.8"/><line x1="369.18" x2="369.18" y1="390.60" y2="419.20" stroke="#e1e1e1" stroke-width="0.8"/><line x1="376.70" x2="376.70" y1="390.60" y2="419.20" stroke="#e1e1e1" stroke-width="0.8"/><line x1="384.22" x2="384.22" y1="390.60" y2="419.20" stroke="#e1e1e1" stroke-width="0.8"/><line x1="391.74" x2="391.74" y1="390.60" y2="419.20" stroke="#e1e1e1" stroke-width="0.8"/>
<line x1="402.80" x2="441.90" y1="392.64" y2="392.64" stroke="#eaeaea" stroke-width="0.7"/><line x1="402.80" x2="441.90" y1="395.90" y2="395.90" stroke="#e1e1e1" stroke-width="0.8"/><line x1="402.80" x2="441.90" y1="399.16" y2="399.16" stroke="#eaeaea" stroke-width="0.7"/><line x1="402.80" x2="441.90" y1="402.41" y2="402.41" stroke="#e1e1e1" stroke-width="0.8"/><line x1="402.80" x2="441.90" y1="405.67" y2="405.67" stroke="#eaeaea" stroke-width="0.7"/><line x1="402.80" x2="441.90" y1="408.93" y2="408.93" stroke="#e1e1e1" stroke-width="0.8"/><line x1="402.80" x2="441.90" y1="412.18" y2="412.18" stroke="#eaeaea" stroke-width="0.7"/><line x1="402.80" x2="441.90" y1="415.44" y2="415.44" stroke="#e1e1e1" stroke-width="0.8"/><line x1="402.80" x2="441.90" y1="418.69" y2="418.69" stroke="#eaeaea" stroke-width="0.7"/><line x1="407.31" x2="407.31" y1="390.60" y2="419.20" stroke="#e1e1e1" stroke-width="0.8"/><line x1="414.83" x2="414.83" y1="390.60" y2="419.20" stroke="#e1e1e1" stroke-width="0.8"/><line x1="422.35" x2="422.35" y1="390.60" y2="419.20" stroke="#e1e1e1" stroke-width="0.8"/><line x1="429.87" x2="429.87" y1="390.60" y2="419.20" stroke="#e1e1e1" stroke-width="0.8"/><line x1="437.39" x2="437.39" y1="390.60" y2="419.20" stroke="#e1e1e1" stroke-width="0.8"/>
<text x="448.15" y="439.50" font-size="7.6" text-anchor="middle" transform="rotate(90 448.15 439.50)">FORCINA</text>
<text x="260.70" y="433.35" font-size="8" text-anchor="end">0.75</text>
<text x="260.70" y="439.86" font-size="8" text-anchor="end">0.50</text>
<text x="260.70" y="446.38" font-size="8" text-anchor="end">0.25</text>
<text x="260.70" y="452.89" font-size="8" text-anchor="end">0.00</text>
<line x1="266.10" x2="305.20" y1="427.24" y2="427.24" stroke="#eaeaea" stroke-width="0.7"/><line x1="266.10" x2="305.20" y1="430.50" y2="430.50" stroke="#e1e1e1" stroke-width="0.8"/><line x1="266.10" x2="305.20" y1="433.76" y2="433.76" stroke="#eaeaea" stroke-width="0.7"/><line x1="266.10" x2="305.20" y1="437.01" y2="437.01" stroke="#e1e1e1" stroke-width="0.8"/><line x1="266.10" x2="305.20" y1="440.27" y2="440.27" stroke="#eaeaea" stroke-width="0.7"/><line x1="266.10" x2="305.20" y1="443.52" y2="443.52" stroke="#e1e1e1" stroke-width="0.8"/><line x1="266.10" x2="305.20" y1="446.78" y2="446.78" stroke="#eaeaea" stroke-width="0.7"/><line x1="266.10" x2="305.20" y1="450.04" y2="450.04" stroke="#e1e1e1" stroke-width="0.8"/><line x1="266.10" x2="305.20" y1="453.29" y2="453.29" stroke="#eaeaea" stroke-width="0.7"/><line x1="270.61" x2="270.61" y1="425.20" y2="453.80" stroke="#e1e1e1" stroke-width="0.8"/><line x1="278.13" x2="278.13" y1="425.20" y2="453.80" stroke="#e1e1e1" stroke-width="0.8"/><line x1="285.65" x2="285.65" y1="425.20" y2="453.80" stroke="#e1e1e1" stroke-width="0.8"/><line x1="293.17" x2="293.17" y1="425.20" y2="453.80" stroke="#e1e1e1" stroke-width="0.8"/><line x1="300.69" x2="300.69" y1="425.20" y2="453.80" stroke="#e1e1e1" stroke-width="0.8"/>
<line x1="311.80" x2="350.90" y1="427.24" y2="427.24" stroke="#eaeaea" stroke-width="0.7"/><line x1="311.80" x2="350.90" y1="430.50" y2="430.50" stroke="#e1e1e1" stroke-width="0.8"/><line x1="311.80" x2="350.90" y1="433.76" y2="433.76" stroke="#eaeaea" stroke-width="0.7"/><line x1="311.80" x2="350.90" y1="437.01" y2="437.01" stroke="#e1e1e1" stroke-width="0.8"/><line x1="311.80" x2="350.90" y1="440.27" y2="440.27" stroke="#eaeaea" stroke-width="0.7"/><line x1="311.80" x2="350.90" y1="443.52" y2="443.52" stroke="#e1e1e1" stroke-width="0.8"/><line x1="311.80" x2="350.90" y1="446.78" y2="446.78" stroke="#eaeaea" stroke-width="0.7"/><line x1="311.80" x2="350.90" y1="450.04" y2="450.04" stroke="#e1e1e1" stroke-width="0.8"/><line x1="311.80" x2="350.90" y1="453.29" y2="453.29" stroke="#eaeaea" stroke-width="0.7"/><line x1="316.31" x2="316.31" y1="425.20" y2="453.80" stroke="#e1e1e1" stroke-width="0.8"/><line x1="323.83" x2="323.83" y1="425.20" y2="453.80" stroke="#e1e1e1" stroke-width="0.8"/><line x1="331.35" x2="331.35" y1="425.20" y2="453.80" stroke="#e1e1e1" stroke-width="0.8"/><line x1="338.87" x2="338.87" y1="425.20" y2="453.80" stroke="#e1e1e1" stroke-width="0.8"/><line x1="346.39" x2="346.39" y1="425.20" y2="453.80" stroke="#e1e1e1" stroke-width="0.8"/>
<line x1="357.15" x2="396.25" y1="427.24" y2="427.24" stroke="#eaeaea" stroke-width="0.7"/><line x1="357.15" x2="396.25" y1="430.50" y2="430.50" stroke="#e1e1e1" stroke-width="0.8"/><line x1="357.15" x2="396.25" y1="433.76" y2="433.76" stroke="#eaeaea" stroke-width="0.7"/><line x1="357.15" x2="396.25" y1="437.01" y2="437.01" stroke="#e1e1e1" stroke-width="0.8"/><line x1="357.15" x2="396.25" y1="440.27" y2="440.27" stroke="#eaeaea" stroke-width="0.7"/><line x1="357.15" x2="396.25" y1="443.52" y2="443.52" stroke="#e1e1e1" stroke-width="0.8"/><line x1="357.15" x2="396.25" y1="446.78" y2="446.78" stroke="#eaeaea" stroke-width="0.7"/><line x1="357.15" x2="396.25" y1="450.04" y2="450.04" stroke="#e1e1e1" stroke-width="0.8"/><line x1="357.15" x2="396.25" y1="453.29" y2="453.29" stroke="#eaeaea" stroke-width="0.7"/><line x1="361.66" x2="361.66" y1="425.20" y2="453.80" stroke="#e1e1e1" stroke-width="0.8"/><line x1="369.18" x2="369.18" y1="425.20" y2="453.80" stroke="#e1e1e1" stroke-width="0.8"/><line x1="376.70" x2="376.70" y1="425.20" y2="453.80" stroke="#e1e1e1" stroke-width="0.8"/><line x1="384.22" x2="384.22" y1="425.20" y2="453.80" stroke="#e1e1e1" stroke-width="0.8"/><line x1="391.74" x2="391.74" y1="425.20" y2="453.80" stroke="#e1e1e1" stroke-width="0.8"/>
<line x1="402.80" x2="441.90" y1="427.24" y2="427.24" stroke="#eaeaea" stroke-width="0.7"/><line x1="402.80" x2="441.90" y1="430.50" y2="430.50" stroke="#e1e1e1" stroke-width="0.8"/><line x1="402.80" x2="441.90" y1="433.76" y2="433.76" stroke="#eaeaea" stroke-width="0.7"/><line x1="402.80" x2="441.90" y1="437.01" y2="437.01" stroke="#e1e1e1" stroke-width="0.8"/><line x1="402.80" x2="441.90" y1="440.27" y2="440.27" stroke="#eaeaea" stroke-width="0.7"/><line x1="402.80" x2="441.90" y1="443.52" y2="443.52" stroke="#e1e1e1" stroke-width="0.8"/><line x1="402.80" x2="441.90" y1="446.78" y2="446.78" stroke="#eaeaea" stroke-width="0.7"/><line x1="402.80" x2="441.90" y1="450.04" y2="450.04" stroke="#e1e1e1" stroke-width="0.8"/><line x1="402.80" x2="441.90" y1="453.29" y2="453.29" stroke="#eaeaea" stroke-width="0.7"/><line x1="407.31" x2="407.31" y1="425.20" y2="453.80" stroke="#e1e1e1" stroke-width="0.8"/><line x1="414.83" x2="414.83" y1="425.20" y2="453.80" stroke="#e1e1e1" stroke-width="0.8"/><line x1="422.35" x2="422.35" y1="425.20" y2="453.80" stroke="#e1e1e1" stroke-width="0.8"/><line x1="429.87" x2="429.87" y1="425.20" y2="453.80" stroke="#e1e1e1" stroke-width="0.8"/><line x1="437.39" x2="437.39" y1="425.20" y2="453.80" stroke="#e1e1e1" stroke-width="0.8"/>
<text x="448.15" y="474.90" font-size="7.6" text-anchor="middle" transform="rotate(90 448.15 474.90)">Mathews</text>
<text x="260.70" y="467.95" font-size="8" text-anchor="end">0.75</text>
<text x="260.70" y="474.46" font-size="8" text-anchor="end">0.50</text>
<text x="260.70" y="480.98" font-size="8" text-anchor="end">0.25</text>
<text x="260.70" y="487.49" font-size="8" text-anchor="end">0.00</text>
<line x1="266.10" x2="305.20" y1="461.84" y2="461.84" stroke="#eaeaea" stroke-width="0.7"/><line x1="266.10" x2="305.20" y1="465.10" y2="465.10" stroke="#e1e1e1" stroke-width="0.8"/><line x1="266.10" x2="305.20" y1="468.36" y2="468.36" stroke="#eaeaea" stroke-width="0.7"/><line x1="266.10" x2="305.20" y1="471.61" y2="471.61" stroke="#e1e1e1" stroke-width="0.8"/><line x1="266.10" x2="305.20" y1="474.87" y2="474.87" stroke="#eaeaea" stroke-width="0.7"/><line x1="266.10" x2="305.20" y1="478.12" y2="478.12" stroke="#e1e1e1" stroke-width="0.8"/><line x1="266.10" x2="305.20" y1="481.38" y2="481.38" stroke="#eaeaea" stroke-width="0.7"/><line x1="266.10" x2="305.20" y1="484.64" y2="484.64" stroke="#e1e1e1" stroke-width="0.8"/><line x1="266.10" x2="305.20" y1="487.89" y2="487.89" stroke="#eaeaea" stroke-width="0.7"/><line x1="270.61" x2="270.61" y1="459.80" y2="488.40" stroke="#e1e1e1" stroke-width="0.8"/><line x1="278.13" x2="278.13" y1="459.80" y2="488.40" stroke="#e1e1e1" stroke-width="0.8"/><line x1="285.65" x2="285.65" y1="459.80" y2="488.40" stroke="#e1e1e1" stroke-width="0.8"/><line x1="293.17" x2="293.17" y1="459.80" y2="488.40" stroke="#e1e1e1" stroke-width="0.8"/><line x1="300.69" x2="300.69" y1="459.80" y2="488.40" stroke="#e1e1e1" stroke-width="0.8"/>
<line x1="311.80" x2="350.90" y1="461.84" y2="461.84" stroke="#eaeaea" stroke-width="0.7"/><line x1="311.80" x2="350.90" y1="465.10" y2="465.10" stroke="#e1e1e1" stroke-width="0.8"/><line x1="311.80" x2="350.90" y1="468.36" y2="468.36" stroke="#eaeaea" stroke-width="0.7"/><line x1="311.80" x2="350.90" y1="471.61" y2="471.61" stroke="#e1e1e1" stroke-width="0.8"/><line x1="311.80" x2="350.90" y1="474.87" y2="474.87" stroke="#eaeaea" stroke-width="0.7"/><line x1="311.80" x2="350.90" y1="478.12" y2="478.12" stroke="#e1e1e1" stroke-width="0.8"/><line x1="311.80" x2="350.90" y1="481.38" y2="481.38" stroke="#eaeaea" stroke-width="0.7"/><line x1="311.80" x2="350.90" y1="484.64" y2="484.64" stroke="#e1e1e1" stroke-width="0.8"/><line x1="311.80" x2="350.90" y1="487.89" y2="487.89" stroke="#eaeaea" stroke-width="0.7"/><line x1="316.31" x2="316.31" y1="459.80" y2="488.40" stroke="#e1e1e1" stroke-width="0.8"/><line x1="323.83" x2="323.83" y1="459.80" y2="488.40" stroke="#e1e1e1" stroke-width="0.8"/><line x1="331.35" x2="331.35" y1="459.80" y2="488.40" stroke="#e1e1e1" stroke-width="0.8"/><line x1="338.87" x2="338.87" y1="459.80" y2="488.40" stroke="#e1e1e1" stroke-width="0.8"/><line x1="346.39" x2="346.39" y1="459.80" y2="488.40" stroke="#e1e1e1" stroke-width="0.8"/>
<line x1="357.15" x2="396.25" y1="461.84" y2="461.84" stroke="#eaeaea" stroke-width="0.7"/><line x1="357.15" x2="396.25" y1="465.10" y2="465.10" stroke="#e1e1e1" stroke-width="0.8"/><line x1="357.15" x2="396.25" y1="468.36" y2="468.36" stroke="#eaeaea" stroke-width="0.7"/><line x1="357.15" x2="396.25" y1="471.61" y2="471.61" stroke="#e1e1e1" stroke-width="0.8"/><line x1="357.15" x2="396.25" y1="474.87" y2="474.87" stroke="#eaeaea" stroke-width="0.7"/><line x1="357.15" x2="396.25" y1="478.12" y2="478.12" stroke="#e1e1e1" stroke-width="0.8"/><line x1="357.15" x2="396.25" y1="481.38" y2="481.38" stroke="#eaeaea" stroke-width="0.7"/><line x1="357.15" x2="396.25" y1="484.64" y2="484.64" stroke="#e1e1e1" stroke-width="0.8"/><line x1="357.15" x2="396.25" y1="487.89" y2="487.89" stroke="#eaeaea" stroke-width="0.7"/><line x1="361.66" x2="361.66" y1="459.80" y2="488.40" stroke="#e1e1e1" stroke-width="0.8"/><line x1="369.18" x2="369.18" y1="459.80" y2="488.40" stroke="#e1e1e1" stroke-width="0.8"/><line x1="376.70" x2="376.70" y1="459.80" y2="488.40" stroke="#e1e1e1" stroke-width="0.8"/><line x1="384.22" x2="384.22" y1="459.80" y2="488.40" stroke="#e1e1e1" stroke-width="0.8"/><line x1="391.74" x2="391.74" y1="459.80" y2="488.40" stroke="#e1e1e1" stroke-width="0.8"/>
<line x1="402.80" x2="441.90" y1="461.84" y2="461.84" stroke="#eaeaea" stroke-width="0.7"/><line x1="402.80" x2="441.90" y1="465.10" y2="465.10" stroke="#e1e1e1" stroke-width="0.8"/><line x1="402.80" x2="441.90" y1="468.36" y2="468.36" stroke="#eaeaea" stroke-width="0.7"/><line x1="402.80" x2="441.90" y1="471.61" y2="471.61" stroke="#e1e1e1" stroke-width="0.8"/><line x1="402.80" x2="441.90" y1="474.87" y2="474.87" stroke="#eaeaea" stroke-width="0.7"/><line x1="402.80" x2="441.90" y1="478.12" y2="478.12" stroke="#e1e1e1" stroke-width="0.8"/><line x1="402.80" x2="441.90" y1="481.38" y2="481.38" stroke="#eaeaea" stroke-width="0.7"/><line x1="402.80" x2="441.90" y1="484.64" y2="484.64" stroke="#e1e1e1" stroke-width="0.8"/><line x1="402.80" x2="441.90" y1="487.89" y2="487.89" stroke="#eaeaea" stroke-width="0.7"/><line x1="407.31" x2="407.31" y1="459.80" y2="488.40" stroke="#e1e1e1" stroke-width="0.8"/><line x1="414.83" x2="414.83" y1="459.80" y2="488.40" stroke="#e1e1e1" stroke-width="0.8"/><line x1="422.35" x2="422.35" y1="459.80" y2="488.40" stroke="#e1e1e1" stroke-width="0.8"/><line x1="429.87" x2="429.87" y1="459.80" y2="488.40" stroke="#e1e1e1" stroke-width="0.8"/><line x1="437.39" x2="437.39" y1="459.80" y2="488.40" stroke="#e1e1e1" stroke-width="0.8"/>
<text x="267.76" y="493.00" font-size="8" text-anchor="start" transform="rotate(90 267.76 493.00)">M13</text>
<text x="275.28" y="493.00" font-size="8" text-anchor="start" transform="rotate(90 275.28 493.00)">M14</text>
<text x="282.80" y="493.00" font-size="8" text-anchor="start" transform="rotate(90 282.80 493.00)">M15</text>
<text x="290.32" y="493.00" font-size="8" text-anchor="start" transform="rotate(90 290.32 493.00)">M16</text>
<text x="297.84" y="493.00" font-size="8" text-anchor="start" transform="rotate(90 297.84 493.00)">M20</text>
<text x="313.46" y="493.00" font-size="8" text-anchor="start" transform="rotate(90 313.46 493.00)">M13</text>
<text x="320.98" y="493.00" font-size="8" text-anchor="start" transform="rotate(90 320.98 493.00)">M14</text>
<text x="328.50" y="493.00" font-size="8" text-anchor="start" transform="rotate(90 328.50 493.00)">M15</text>
<text x="336.02" y="493.00" font-size="8" text-anchor="start" transform="rotate(90 336.02 493.00)">M16</text>
<text x="343.54" y="493.00" font-size="8" text-anchor="start" transform="rotate(90 343.54 493.00)">M20</text>
<text x="358.81" y="493.00" font-size="8" text-anchor="start" transform="rotate(90 358.81 493.00)">M13</text>
<text x="366.33" y="493.00" font-size="8" text-anchor="start" transform="rotate(90 366.33 493.00)">M14</text>
<text x="373.85" y="493.00" font-size="8" text-anchor="start" transform="rotate(90 373.85 493.00)">M15</text>
<text x="381.37" y="493.00" font-size="8" text-anchor="start" transform="rotate(90 381.37 493.00)">M16</text>
<text x="388.89" y="493.00" font-size="8" text-anchor="start" transform="rotate(90 388.89 493.00)">M20</text>
<text x="404.46" y="493.00" font-size="8" text-anchor="start" transform="rotate(90 404.46 493.00)">M13</text>
<text x="411.98" y="493.00" font-size="8" text-anchor="start" transform="rotate(90 411.98 493.00)">M14</text>
<text x="419.50" y="493.00" font-size="8" text-anchor="start" transform="rotate(90 419.50 493.00)">M15</text>
<text x="427.02" y="493.00" font-size="8" text-anchor="start" transform="rotate(90 427.02 493.00)">M16</text>
<text x="434.54" y="493.00" font-size="8" text-anchor="start" transform="rotate(90 434.54 493.00)">M20</text>
<rect x="269.16" y="362.10" width="2.9" height="1.9" rx="0.7" fill="#E64B35"/>
<rect x="276.68" y="362.10" width="2.9" height="1.9" rx="0.7" fill="#4DBBD5"/>
<rect x="284.20" y="360.09" width="2.9" height="1.9" rx="0.7" fill="#00A087"/>
<rect x="291.72" y="359.49" width="2.9" height="1.9" rx="0.7" fill="#3C5488"/>
<rect x="299.24" y="359.29" width="2.9" height="1.9" rx="0.7" fill="#F39B7F"/>
<polygon points="300.69,355.34 301.31,356.99 303.07,357.06 301.69,358.16 302.16,359.86 300.69,358.89 299.22,359.86 299.69,358.16 298.31,357.06 300.07,356.99" fill="#FF1E1E"/>
<rect x="314.86" y="378.75" width="2.9" height="1.9" rx="0.7" fill="#E64B35"/>
<rect x="322.38" y="378.55" width="2.9" height="1.9" rx="0.7" fill="#4DBBD5"/>
<rect x="329.90" y="371.93" width="2.9" height="1.9" rx="0.7" fill="#00A087"/>
<rect x="337.42" y="372.53" width="2.9" height="1.9" rx="0.7" fill="#3C5488"/>
<rect x="344.94" y="370.32" width="2.9" height="1.9" rx="0.7" fill="#F39B7F"/>
<polygon points="346.39,366.37 347.01,368.02 348.77,368.09 347.39,369.19 347.86,370.89 346.39,369.92 344.92,370.89 345.39,369.19 344.01,368.09 345.77,368.02" fill="#FF1E1E"/>
<rect x="269.16" y="412.44" width="2.9" height="1.9" rx="0.7" fill="#E64B35"/>
<rect x="276.68" y="413.04" width="2.9" height="1.9" rx="0.7" fill="#4DBBD5"/>
<rect x="284.20" y="410.44" width="2.9" height="1.9" rx="0.7" fill="#00A087"/>
<rect x="291.72" y="407.63" width="2.9" height="1.9" rx="0.7" fill="#3C5488"/>
<rect x="299.24" y="408.03" width="2.9" height="1.9" rx="0.7" fill="#F39B7F"/>
<polygon points="293.17,403.27 293.79,404.92 295.55,405.00 294.17,406.09 294.64,407.79 293.17,406.82 291.70,407.79 292.17,406.09 290.79,405.00 292.55,404.92" fill="#FF1E1E"/>
<rect x="314.86" y="395.79" width="2.9" height="1.9" rx="0.7" fill="#E64B35"/>
<rect x="322.38" y="395.79" width="2.9" height="1.9" rx="0.7" fill="#4DBBD5"/>
<rect x="329.90" y="395.79" width="2.9" height="1.9" rx="0.7" fill="#00A087"/>
<rect x="337.42" y="395.59" width="2.9" height="1.9" rx="0.7" fill="#3C5488"/>
<rect x="344.94" y="395.59" width="2.9" height="1.9" rx="0.7" fill="#F39B7F"/>
<polygon points="338.87,391.04 339.49,392.69 341.25,392.76 339.87,393.86 340.34,395.56 338.87,394.59 337.40,395.56 337.87,393.86 336.49,392.76 338.25,392.69" fill="#FF1E1E"/>
<ellipse cx="270.61" cy="450.50" rx="1.5" ry="1.2" fill="#E64B35"/>
<ellipse cx="278.13" cy="450.50" rx="1.5" ry="1.2" fill="#4DBBD5"/>
<ellipse cx="285.65" cy="438.26" rx="1.5" ry="1.2" fill="#00A087"/>
<ellipse cx="293.17" cy="438.26" rx="1.5" ry="1.2" fill="#3C5488"/>
<ellipse cx="300.69" cy="439.26" rx="1.5" ry="1.2" fill="#F39B7F"/>
<polygon points="285.65,432.95 286.27,434.60 288.03,434.68 286.65,435.78 287.12,437.48 285.65,436.50 284.18,437.48 284.65,435.78 283.27,434.68 285.03,434.60" fill="#FF1E1E"/>
<ellipse cx="316.31" cy="449.89" rx="1.5" ry="1.2" fill="#E64B35"/>
<ellipse cx="323.83" cy="449.69" rx="1.5" ry="1.2" fill="#4DBBD5"/>
<ellipse cx="331.35" cy="438.66" rx="1.5" ry="1.2" fill="#00A087"/>
<ellipse cx="338.87" cy="441.27" rx="1.5" ry="1.2" fill="#3C5488"/>
<ellipse cx="346.39" cy="440.67" rx="1.5" ry="1.2" fill="#F39B7F"/>
<polygon points="331.35,433.35 331.97,435.00 333.73,435.08 332.35,436.18 332.82,437.88 331.35,436.90 329.88,437.88 330.35,436.18 328.97,435.08 330.73,435.00" fill="#FF1E1E"/>
<ellipse cx="270.61" cy="483.39" rx="1.5" ry="1.2" fill="#E64B35"/>
<ellipse cx="278.13" cy="483.59" rx="1.5" ry="1.2" fill="#4DBBD5"/>
<ellipse cx="285.65" cy="468.55" rx="1.5" ry="1.2" fill="#00A087"/>
<ellipse cx="293.17" cy="466.54" rx="1.5" ry="1.2" fill="#3C5488"/>
<ellipse cx="300.69" cy="467.14" rx="1.5" ry="1.2" fill="#F39B7F"/>
<polygon points="293.17,461.43 293.79,463.08 295.55,463.16 294.17,464.26 294.64,465.95 293.17,464.98 291.70,465.95 292.17,464.26 290.79,463.16 292.55,463.08" fill="#FF1E1E"/>
<ellipse cx="316.31" cy="482.18" rx="1.5" ry="1.2" fill="#E64B35"/>
<ellipse cx="323.83" cy="481.58" rx="1.5" ry="1.2" fill="#4DBBD5"/>
<ellipse cx="331.35" cy="468.95" rx="1.5" ry="1.2" fill="#00A087"/>
<ellipse cx="338.87" cy="468.14" rx="1.5" ry="1.2" fill="#3C5488"/>
<ellipse cx="346.39" cy="468.95" rx="1.5" ry="1.2" fill="#F39B7F"/>
<polygon points="338.87,462.84 339.49,464.49 341.25,464.56 339.87,465.66 340.34,467.36 338.87,466.39 337.40,467.36 337.87,465.66 336.49,464.56 338.25,464.49" fill="#FF1E1E"/>
<rect x="360.21" y="379.75" width="2.9" height="1.9" rx="0.7" fill="#E64B35"/>
<rect x="367.73" y="378.15" width="2.9" height="1.9" rx="0.7" fill="#4DBBD5"/>
<rect x="375.25" y="374.13" width="2.9" height="1.9" rx="0.7" fill="#00A087"/>
<rect x="382.77" y="374.13" width="2.9" height="1.9" rx="0.7" fill="#3C5488"/>
<rect x="390.29" y="374.74" width="2.9" height="1.9" rx="0.7" fill="#F39B7F"/>
<polygon points="376.70,369.58 377.32,371.23 379.08,371.30 377.70,372.40 378.17,374.10 376.70,373.13 375.23,374.10 375.70,372.40 374.32,371.30 376.08,371.23" fill="#FF1E1E"/>
<polygon points="384.22,369.58 384.84,371.23 386.60,371.30 385.22,372.40 385.69,374.10 384.22,373.13 382.75,374.10 383.22,372.40 381.84,371.30 383.60,371.23" fill="#FF1E1E"/>
<rect x="405.86" y="379.75" width="2.9" height="1.9" rx="0.7" fill="#E64B35"/>
<rect x="413.38" y="378.55" width="2.9" height="1.9" rx="0.7" fill="#4DBBD5"/>
<rect x="420.90" y="373.93" width="2.9" height="1.9" rx="0.7" fill="#00A087"/>
<rect x="428.42" y="372.33" width="2.9" height="1.9" rx="0.7" fill="#3C5488"/>
<rect x="435.94" y="373.93" width="2.9" height="1.9" rx="0.7" fill="#F39B7F"/>
<polygon points="429.87,367.77 430.49,369.42 432.25,369.50 430.87,370.59 431.34,372.29 429.87,371.32 428.40,372.29 428.87,370.59 427.49,369.50 429.25,369.42" fill="#FF1E1E"/>
<rect x="360.21" y="414.65" width="2.9" height="1.9" rx="0.7" fill="#E64B35"/>
<rect x="367.73" y="414.85" width="2.9" height="1.9" rx="0.7" fill="#4DBBD5"/>
<rect x="375.25" y="412.64" width="2.9" height="1.9" rx="0.7" fill="#00A087"/>
<rect x="382.77" y="412.64" width="2.9" height="1.9" rx="0.7" fill="#3C5488"/>
<rect x="390.29" y="411.04" width="2.9" height="1.9" rx="0.7" fill="#F39B7F"/>
<polygon points="391.74,406.88 392.36,408.53 394.12,408.61 392.74,409.70 393.21,411.40 391.74,410.43 390.27,411.40 390.74,409.70 389.36,408.61 391.12,408.53" fill="#FF1E1E"/>
<rect x="405.86" y="412.84" width="2.9" height="1.9" rx="0.7" fill="#E64B35"/>
<rect x="413.38" y="413.64" width="2.9" height="1.9" rx="0.7" fill="#4DBBD5"/>
<rect x="420.90" y="412.04" width="2.9" height="1.9" rx="0.7" fill="#00A087"/>
<rect x="428.42" y="409.83" width="2.9" height="1.9" rx="0.7" fill="#3C5488"/>
<rect x="435.94" y="410.64" width="2.9" height="1.9" rx="0.7" fill="#F39B7F"/>
<polygon points="429.87,405.48 430.49,407.13 432.25,407.20 430.87,408.30 431.34,410.00 429.87,409.03 428.40,410.00 428.87,408.30 427.49,407.20 429.25,407.13" fill="#FF1E1E"/>
<ellipse cx="361.66" cy="451.30" rx="1.5" ry="1.2" fill="#E64B35"/>
<ellipse cx="369.18" cy="444.68" rx="1.5" ry="1.2" fill="#4DBBD5"/>
<ellipse cx="376.70" cy="434.65" rx="1.5" ry="1.2" fill="#00A087"/>
<ellipse cx="384.22" cy="434.65" rx="1.5" ry="1.2" fill="#3C5488"/>
<ellipse cx="391.74" cy="434.45" rx="1.5" ry="1.2" fill="#F39B7F"/>
<polygon points="391.74,429.34 392.36,430.99 394.12,431.07 392.74,432.17 393.21,433.87 391.74,432.89 390.27,433.87 390.74,432.17 389.36,431.07 391.12,430.99" fill="#FF1E1E"/>
<ellipse cx="407.31" cy="449.69" rx="1.5" ry="1.2" fill="#E64B35"/>
<ellipse cx="414.83" cy="447.89" rx="1.5" ry="1.2" fill="#4DBBD5"/>
<ellipse cx="422.35" cy="438.66" rx="1.5" ry="1.2" fill="#00A087"/>
<ellipse cx="429.87" cy="438.46" rx="1.5" ry="1.2" fill="#3C5488"/>
<ellipse cx="437.39" cy="443.48" rx="1.5" ry="1.2" fill="#F39B7F"/>
<polygon points="429.87,433.15 430.49,434.80 432.25,434.88 430.87,435.98 431.34,437.68 429.87,436.70 428.40,437.68 428.87,435.98 427.49,434.88 429.25,434.80" fill="#FF1E1E"/>
<ellipse cx="361.66" cy="484.99" rx="1.5" ry="1.2" fill="#E64B35"/>
<ellipse cx="369.18" cy="479.58" rx="1.5" ry="1.2" fill="#4DBBD5"/>
<ellipse cx="376.70" cy="473.76" rx="1.5" ry="1.2" fill="#00A087"/>
<ellipse cx="384.22" cy="473.76" rx="1.5" ry="1.2" fill="#3C5488"/>
<ellipse cx="391.74" cy="472.76" rx="1.5" ry="1.2" fill="#F39B7F"/>
<polygon points="391.74,467.65 392.36,469.30 394.12,469.38 392.74,470.47 393.21,472.17 391.74,471.20 390.27,472.17 390.74,470.47 389.36,469.38 391.12,469.30" fill="#FF1E1E"/>
<ellipse cx="407.31" cy="479.98" rx="1.5" ry="1.2" fill="#E64B35"/>
<ellipse cx="414.83" cy="474.36" rx="1.5" ry="1.2" fill="#4DBBD5"/>
<ellipse cx="422.35" cy="463.53" rx="1.5" ry="1.2" fill="#00A087"/>
<ellipse cx="429.87" cy="461.93" rx="1.5" ry="1.2" fill="#3C5488"/>
<ellipse cx="437.39" cy="461.13" rx="1.5" ry="1.2" fill="#F39B7F"/>
<polygon points="437.39,456.22 438.01,457.87 439.77,457.95 438.39,459.04 438.86,460.74 437.39,459.77 435.92,460.74 436.39,459.04 435.01,457.95 436.77,457.87" fill="#FF1E1E"/>
</g>
<g id="grid-S">
<text x="584.10" y="339.90" font-size="11.5" text-anchor="middle" font-weight="bold" fill="#000">S</text>
<text x="516.60" y="349.60" font-size="8.3" text-anchor="middle">ALMANAC</text>
<text x="561.30" y="349.60" font-size="8.3" text-anchor="middle">O'Neil</text>
<text x="607.60" y="349.60" font-size="8.3" text-anchor="middle">FORCINA</text>
<text x="653.30" y="349.60" font-size="8.3" text-anchor="middle">Mathews</text>
<text x="470.00" y="423.40" font-size="9.3" text-anchor="middle" transform="rotate(-90 470.00 423.40)">Pearson's r</text>
<text x="678.75" y="368.70" font-size="7.6" text-anchor="middle" transform="rotate(90 678.75 368.70)">ALMANAC</text>
<text x="491.70" y="364.50" font-size="8" text-anchor="end">0.75</text>
<text x="491.70" y="370.73" font-size="8" text-anchor="end">0.50</text>
<text x="491.70" y="376.95" font-size="8" text-anchor="end">0.25</text>
<text x="491.70" y="383.18" font-size="8" text-anchor="end">0.00</text>
<line x1="497.10" x2="536.10" y1="358.54" y2="358.54" stroke="#eaeaea" stroke-width="0.7"/><line x1="497.10" x2="536.10" y1="361.65" y2="361.65" stroke="#e1e1e1" stroke-width="0.8"/><line x1="497.10" x2="536.10" y1="364.76" y2="364.76" stroke="#eaeaea" stroke-width="0.7"/><line x1="497.10" x2="536.10" y1="367.88" y2="367.88" stroke="#e1e1e1" stroke-width="0.8"/><line x1="497.10" x2="536.10" y1="370.99" y2="370.99" stroke="#eaeaea" stroke-width="0.7"/><line x1="497.10" x2="536.10" y1="374.10" y2="374.10" stroke="#e1e1e1" stroke-width="0.8"/><line x1="497.10" x2="536.10" y1="377.21" y2="377.21" stroke="#eaeaea" stroke-width="0.7"/><line x1="497.10" x2="536.10" y1="380.32" y2="380.32" stroke="#e1e1e1" stroke-width="0.8"/><line x1="497.10" x2="536.10" y1="383.44" y2="383.44" stroke="#eaeaea" stroke-width="0.7"/><line x1="501.60" x2="501.60" y1="356.00" y2="384.60" stroke="#e1e1e1" stroke-width="0.8"/><line x1="509.10" x2="509.10" y1="356.00" y2="384.60" stroke="#e1e1e1" stroke-width="0.8"/><line x1="516.60" x2="516.60" y1="356.00" y2="384.60" stroke="#e1e1e1" stroke-width="0.8"/><line x1="524.10" x2="524.10" y1="356.00" y2="384.60" stroke="#e1e1e1" stroke-width="0.8"/><line x1="531.60" x2="531.60" y1="356.00" y2="384.60" stroke="#e1e1e1" stroke-width="0.8"/>
<line x1="542.70" x2="581.70" y1="358.54" y2="358.54" stroke="#eaeaea" stroke-width="0.7"/><line x1="542.70" x2="581.70" y1="361.65" y2="361.65" stroke="#e1e1e1" stroke-width="0.8"/><line x1="542.70" x2="581.70" y1="364.76" y2="364.76" stroke="#eaeaea" stroke-width="0.7"/><line x1="542.70" x2="581.70" y1="367.88" y2="367.88" stroke="#e1e1e1" stroke-width="0.8"/><line x1="542.70" x2="581.70" y1="370.99" y2="370.99" stroke="#eaeaea" stroke-width="0.7"/><line x1="542.70" x2="581.70" y1="374.10" y2="374.10" stroke="#e1e1e1" stroke-width="0.8"/><line x1="542.70" x2="581.70" y1="377.21" y2="377.21" stroke="#eaeaea" stroke-width="0.7"/><line x1="542.70" x2="581.70" y1="380.32" y2="380.32" stroke="#e1e1e1" stroke-width="0.8"/><line x1="542.70" x2="581.70" y1="383.44" y2="383.44" stroke="#eaeaea" stroke-width="0.7"/><line x1="547.20" x2="547.20" y1="356.00" y2="384.60" stroke="#e1e1e1" stroke-width="0.8"/><line x1="554.70" x2="554.70" y1="356.00" y2="384.60" stroke="#e1e1e1" stroke-width="0.8"/><line x1="562.20" x2="562.20" y1="356.00" y2="384.60" stroke="#e1e1e1" stroke-width="0.8"/><line x1="569.70" x2="569.70" y1="356.00" y2="384.60" stroke="#e1e1e1" stroke-width="0.8"/><line x1="577.20" x2="577.20" y1="356.00" y2="384.60" stroke="#e1e1e1" stroke-width="0.8"/>
<line x1="588.10" x2="627.10" y1="358.54" y2="358.54" stroke="#eaeaea" stroke-width="0.7"/><line x1="588.10" x2="627.10" y1="361.65" y2="361.65" stroke="#e1e1e1" stroke-width="0.8"/><line x1="588.10" x2="627.10" y1="364.76" y2="364.76" stroke="#eaeaea" stroke-width="0.7"/><line x1="588.10" x2="627.10" y1="367.88" y2="367.88" stroke="#e1e1e1" stroke-width="0.8"/><line x1="588.10" x2="627.10" y1="370.99" y2="370.99" stroke="#eaeaea" stroke-width="0.7"/><line x1="588.10" x2="627.10" y1="374.10" y2="374.10" stroke="#e1e1e1" stroke-width="0.8"/><line x1="588.10" x2="627.10" y1="377.21" y2="377.21" stroke="#eaeaea" stroke-width="0.7"/><line x1="588.10" x2="627.10" y1="380.32" y2="380.32" stroke="#e1e1e1" stroke-width="0.8"/><line x1="588.10" x2="627.10" y1="383.44" y2="383.44" stroke="#eaeaea" stroke-width="0.7"/><line x1="592.60" x2="592.60" y1="356.00" y2="384.60" stroke="#e1e1e1" stroke-width="0.8"/><line x1="600.10" x2="600.10" y1="356.00" y2="384.60" stroke="#e1e1e1" stroke-width="0.8"/><line x1="607.60" x2="607.60" y1="356.00" y2="384.60" stroke="#e1e1e1" stroke-width="0.8"/><line x1="615.10" x2="615.10" y1="356.00" y2="384.60" stroke="#e1e1e1" stroke-width="0.8"/><line x1="622.60" x2="622.60" y1="356.00" y2="384.60" stroke="#e1e1e1" stroke-width="0.8"/>
<line x1="633.80" x2="672.80" y1="358.54" y2="358.54" stroke="#eaeaea" stroke-width="0.7"/><line x1="633.80" x2="672.80" y1="361.65" y2="361.65" stroke="#e1e1e1" stroke-width="0.8"/><line x1="633.80" x2="672.80" y1="364.76" y2="364.76" stroke="#eaeaea" stroke-width="0.7"/><line x1="633.80" x2="672.80" y1="367.88" y2="367.88" stroke="#e1e1e1" stroke-width="0.8"/><line x1="633.80" x2="672.80" y1="370.99" y2="370.99" stroke="#eaeaea" stroke-width="0.7"/><line x1="633.80" x2="672.80" y1="374.10" y2="374.10" stroke="#e1e1e1" stroke-width="0.8"/><line x1="633.80" x2="672.80" y1="377.21" y2="377.21" stroke="#eaeaea" stroke-width="0.7"/><line x1="633.80" x2="672.80" y1="380.32" y2="380.32" stroke="#e1e1e1" stroke-width="0.8"/><line x1="633.80" x2="672.80" y1="383.44" y2="383.44" stroke="#eaeaea" stroke-width="0.7"/><line x1="638.30" x2="638.30" y1="356.00" y2="384.60" stroke="#e1e1e1" stroke-width="0.8"/><line x1="645.80" x2="645.80" y1="356.00" y2="384.60" stroke="#e1e1e1" stroke-width="0.8"/><line x1="653.30" x2="653.30" y1="356.00" y2="384.60" stroke="#e1e1e1" stroke-width="0.8"/><line x1="660.80" x2="660.80" y1="356.00" y2="384.60" stroke="#e1e1e1" stroke-width="0.8"/><line x1="668.30" x2="668.30" y1="356.00" y2="384.60" stroke="#e1e1e1" stroke-width="0.8"/>
<text x="678.75" y="404.10" font-size="7.6" text-anchor="middle" transform="rotate(90 678.75 404.10)">O'Neil</text>
<text x="491.70" y="399.10" font-size="8" text-anchor="end">0.75</text>
<text x="491.70" y="405.33" font-size="8" text-anchor="end">0.50</text>
<text x="491.70" y="411.55" font-size="8" text-anchor="end">0.25</text>
<text x="491.70" y="417.78" font-size="8" text-anchor="end">0.00</text>
<line x1="497.10" x2="536.10" y1="393.14" y2="393.14" stroke="#eaeaea" stroke-width="0.7"/><line x1="497.10" x2="536.10" y1="396.25" y2="396.25" stroke="#e1e1e1" stroke-width="0.8"/><line x1="497.10" x2="536.10" y1="399.36" y2="399.36" stroke="#eaeaea" stroke-width="0.7"/><line x1="497.10" x2="536.10" y1="402.48" y2="402.48" stroke="#e1e1e1" stroke-width="0.8"/><line x1="497.10" x2="536.10" y1="405.59" y2="405.59" stroke="#eaeaea" stroke-width="0.7"/><line x1="497.10" x2="536.10" y1="408.70" y2="408.70" stroke="#e1e1e1" stroke-width="0.8"/><line x1="497.10" x2="536.10" y1="411.81" y2="411.81" stroke="#eaeaea" stroke-width="0.7"/><line x1="497.10" x2="536.10" y1="414.93" y2="414.93" stroke="#e1e1e1" stroke-width="0.8"/><line x1="497.10" x2="536.10" y1="418.04" y2="418.04" stroke="#eaeaea" stroke-width="0.7"/><line x1="501.60" x2="501.60" y1="390.60" y2="419.20" stroke="#e1e1e1" stroke-width="0.8"/><line x1="509.10" x2="509.10" y1="390.60" y2="419.20" stroke="#e1e1e1" stroke-width="0.8"/><line x1="516.60" x2="516.60" y1="390.60" y2="419.20" stroke="#e1e1e1" stroke-width="0.8"/><line x1="524.10" x2="524.10" y1="390.60" y2="419.20" stroke="#e1e1e1" stroke-width="0.8"/><line x1="531.60" x2="531.60" y1="390.60" y2="419.20" stroke="#e1e1e1" stroke-width="0.8"/>
<line x1="542.70" x2="581.70" y1="393.14" y2="393.14" stroke="#eaeaea" stroke-width="0.7"/><line x1="542.70" x2="581.70" y1="396.25" y2="396.25" stroke="#e1e1e1" stroke-width="0.8"/><line x1="542.70" x2="581.70" y1="399.36" y2="399.36" stroke="#eaeaea" stroke-width="0.7"/><line x1="542.70" x2="581.70" y1="402.48" y2="402.48" stroke="#e1e1e1" stroke-width="0.8"/><line x1="542.70" x2="581.70" y1="405.59" y2="405.59" stroke="#eaeaea" stroke-width="0.7"/><line x1="542.70" x2="581.70" y1="408.70" y2="408.70" stroke="#e1e1e1" stroke-width="0.8"/><line x1="542.70" x2="581.70" y1="411.81" y2="411.81" stroke="#eaeaea" stroke-width="0.7"/><line x1="542.70" x2="581.70" y1="414.93" y2="414.93" stroke="#e1e1e1" stroke-width="0.8"/><line x1="542.70" x2="581.70" y1="418.04" y2="418.04" stroke="#eaeaea" stroke-width="0.7"/><line x1="547.20" x2="547.20" y1="390.60" y2="419.20" stroke="#e1e1e1" stroke-width="0.8"/><line x1="554.70" x2="554.70" y1="390.60" y2="419.20" stroke="#e1e1e1" stroke-width="0.8"/><line x1="562.20" x2="562.20" y1="390.60" y2="419.20" stroke="#e1e1e1" stroke-width="0.8"/><line x1="569.70" x2="569.70" y1="390.60" y2="419.20" stroke="#e1e1e1" stroke-width="0.8"/><line x1="577.20" x2="577.20" y1="390.60" y2="419.20" stroke="#e1e1e1" stroke-width="0.8"/>
<line x1="588.10" x2="627.10" y1="393.14" y2="393.14" stroke="#eaeaea" stroke-width="0.7"/><line x1="588.10" x2="627.10" y1="396.25" y2="396.25" stroke="#e1e1e1" stroke-width="0.8"/><line x1="588.10" x2="627.10" y1="399.36" y2="399.36" stroke="#eaeaea" stroke-width="0.7"/><line x1="588.10" x2="627.10" y1="402.48" y2="402.48" stroke="#e1e1e1" stroke-width="0.8"/><line x1="588.10" x2="627.10" y1="405.59" y2="405.59" stroke="#eaeaea" stroke-width="0.7"/><line x1="588.10" x2="627.10" y1="408.70" y2="408.70" stroke="#e1e1e1" stroke-width="0.8"/><line x1="588.10" x2="627.10" y1="411.81" y2="411.81" stroke="#eaeaea" stroke-width="0.7"/><line x1="588.10" x2="627.10" y1="414.93" y2="414.93" stroke="#e1e1e1" stroke-width="0.8"/><line x1="588.10" x2="627.10" y1="418.04" y2="418.04" stroke="#eaeaea" stroke-width="0.7"/><line x1="592.60" x2="592.60" y1="390.60" y2="419.20" stroke="#e1e1e1" stroke-width="0.8"/><line x1="600.10" x2="600.10" y1="390.60" y2="419.20" stroke="#e1e1e1" stroke-width="0.8"/><line x1="607.60" x2="607.60" y1="390.60" y2="419.20" stroke="#e1e1e1" stroke-width="0.8"/><line x1="615.10" x2="615.10" y1="390.60" y2="419.20" stroke="#e1e1e1" stroke-width="0.8"/><line x1="622.60" x2="622.60" y1="390.60" y2="419.20" stroke="#e1e1e1" stroke-width="0.8"/>
<line x1="633.80" x2="672.80" y1="393.14" y2="393.14" stroke="#eaeaea" stroke-width="0.7"/><line x1="633.80" x2="672.80" y1="396.25" y2="396.25" stroke="#e1e1e1" stroke-width="0.8"/><line x1="633.80" x2="672.80" y1="399.36" y2="399.36" stroke="#eaeaea" stroke-width="0.7"/><line x1="633.80" x2="672.80" y1="402.48" y2="402.48" stroke="#e1e1e1" stroke-width="0.8"/><line x1="633.80" x2="672.80" y1="405.59" y2="405.59" stroke="#eaeaea" stroke-width="0.7"/><line x1="633.80" x2="672.80" y1="408.70" y2="408.70" stroke="#e1e1e1" stroke-width="0.8"/><line x1="633.80" x2="672.80" y1="411.81" y2="411.81" stroke="#eaeaea" stroke-width="0.7"/><line x1="633.80" x2="672.80" y1="414.93" y2="414.93" stroke="#e1e1e1" stroke-width="0.8"/><line x1="633.80" x2="672.80" y1="418.04" y2="418.04" stroke="#eaeaea" stroke-width="0.7"/><line x1="638.30" x2="638.30" y1="390.60" y2="419.20" stroke="#e1e1e1" stroke-width="0.8"/><line x1="645.80" x2="645.80" y1="390.60" y2="419.20" stroke="#e1e1e1" stroke-width="0.8"/><line x1="653.30" x2="653.30" y1="390.60" y2="419.20" stroke="#e1e1e1" stroke-width="0.8"/><line x1="660.80" x2="660.80" y1="390.60" y2="419.20" stroke="#e1e1e1" stroke-width="0.8"/><line x1="668.30" x2="668.30" y1="390.60" y2="419.20" stroke="#e1e1e1" stroke-width="0.8"/>
<text x="678.75" y="439.50" font-size="7.6" text-anchor="middle" transform="rotate(90 678.75 439.50)">FORCINA</text>
<text x="491.70" y="433.70" font-size="8" text-anchor="end">0.75</text>
<text x="491.70" y="439.93" font-size="8" text-anchor="end">0.50</text>
<text x="491.70" y="446.15" font-size="8" text-anchor="end">0.25</text>
<text x="491.70" y="452.38" font-size="8" text-anchor="end">0.00</text>
<line x1="497.10" x2="536.10" y1="427.74" y2="427.74" stroke="#eaeaea" stroke-width="0.7"/><line x1="497.10" x2="536.10" y1="430.85" y2="430.85" stroke="#e1e1e1" stroke-width="0.8"/><line x1="497.10" x2="536.10" y1="433.96" y2="433.96" stroke="#eaeaea" stroke-width="0.7"/><line x1="497.10" x2="536.10" y1="437.07" y2="437.07" stroke="#e1e1e1" stroke-width="0.8"/><line x1="497.10" x2="536.10" y1="440.19" y2="440.19" stroke="#eaeaea" stroke-width="0.7"/><line x1="497.10" x2="536.10" y1="443.30" y2="443.30" stroke="#e1e1e1" stroke-width="0.8"/><line x1="497.10" x2="536.10" y1="446.41" y2="446.41" stroke="#eaeaea" stroke-width="0.7"/><line x1="497.10" x2="536.10" y1="449.52" y2="449.52" stroke="#e1e1e1" stroke-width="0.8"/><line x1="497.10" x2="536.10" y1="452.64" y2="452.64" stroke="#eaeaea" stroke-width="0.7"/><line x1="501.60" x2="501.60" y1="425.20" y2="453.80" stroke="#e1e1e1" stroke-width="0.8"/><line x1="509.10" x2="509.10" y1="425.20" y2="453.80" stroke="#e1e1e1" stroke-width="0.8"/><line x1="516.60" x2="516.60" y1="425.20" y2="453.80" stroke="#e1e1e1" stroke-width="0.8"/><line x1="524.10" x2="524.10" y1="425.20" y2="453.80" stroke="#e1e1e1" stroke-width="0.8"/><line x1="531.60" x2="531.60" y1="425.20" y2="453.80" stroke="#e1e1e1" stroke-width="0.8"/>
<line x1="542.70" x2="581.70" y1="427.74" y2="427.74" stroke="#eaeaea" stroke-width="0.7"/><line x1="542.70" x2="581.70" y1="430.85" y2="430.85" stroke="#e1e1e1" stroke-width="0.8"/><line x1="542.70" x2="581.70" y1="433.96" y2="433.96" stroke="#eaeaea" stroke-width="0.7"/><line x1="542.70" x2="581.70" y1="437.07" y2="437.07" stroke="#e1e1e1" stroke-width="0.8"/><line x1="542.70" x2="581.70" y1="440.19" y2="440.19" stroke="#eaeaea" stroke-width="0.7"/><line x1="542.70" x2="581.70" y1="443.30" y2="443.30" stroke="#e1e1e1" stroke-width="0.8"/><line x1="542.70" x2="581.70" y1="446.41" y2="446.41" stroke="#eaeaea" stroke-width="0.7"/><line x1="542.70" x2="581.70" y1="449.52" y2="449.52" stroke="#e1e1e1" stroke-width="0.8"/><line x1="542.70" x2="581.70" y1="452.64" y2="452.64" stroke="#eaeaea" stroke-width="0.7"/><line x1="547.20" x2="547.20" y1="425.20" y2="453.80" stroke="#e1e1e1" stroke-width="0.8"/><line x1="554.70" x2="554.70" y1="425.20" y2="453.80" stroke="#e1e1e1" stroke-width="0.8"/><line x1="562.20" x2="562.20" y1="425.20" y2="453.80" stroke="#e1e1e1" stroke-width="0.8"/><line x1="569.70" x2="569.70" y1="425.20" y2="453.80" stroke="#e1e1e1" stroke-width="0.8"/><line x1="577.20" x2="577.20" y1="425.20" y2="453.80" stroke="#e1e1e1" stroke-width="0.8"/>
<line x1="588.10" x2="627.10" y1="427.74" y2="427.74" stroke="#eaeaea" stroke-width="0.7"/><line x1="588.10" x2="627.10" y1="430.85" y2="430.85" stroke="#e1e1e1" stroke-width="0.8"/><line x1="588.10" x2="627.10" y1="433.96" y2="433.96" stroke="#eaeaea" stroke-width="0.7"/><line x1="588.10" x2="627.10" y1="437.07" y2="437.07" stroke="#e1e1e1" stroke-width="0.8"/><line x1="588.10" x2="627.10" y1="440.19" y2="440.19" stroke="#eaeaea" stroke-width="0.7"/><line x1="588.10" x2="627.10" y1="443.30" y2="443.30" stroke="#e1e1e1" stroke-width="0.8"/><line x1="588.10" x2="627.10" y1="446.41" y2="446.41" stroke="#eaeaea" stroke-width="0.7"/><line x1="588.10" x2="627.10" y1="449.52" y2="449.52" stroke="#e1e1e1" stroke-width="0.8"/><line x1="588.10" x2="627.10" y1="452.64" y2="452.64" stroke="#eaeaea" stroke-width="0.7"/><line x1="592.60" x2="592.60" y1="425.20" y2="453.80" stroke="#e1e1e1" stroke-width="0.8"/><line x1="600.10" x2="600.10" y1="425.20" y2="453.80" stroke="#e1e1e1" stroke-width="0.8"/><line x1="607.60" x2="607.60" y1="425.20" y2="453.80" stroke="#e1e1e1" stroke-width="0.8"/><line x1="615.10" x2="615.10" y1="425.20" y2="453.80" stroke="#e1e1e1" stroke-width="0.8"/><line x1="622.60" x2="622.60" y1="425.20" y2="453.80" stroke="#e1e1e1" stroke-width="0.8"/>
<line x1="633.80" x2="672.80" y1="427.74" y2="427.74" stroke="#eaeaea" stroke-width="0.7"/><line x1="633.80" x2="672.80" y1="430.85" y2="430.85" stroke="#e1e1e1" stroke-width="0.8"/><line x1="633.80" x2="672.80" y1="433.96" y2="433.96" stroke="#eaeaea" stroke-width="0.7"/><line x1="633.80" x2="672.80" y1="437.07" y2="437.07" stroke="#e1e1e1" stroke-width="0.8"/><line x1="633.80" x2="672.80" y1="440.19" y2="440.19" stroke="#eaeaea" stroke-width="0.7"/><line x1="633.80" x2="672.80" y1="443.30" y2="443.30" stroke="#e1e1e1" stroke-width="0.8"/><line x1="633.80" x2="672.80" y1="446.41" y2="446.41" stroke="#eaeaea" stroke-width="0.7"/><line x1="633.80" x2="672.80" y1="449.52" y2="449.52" stroke="#e1e1e1" stroke-width="0.8"/><line x1="633.80" x2="672.80" y1="452.64" y2="452.64" stroke="#eaeaea" stroke-width="0.7"/><line x1="638.30" x2="638.30" y1="425.20" y2="453.80" stroke="#e1e1e1" stroke-width="0.8"/><line x1="645.80" x2="645.80" y1="425.20" y2="453.80" stroke="#e1e1e1" stroke-width="0.8"/><line x1="653.30" x2="653.30" y1="425.20" y2="453.80" stroke="#e1e1e1" stroke-width="0.8"/><line x1="660.80" x2="660.80" y1="425.20" y2="453.80" stroke="#e1e1e1" stroke-width="0.8"/><line x1="668.30" x2="668.30" y1="425.20" y2="453.80" stroke="#e1e1e1" stroke-width="0.8"/>
<text x="678.75" y="474.90" font-size="7.6" text-anchor="middle" transform="rotate(90 678.75 474.90)">Mathews</text>
<text x="491.70" y="468.30" font-size="8" text-anchor="end">0.75</text>
<text x="491.70" y="474.53" font-size="8" text-anchor="end">0.50</text>
<text x="491.70" y="480.75" font-size="8" text-anchor="end">0.25</text>
<text x="491.70" y="486.98" font-size="8" text-anchor="end">0.00</text>
<line x1="497.10" x2="536.10" y1="462.34" y2="462.34" stroke="#eaeaea" stroke-width="0.7"/><line x1="497.10" x2="536.10" y1="465.45" y2="465.45" stroke="#e1e1e1" stroke-width="0.8"/><line x1="497.10" x2="536.10" y1="468.56" y2="468.56" stroke="#eaeaea" stroke-width="0.7"/><line x1="497.10" x2="536.10" y1="471.68" y2="471.68" stroke="#e1e1e1" stroke-width="0.8"/><line x1="497.10" x2="536.10" y1="474.79" y2="474.79" stroke="#eaeaea" stroke-width="0.7"/><line x1="497.10" x2="536.10" y1="477.90" y2="477.90" stroke="#e1e1e1" stroke-width="0.8"/><line x1="497.10" x2="536.10" y1="481.01" y2="481.01" stroke="#eaeaea" stroke-width="0.7"/><line x1="497.10" x2="536.10" y1="484.12" y2="484.12" stroke="#e1e1e1" stroke-width="0.8"/><line x1="497.10" x2="536.10" y1="487.24" y2="487.24" stroke="#eaeaea" stroke-width="0.7"/><line x1="501.60" x2="501.60" y1="459.80" y2="488.40" stroke="#e1e1e1" stroke-width="0.8"/><line x1="509.10" x2="509.10" y1="459.80" y2="488.40" stroke="#e1e1e1" stroke-width="0.8"/><line x1="516.60" x2="516.60" y1="459.80" y2="488.40" stroke="#e1e1e1" stroke-width="0.8"/><line x1="524.10" x2="524.10" y1="459.80" y2="488.40" stroke="#e1e1e1" stroke-width="0.8"/><line x1="531.60" x2="531.60" y1="459.80" y2="488.40" stroke="#e1e1e1" stroke-width="0.8"/>
<line x1="542.70" x2="581.70" y1="462.34" y2="462.34" stroke="#eaeaea" stroke-width="0.7"/><line x1="542.70" x2="581.70" y1="465.45" y2="465.45" stroke="#e1e1e1" stroke-width="0.8"/><line x1="542.70" x2="581.70" y1="468.56" y2="468.56" stroke="#eaeaea" stroke-width="0.7"/><line x1="542.70" x2="581.70" y1="471.68" y2="471.68" stroke="#e1e1e1" stroke-width="0.8"/><line x1="542.70" x2="581.70" y1="474.79" y2="474.79" stroke="#eaeaea" stroke-width="0.7"/><line x1="542.70" x2="581.70" y1="477.90" y2="477.90" stroke="#e1e1e1" stroke-width="0.8"/><line x1="542.70" x2="581.70" y1="481.01" y2="481.01" stroke="#eaeaea" stroke-width="0.7"/><line x1="542.70" x2="581.70" y1="484.12" y2="484.12" stroke="#e1e1e1" stroke-width="0.8"/><line x1="542.70" x2="581.70" y1="487.24" y2="487.24" stroke="#eaeaea" stroke-width="0.7"/><line x1="547.20" x2="547.20" y1="459.80" y2="488.40" stroke="#e1e1e1" stroke-width="0.8"/><line x1="554.70" x2="554.70" y1="459.80" y2="488.40" stroke="#e1e1e1" stroke-width="0.8"/><line x1="562.20" x2="562.20" y1="459.80" y2="488.40" stroke="#e1e1e1" stroke-width="0.8"/><line x1="569.70" x2="569.70" y1="459.80" y2="488.40" stroke="#e1e1e1" stroke-width="0.8"/><line x1="577.20" x2="577.20" y1="459.80" y2="488.40" stroke="#e1e1e1" stroke-width="0.8"/>
<line x1="588.10" x2="627.10" y1="462.34" y2="462.34" stroke="#eaeaea" stroke-width="0.7"/><line x1="588.10" x2="627.10" y1="465.45" y2="465.45" stroke="#e1e1e1" stroke-width="0.8"/><line x1="588.10" x2="627.10" y1="468.56" y2="468.56" stroke="#eaeaea" stroke-width="0.7"/><line x1="588.10" x2="627.10" y1="471.68" y2="471.68" stroke="#e1e1e1" stroke-width="0.8"/><line x1="588.10" x2="627.10" y1="474.79" y2="474.79" stroke="#eaeaea" stroke-width="0.7"/><line x1="588.10" x2="627.10" y1="477.90" y2="477.90" stroke="#e1e1e1" stroke-width="0.8"/><line x1="588.10" x2="627.10" y1="481.01" y2="481.01" stroke="#eaeaea" stroke-width="0.7"/><line x1="588.10" x2="627.10" y1="484.12" y2="484.12" stroke="#e1e1e1" stroke-width="0.8"/><line x1="588.10" x2="627.10" y1="487.24" y2="487.24" stroke="#eaeaea" stroke-width="0.7"/><line x1="592.60" x2="592.60" y1="459.80" y2="488.40" stroke="#e1e1e1" stroke-width="0.8"/><line x1="600.10" x2="600.10" y1="459.80" y2="488.40" stroke="#e1e1e1" stroke-width="0.8"/><line x1="607.60" x2="607.60" y1="459.80" y2="488.40" stroke="#e1e1e1" stroke-width="0.8"/><line x1="615.10" x2="615.10" y1="459.80" y2="488.40" stroke="#e1e1e1" stroke-width="0.8"/><line x1="622.60" x2="622.60" y1="459.80" y2="488.40" stroke="#e1e1e1" stroke-width="0.8"/>
<line x1="633.80" x2="672.80" y1="462.34" y2="462.34" stroke="#eaeaea" stroke-width="0.7"/><line x1="633.80" x2="672.80" y1="465.45" y2="465.45" stroke="#e1e1e1" stroke-width="0.8"/><line x1="633.80" x2="672.80" y1="468.56" y2="468.56" stroke="#eaeaea" stroke-width="0.7"/><line x1="633.80" x2="672.80" y1="471.68" y2="471.68" stroke="#e1e1e1" stroke-width="0.8"/><line x1="633.80" x2="672.80" y1="474.79" y2="474.79" stroke="#eaeaea" stroke-width="0.7"/><line x1="633.80" x2="672.80" y1="477.90" y2="477.90" stroke="#e1e1e1" stroke-width="0.8"/><line x1="633.80" x2="672.80" y1="481.01" y2="481.01" stroke="#eaeaea" stroke-width="0.7"/><line x1="633.80" x2="672.80" y1="484.12" y2="484.12" stroke="#e1e1e1" stroke-width="0.8"/><line x1="633.80" x2="672.80" y1="487.24" y2="487.24" stroke="#eaeaea" stroke-width="0.7"/><line x1="638.30" x2="638.30" y1="459.80" y2="488.40" stroke="#e1e1e1" stroke-width="0.8"/><line x1="645.80" x2="645.80" y1="459.80" y2="488.40" stroke="#e1e1e1" stroke-width="0.8"/><line x1="653.30" x2="653.30" y1="459.80" y2="488.40" stroke="#e1e1e1" stroke-width="0.8"/><line x1="660.80" x2="660.80" y1="459.80" y2="488.40" stroke="#e1e1e1" stroke-width="0.8"/><line x1="668.30" x2="668.30" y1="459.80" y2="488.40" stroke="#e1e1e1" stroke-width="0.8"/>
<text x="498.75" y="493.00" font-size="8" text-anchor="start" transform="rotate(90 498.75 493.00)">M13</text>
<text x="506.25" y="493.00" font-size="8" text-anchor="start" transform="rotate(90 506.25 493.00)">M14</text>
<text x="513.75" y="493.00" font-size="8" text-anchor="start" transform="rotate(90 513.75 493.00)">M15</text>
<text x="521.25" y="493.00" font-size="8" text-anchor="start" transform="rotate(90 521.25 493.00)">M16</text>
<text x="528.75" y="493.00" font-size="8" text-anchor="start" transform="rotate(90 528.75 493.00)">M20</text>
<text x="544.35" y="493.00" font-size="8" text-anchor="start" transform="rotate(90 544.35 493.00)">M13</text>
<text x="551.85" y="493.00" font-size="8" text-anchor="start" transform="rotate(90 551.85 493.00)">M14</text>
<text x="559.35" y="493.00" font-size="8" text-anchor="start" transform="rotate(90 559.35 493.00)">M15</text>
<text x="566.85" y="493.00" font-size="8" text-anchor="start" transform="rotate(90 566.85 493.00)">M16</text>
<text x="574.35" y="493.00" font-size="8" text-anchor="start" transform="rotate(90 574.35 493.00)">M20</text>
<text x="589.75" y="493.00" font-size="8" text-anchor="start" transform="rotate(90 589.75 493.00)">M13</text>
<text x="597.25" y="493.00" font-size="8" text-anchor="start" transform="rotate(90 597.25 493.00)">M14</text>
<text x="604.75" y="493.00" font-size="8" text-anchor="start" transform="rotate(90 604.75 493.00)">M15</text>
<text x="612.25" y="493.00" font-size="8" text-anchor="start" transform="rotate(90 612.25 493.00)">M16</text>
<text x="619.75" y="493.00" font-size="8" text-anchor="start" transform="rotate(90 619.75 493.00)">M20</text>
<text x="635.45" y="493.00" font-size="8" text-anchor="start" transform="rotate(90 635.45 493.00)">M13</text>
<text x="642.95" y="493.00" font-size="8" text-anchor="start" transform="rotate(90 642.95 493.00)">M14</text>
<text x="650.45" y="493.00" font-size="8" text-anchor="start" transform="rotate(90 650.45 493.00)">M15</text>
<text x="657.95" y="493.00" font-size="8" text-anchor="start" transform="rotate(90 657.95 493.00)">M16</text>
<text x="665.45" y="493.00" font-size="8" text-anchor="start" transform="rotate(90 665.45 493.00)">M20</text>
<rect x="500.15" y="362.70" width="2.9" height="1.9" rx="0.7" fill="#E64B35"/>
<rect x="507.65" y="362.70" width="2.9" height="1.9" rx="0.7" fill="#4DBBD5"/>
<rect x="515.15" y="359.29" width="2.9" height="1.9" rx="0.7" fill="#00A087"/>
<rect x="522.65" y="358.49" width="2.9" height="1.9" rx="0.7" fill="#3C5488"/>
<rect x="530.15" y="358.29" width="2.9" height="1.9" rx="0.7" fill="#F39B7F"/>
<polygon points="531.60,354.13 532.22,355.78 533.98,355.86 532.60,356.96 533.07,358.65 531.60,357.68 530.13,358.65 530.60,356.96 529.22,355.86 530.98,355.78" fill="#FF1E1E"/>
<rect x="545.75" y="378.35" width="2.9" height="1.9" rx="0.7" fill="#E64B35"/>
<rect x="553.25" y="378.35" width="2.9" height="1.9" rx="0.7" fill="#4DBBD5"/>
<rect x="560.75" y="369.12" width="2.9" height="1.9" rx="0.7" fill="#00A087"/>
<rect x="568.25" y="370.12" width="2.9" height="1.9" rx="0.7" fill="#3C5488"/>
<rect x="575.75" y="364.11" width="2.9" height="1.9" rx="0.7" fill="#F39B7F"/>
<polygon points="577.20,359.95 577.82,361.60 579.58,361.68 578.20,362.77 578.67,364.47 577.20,363.50 575.73,364.47 576.20,362.77 574.82,361.68 576.58,361.60" fill="#FF1E1E"/>
<rect x="500.15" y="413.44" width="2.9" height="1.9" rx="0.7" fill="#E64B35"/>
<rect x="507.65" y="413.64" width="2.9" height="1.9" rx="0.7" fill="#4DBBD5"/>
<rect x="515.15" y="396.40" width="2.9" height="1.9" rx="0.7" fill="#00A087"/>
<rect x="522.65" y="395.79" width="2.9" height="1.9" rx="0.7" fill="#3C5488"/>
<rect x="530.15" y="393.19" width="2.9" height="1.9" rx="0.7" fill="#F39B7F"/>
<polygon points="531.60,389.03 532.22,390.68 533.98,390.76 532.60,391.85 533.07,393.55 531.60,392.58 530.13,393.55 530.60,391.85 529.22,390.76 530.98,390.68" fill="#FF1E1E"/>
<rect x="545.75" y="391.78" width="2.9" height="1.9" rx="0.7" fill="#E64B35"/>
<rect x="553.25" y="391.78" width="2.9" height="1.9" rx="0.7" fill="#4DBBD5"/>
<rect x="560.75" y="391.38" width="2.9" height="1.9" rx="0.7" fill="#00A087"/>
<rect x="568.25" y="391.18" width="2.9" height="1.9" rx="0.7" fill="#3C5488"/>
<rect x="575.75" y="391.18" width="2.9" height="1.9" rx="0.7" fill="#F39B7F"/>
<polygon points="569.70,386.82 570.32,388.47 572.08,388.55 570.70,389.65 571.17,391.35 569.70,390.37 568.23,391.35 568.70,389.65 567.32,388.55 569.08,388.47" fill="#FF1E1E"/>
<ellipse cx="501.60" cy="450.90" rx="1.5" ry="1.2" fill="#E64B35"/>
<ellipse cx="509.10" cy="450.50" rx="1.5" ry="1.2" fill="#4DBBD5"/>
<ellipse cx="516.60" cy="434.25" rx="1.5" ry="1.2" fill="#00A087"/>
<ellipse cx="524.10" cy="435.05" rx="1.5" ry="1.2" fill="#3C5488"/>
<ellipse cx="531.60" cy="436.26" rx="1.5" ry="1.2" fill="#F39B7F"/>
<polygon points="516.60,429.14 517.22,430.79 518.98,430.87 517.60,431.97 518.07,433.66 516.60,432.69 515.13,433.66 515.60,431.97 514.22,430.87 515.98,430.79" fill="#FF1E1E"/>
<ellipse cx="547.20" cy="449.09" rx="1.5" ry="1.2" fill="#E64B35"/>
<ellipse cx="554.70" cy="449.69" rx="1.5" ry="1.2" fill="#4DBBD5"/>
<ellipse cx="562.20" cy="438.06" rx="1.5" ry="1.2" fill="#00A087"/>
<ellipse cx="569.70" cy="439.87" rx="1.5" ry="1.2" fill="#3C5488"/>
<ellipse cx="577.20" cy="435.85" rx="1.5" ry="1.2" fill="#F39B7F"/>
<polygon points="577.20,430.75 577.82,432.40 579.58,432.47 578.20,433.57 578.67,435.27 577.20,434.30 575.73,435.27 576.20,433.57 574.82,432.47 576.58,432.40" fill="#FF1E1E"/>
<ellipse cx="501.60" cy="485.79" rx="1.5" ry="1.2" fill="#E64B35"/>
<ellipse cx="509.10" cy="485.59" rx="1.5" ry="1.2" fill="#4DBBD5"/>
<ellipse cx="516.60" cy="466.94" rx="1.5" ry="1.2" fill="#00A087"/>
<ellipse cx="524.10" cy="466.34" rx="1.5" ry="1.2" fill="#3C5488"/>
<ellipse cx="531.60" cy="463.33" rx="1.5" ry="1.2" fill="#F39B7F"/>
<polygon points="531.60,458.02 532.22,459.67 533.98,459.75 532.60,460.85 533.07,462.55 531.60,461.57 530.13,462.55 530.60,460.85 529.22,459.75 530.98,459.67" fill="#FF1E1E"/>
<ellipse cx="547.20" cy="479.98" rx="1.5" ry="1.2" fill="#E64B35"/>
<ellipse cx="554.70" cy="481.38" rx="1.5" ry="1.2" fill="#4DBBD5"/>
<ellipse cx="562.20" cy="466.74" rx="1.5" ry="1.2" fill="#00A087"/>
<ellipse cx="569.70" cy="467.34" rx="1.5" ry="1.2" fill="#3C5488"/>
<ellipse cx="577.20" cy="463.73" rx="1.5" ry="1.2" fill="#F39B7F"/>
<polygon points="577.20,458.62 577.82,460.28 579.58,460.35 578.20,461.45 578.67,463.15 577.20,462.17 575.73,463.15 576.20,461.45 574.82,460.35 576.58,460.28" fill="#FF1E1E"/>
<rect x="598.65" y="378.35" width="2.9" height="1.9" rx="0.7" fill="#4DBBD5"/>
<rect x="606.15" y="374.13" width="2.9" height="1.9" rx="0.7" fill="#00A087"/>
<rect x="613.65" y="373.93" width="2.9" height="1.9" rx="0.7" fill="#3C5488"/>
<rect x="621.15" y="375.94" width="2.9" height="1.9" rx="0.7" fill="#F39B7F"/>
<polygon points="615.10,369.58 615.72,371.23 617.48,371.30 616.10,372.40 616.57,374.10 615.10,373.13 613.63,374.10 614.10,372.40 612.72,371.30 614.48,371.23" fill="#FF1E1E"/>
<rect x="636.85" y="379.15" width="2.9" height="1.9" rx="0.7" fill="#E64B35"/>
<rect x="644.35" y="379.75" width="2.9" height="1.9" rx="0.7" fill="#4DBBD5"/>
<rect x="651.85" y="372.33" width="2.9" height="1.9" rx="0.7" fill="#00A087"/>
<rect x="659.35" y="371.53" width="2.9" height="1.9" rx="0.7" fill="#3C5488"/>
<rect x="666.85" y="367.32" width="2.9" height="1.9" rx="0.7" fill="#F39B7F"/>
<polygon points="668.30,363.16 668.92,364.81 670.68,364.88 669.30,365.98 669.77,367.68 668.30,366.71 666.83,367.68 667.30,365.98 665.92,364.88 667.68,364.81" fill="#FF1E1E"/>
<rect x="591.15" y="413.85" width="2.9" height="1.9" rx="0.7" fill="#E64B35"/>
<rect x="598.65" y="411.04" width="2.9" height="1.9" rx="0.7" fill="#4DBBD5"/>
<rect x="606.15" y="407.83" width="2.9" height="1.9" rx="0.7" fill="#00A087"/>
<rect x="613.65" y="407.83" width="2.9" height="1.9" rx="0.7" fill="#3C5488"/>
<rect x="621.15" y="408.43" width="2.9" height="1.9" rx="0.7" fill="#F39B7F"/>
<polygon points="607.60,403.47 608.22,405.12 609.98,405.20 608.60,406.29 609.07,407.99 607.60,407.02 606.13,407.99 606.60,406.29 605.22,405.20 606.98,405.12" fill="#FF1E1E"/>
<polygon points="615.10,403.47 615.72,405.12 617.48,405.20 616.10,406.29 616.57,407.99 615.10,407.02 613.63,407.99 614.10,406.29 612.72,405.20 614.48,405.12" fill="#FF1E1E"/>
<rect x="636.85" y="410.44" width="2.9" height="1.9" rx="0.7" fill="#E64B35"/>
<rect x="644.35" y="410.03" width="2.9" height="1.9" rx="0.7" fill="#4DBBD5"/>
<rect x="651.85" y="397.20" width="2.9" height="1.9" rx="0.7" fill="#00A087"/>
<rect x="659.35" y="397.00" width="2.9" height="1.9" rx="0.7" fill="#3C5488"/>
<rect x="666.85" y="394.79" width="2.9" height="1.9" rx="0.7" fill="#F39B7F"/>
<polygon points="668.30,390.63 668.92,392.28 670.68,392.36 669.30,393.46 669.77,395.16 668.30,394.18 666.83,395.16 667.30,393.46 665.92,392.36 667.68,392.28" fill="#FF1E1E"/>
<ellipse cx="592.60" cy="450.70" rx="1.5" ry="1.2" fill="#E64B35"/>
<ellipse cx="600.10" cy="444.68" rx="1.5" ry="1.2" fill="#4DBBD5"/>
<ellipse cx="607.60" cy="432.04" rx="1.5" ry="1.2" fill="#00A087"/>
<ellipse cx="615.10" cy="432.04" rx="1.5" ry="1.2" fill="#3C5488"/>
<ellipse cx="622.60" cy="432.04" rx="1.5" ry="1.2" fill="#F39B7F"/>
<polygon points="607.60,426.74 608.22,428.39 609.98,428.46 608.60,429.56 609.07,431.26 607.60,430.29 606.13,431.26 606.60,429.56 605.22,428.46 606.98,428.39" fill="#FF1E1E"/>
<polygon points="615.10,426.74 615.72,428.39 617.48,428.46 616.10,429.56 616.57,431.26 615.10,430.29 613.63,431.26 614.10,429.56 612.72,428.46 614.48,428.39" fill="#FF1E1E"/>
<ellipse cx="638.30" cy="449.29" rx="1.5" ry="1.2" fill="#E64B35"/>
<ellipse cx="645.80" cy="446.48" rx="1.5" ry="1.2" fill="#4DBBD5"/>
<ellipse cx="653.30" cy="435.85" rx="1.5" ry="1.2" fill="#00A087"/>
<ellipse cx="660.80" cy="438.86" rx="1.5" ry="1.2" fill="#3C5488"/>
<ellipse cx="668.30" cy="434.25" rx="1.5" ry="1.2" fill="#F39B7F"/>
<polygon points="668.30,429.14 668.92,430.79 670.68,430.87 669.30,431.97 669.77,433.66 668.30,432.69 666.83,433.66 667.30,431.97 665.92,430.87 667.68,430.79" fill="#FF1E1E"/>
<ellipse cx="592.60" cy="484.59" rx="1.5" ry="1.2" fill="#E64B35"/>
<ellipse cx="600.10" cy="479.58" rx="1.5" ry="1.2" fill="#4DBBD5"/>
<ellipse cx="607.60" cy="470.75" rx="1.5" ry="1.2" fill="#00A087"/>
<ellipse cx="615.10" cy="470.75" rx="1.5" ry="1.2" fill="#3C5488"/>
<ellipse cx="622.60" cy="477.37" rx="1.5" ry="1.2" fill="#F39B7F"/>
<polygon points="607.60,465.44 608.22,467.09 609.98,467.17 608.60,468.27 609.07,469.97 607.60,468.99 606.13,469.97 606.60,468.27 605.22,467.17 606.98,467.09" fill="#FF1E1E"/>
<polygon points="615.10,465.44 615.72,467.09 617.48,467.17 616.10,468.27 616.57,469.97 615.10,468.99 613.63,469.97 614.10,468.27 612.72,467.17 614.48,467.09" fill="#FF1E1E"/>
<ellipse cx="638.30" cy="471.96" rx="1.5" ry="1.2" fill="#E64B35"/>
<ellipse cx="645.80" cy="469.55" rx="1.5" ry="1.2" fill="#4DBBD5"/>
<ellipse cx="653.30" cy="462.33" rx="1.5" ry="1.2" fill="#00A087"/>
<ellipse cx="660.80" cy="461.73" rx="1.5" ry="1.2" fill="#3C5488"/>
<ellipse cx="668.30" cy="461.13" rx="1.5" ry="1.2" fill="#F39B7F"/>
<polygon points="668.30,456.22 668.92,457.87 670.68,457.95 669.30,459.04 669.77,460.74 668.30,459.77 666.83,460.74 667.30,459.04 665.92,457.95 667.68,457.87" fill="#FF1E1E"/>
</g>
</g>
<g id="panelC">
<text x="75.00" y="531.00" font-size="15.5" text-anchor="start" font-weight="bold" fill="#000">c</text>
<text x="200.20" y="531.00" font-size="9.55" text-anchor="middle" font-weight="bold" fill="#000">intra-study</text>
<text x="106.20" y="557.73" font-size="8.4" text-anchor="end" fill="#1a1a1a">M20</text>
<line x1="108.80" x2="111.40" y1="554.78" y2="554.78" stroke="#222" stroke-width="1.1"/>
<rect x="112.60" y="537.70" width="34.57" height="34.16" fill="#0000ff" stroke="#000" stroke-opacity="0.38" stroke-width="0.5"/>
<rect x="147.17" y="537.70" width="34.57" height="34.16" fill="#b28bff" stroke="#000" stroke-opacity="0.38" stroke-width="0.5"/>
<rect x="181.74" y="537.70" width="34.57" height="34.16" fill="#f8f3ff" stroke="#000" stroke-opacity="0.38" stroke-width="0.5"/>
<rect x="216.31" y="537.70" width="34.57" height="34.16" fill="#ffffff" stroke="#000" stroke-opacity="0.38" stroke-width="0.5"/>
<rect x="250.88" y="537.70" width="34.57" height="34.16" fill="#ffffff" stroke="#000" stroke-opacity="0.38" stroke-width="0.5"/>
<text x="106.20" y="591.89" font-size="8.4" text-anchor="end" fill="#1a1a1a">M16</text>
<line x1="108.80" x2="111.40" y1="588.94" y2="588.94" stroke="#222" stroke-width="1.1"/>
<rect x="112.60" y="571.86" width="34.57" height="34.16" fill="#0802ff" stroke="#000" stroke-opacity="0.38" stroke-width="0.5"/>
<rect x="147.17" y="571.86" width="34.57" height="34.16" fill="#b790ff" stroke="#000" stroke-opacity="0.38" stroke-width="0.5"/>
<rect x="181.74" y="571.86" width="34.57" height="34.16" fill="#f8f3ff" stroke="#000" stroke-opacity="0.38" stroke-width="0.5"/>
<rect x="216.31" y="571.86" width="34.57" height="34.16" fill="#ffffff" stroke="#000" stroke-opacity="0.38" stroke-width="0.5"/>
<rect x="250.88" y="571.86" width="34.57" height="34.16" fill="#ffffff" stroke="#000" stroke-opacity="0.38" stroke-width="0.5"/>
<text x="106.20" y="626.05" font-size="8.4" text-anchor="end" fill="#1a1a1a">M15</text>
<line x1="108.80" x2="111.40" y1="623.10" y2="623.10" stroke="#222" stroke-width="1.1"/>
<rect x="112.60" y="606.02" width="34.57" height="34.16" fill="#2d14ff" stroke="#000" stroke-opacity="0.38" stroke-width="0.5"/>
<rect x="147.17" y="606.02" width="34.57" height="34.16" fill="#be9aff" stroke="#000" stroke-opacity="0.38" stroke-width="0.5"/>
<rect x="181.74" y="606.02" width="34.57" height="34.16" fill="#ffffff" stroke="#000" stroke-opacity="0.38" stroke-width="0.5"/>
<rect x="216.31" y="606.02" width="34.57" height="34.16" fill="#fff6f2" stroke="#000" stroke-opacity="0.38" stroke-width="0.5"/>
<rect x="250.88" y="606.02" width="34.57" height="34.16" fill="#fff6f2" stroke="#000" stroke-opacity="0.38" stroke-width="0.5"/>
<text x="106.20" y="660.21" font-size="8.4" text-anchor="end" fill="#1a1a1a">M14</text>
<line x1="108.80" x2="111.40" y1="657.26" y2="657.26" stroke="#222" stroke-width="1.1"/>
<rect x="112.60" y="640.18" width="34.57" height="34.16" fill="#ae86ff" stroke="#000" stroke-opacity="0.38" stroke-width="0.5"/>
<rect x="147.17" y="640.18" width="34.57" height="34.16" fill="#ffffff" stroke="#000" stroke-opacity="0.38" stroke-width="0.5"/>
<rect x="181.74" y="640.18" width="34.57" height="34.16" fill="#ffab90" stroke="#000" stroke-opacity="0.38" stroke-width="0.5"/>
<rect x="216.31" y="640.18" width="34.57" height="34.16" fill="#ffa084" stroke="#000" stroke-opacity="0.38" stroke-width="0.5"/>
<rect x="250.88" y="640.18" width="34.57" height="34.16" fill="#ffa084" stroke="#000" stroke-opacity="0.38" stroke-width="0.5"/>
<text x="106.20" y="694.37" font-size="8.4" text-anchor="end" fill="#1a1a1a">M13</text>
<line x1="108.80" x2="111.40" y1="691.42" y2="691.42" stroke="#222" stroke-width="1.1"/>
<rect x="112.60" y="674.34" width="34.57" height="34.16" fill="#ffffff" stroke="#000" stroke-opacity="0.38" stroke-width="0.5"/>
<rect x="147.17" y="674.34" width="34.57" height="34.16" fill="#ff997b" stroke="#000" stroke-opacity="0.38" stroke-width="0.5"/>
<rect x="181.74" y="674.34" width="34.57" height="34.16" fill="#ff240f" stroke="#000" stroke-opacity="0.38" stroke-width="0.5"/>
<rect x="216.31" y="674.34" width="34.57" height="34.16" fill="#ff0000" stroke="#000" stroke-opacity="0.38" stroke-width="0.5"/>
<rect x="250.88" y="674.34" width="34.57" height="34.16" fill="#ff0000" stroke="#000" stroke-opacity="0.38" stroke-width="0.5"/>
<text x="129.88" y="552.03" font-size="7.6" text-anchor="middle">p&lt;0.01</text>
<text x="129.88" y="563.13" font-size="7.7" text-anchor="middle">PR=54%</text>
<text x="164.45" y="552.03" font-size="7.6" text-anchor="middle">p&lt;0.01</text>
<text x="164.45" y="563.13" font-size="7.7" text-anchor="middle">PR=74%</text>
<text x="199.02" y="552.03" font-size="7.6" text-anchor="middle">p&lt;0.01</text>
<text x="199.02" y="563.13" font-size="7.7" text-anchor="middle">PR=97%</text>
<text x="233.59" y="552.03" font-size="7.6" text-anchor="middle">p=0.07</text>
<text x="233.59" y="563.13" font-size="7.7" text-anchor="middle" textLength="32" lengthAdjust="spacingAndGlyphs">PR=100%</text>
<text x="268.16" y="552.03" font-size="7.6" text-anchor="middle">p=NaN</text>
<text x="268.16" y="563.13" font-size="7.7" text-anchor="middle" textLength="32" lengthAdjust="spacingAndGlyphs">PR=100%</text>
<text x="129.88" y="586.19" font-size="7.6" text-anchor="middle">p&lt;0.01</text>
<text x="129.88" y="597.29" font-size="7.7" text-anchor="middle">PR=55%</text>
<text x="164.45" y="586.19" font-size="7.6" text-anchor="middle">p&lt;0.01</text>
<text x="164.45" y="597.29" font-size="7.7" text-anchor="middle">PR=75%</text>
<text x="199.02" y="586.19" font-size="7.6" text-anchor="middle">p&lt;0.01</text>
<text x="199.02" y="597.29" font-size="7.7" text-anchor="middle">PR=97%</text>
<text x="233.59" y="586.19" font-size="7.6" text-anchor="middle">p=NaN</text>
<text x="233.59" y="597.29" font-size="7.7" text-anchor="middle" textLength="32" lengthAdjust="spacingAndGlyphs">PR=100%</text>
<text x="268.16" y="586.19" font-size="7.6" text-anchor="middle">p=0.07</text>
<text x="268.16" y="597.29" font-size="7.7" text-anchor="middle" textLength="32" lengthAdjust="spacingAndGlyphs">PR=100%</text>
<text x="129.88" y="620.35" font-size="7.6" text-anchor="middle">p&lt;0.01</text>
<text x="129.88" y="631.45" font-size="7.7" text-anchor="middle">PR=56%</text>
<text x="164.45" y="620.35" font-size="7.6" text-anchor="middle">p&lt;0.01</text>
<text x="164.45" y="631.45" font-size="7.7" text-anchor="middle">PR=77%</text>
<text x="199.02" y="620.35" font-size="7.6" text-anchor="middle">p=NaN</text>
<text x="199.02" y="631.45" font-size="7.7" text-anchor="middle" textLength="32" lengthAdjust="spacingAndGlyphs">PR=100%</text>
<text x="233.59" y="620.35" font-size="7.6" text-anchor="middle">p&lt;0.01</text>
<text x="233.59" y="631.45" font-size="7.7" text-anchor="middle" textLength="32" lengthAdjust="spacingAndGlyphs">PR=103%</text>
<text x="268.16" y="620.35" font-size="7.6" text-anchor="middle">p&lt;0.01</text>
<text x="268.16" y="631.45" font-size="7.7" text-anchor="middle" textLength="32" lengthAdjust="spacingAndGlyphs">PR=103%</text>
<text x="129.88" y="654.51" font-size="7.6" text-anchor="middle">p&lt;0.01</text>
<text x="129.88" y="665.61" font-size="7.7" text-anchor="middle">PR=73%</text>
<text x="164.45" y="654.51" font-size="7.6" text-anchor="middle">p=NaN</text>
<text x="164.45" y="665.61" font-size="7.7" text-anchor="middle" textLength="32" lengthAdjust="spacingAndGlyphs">PR=100%</text>
<text x="199.02" y="654.51" font-size="7.6" text-anchor="middle">p&lt;0.01</text>
<text x="199.02" y="665.61" font-size="7.7" text-anchor="middle" textLength="32" lengthAdjust="spacingAndGlyphs">PR=130%</text>
<text x="233.59" y="654.51" font-size="7.6" text-anchor="middle">p&lt;0.01</text>
<text x="233.59" y="665.61" font-size="7.7" text-anchor="middle" textLength="32" lengthAdjust="spacingAndGlyphs">PR=134%</text>
<text x="268.16" y="654.51" font-size="7.6" text-anchor="middle">p&lt;0.01</text>
<text x="268.16" y="665.61" font-size="7.7" text-anchor="middle" textLength="32" lengthAdjust="spacingAndGlyphs">PR=134%</text>
<text x="129.88" y="688.67" font-size="7.6" text-anchor="middle">p=NaN</text>
<text x="129.88" y="699.77" font-size="7.7" text-anchor="middle" textLength="32" lengthAdjust="spacingAndGlyphs">PR=100%</text>
<text x="164.45" y="688.67" font-size="7.6" text-anchor="middle">p&lt;0.01</text>
<text x="164.45" y="699.77" font-size="7.7" text-anchor="middle" textLength="32" lengthAdjust="spacingAndGlyphs">PR=137%</text>
<text x="199.02" y="688.67" font-size="7.6" text-anchor="middle">p&lt;0.01</text>
<text x="199.02" y="699.77" font-size="7.7" text-anchor="middle" textLength="32" lengthAdjust="spacingAndGlyphs">PR=178%</text>
<text x="233.59" y="688.67" font-size="7.6" text-anchor="middle">p&lt;0.01</text>
<text x="233.59" y="699.77" font-size="7.7" text-anchor="middle" textLength="32" lengthAdjust="spacingAndGlyphs">PR=183%</text>
<text x="268.16" y="688.67" font-size="7.6" text-anchor="middle">p&lt;0.01</text>
<text x="268.16" y="699.77" font-size="7.7" text-anchor="middle" textLength="32" lengthAdjust="spacingAndGlyphs">PR=184%</text>
<line x1="129.88" x2="129.88" y1="709.80" y2="712.50" stroke="#222" stroke-width="1.1"/>
<text x="132.20" y="721.00" font-size="8.4" text-anchor="middle" fill="#1a1a1a">M13</text>
<line x1="164.45" x2="164.45" y1="709.80" y2="712.50" stroke="#222" stroke-width="1.1"/>
<text x="166.37" y="721.00" font-size="8.4" text-anchor="middle" fill="#1a1a1a">M14</text>
<line x1="199.02" x2="199.02" y1="709.80" y2="712.50" stroke="#222" stroke-width="1.1"/>
<text x="200.54" y="721.00" font-size="8.4" text-anchor="middle" fill="#1a1a1a">M15</text>
<line x1="233.59" x2="233.59" y1="709.80" y2="712.50" stroke="#222" stroke-width="1.1"/>
<text x="234.71" y="721.00" font-size="8.4" text-anchor="middle" fill="#1a1a1a">M16</text>
<line x1="268.16" x2="268.16" y1="709.80" y2="712.50" stroke="#222" stroke-width="1.1"/>
<text x="268.88" y="721.00" font-size="8.4" text-anchor="middle" fill="#1a1a1a">M20</text>
<text x="473.40" y="531.00" font-size="9.55" text-anchor="middle" font-weight="bold" fill="#000">inter-study</text>
<text x="380.70" y="560.09" font-size="8.4" text-anchor="end" fill="#1a1a1a">M20</text>
<line x1="383.30" x2="385.90" y1="557.14" y2="557.14" stroke="#222" stroke-width="1.1"/>
<rect x="387.10" y="540.10" width="34.53" height="34.08" fill="#0000ff" stroke="#000" stroke-opacity="0.38" stroke-width="0.5"/>
<rect x="421.63" y="540.10" width="34.53" height="34.08" fill="#8b5eff" stroke="#000" stroke-opacity="0.38" stroke-width="0.5"/>
<rect x="456.16" y="540.10" width="34.53" height="34.08" fill="#fdfbff" stroke="#000" stroke-opacity="0.38" stroke-width="0.5"/>
<rect x="490.69" y="540.10" width="34.53" height="34.08" fill="#fbf8ff" stroke="#000" stroke-opacity="0.38" stroke-width="0.5"/>
<rect x="525.22" y="540.10" width="34.53" height="34.08" fill="#ffffff" stroke="#000" stroke-opacity="0.38" stroke-width="0.5"/>
<text x="380.70" y="594.17" font-size="8.4" text-anchor="end" fill="#1a1a1a">M16</text>
<line x1="383.30" x2="385.90" y1="591.22" y2="591.22" stroke="#222" stroke-width="1.1"/>
<rect x="387.10" y="574.18" width="34.53" height="34.08" fill="#3016ff" stroke="#000" stroke-opacity="0.38" stroke-width="0.5"/>
<rect x="421.63" y="574.18" width="34.53" height="34.08" fill="#9568ff" stroke="#000" stroke-opacity="0.38" stroke-width="0.5"/>
<rect x="456.16" y="574.18" width="34.53" height="34.08" fill="#fffdfc" stroke="#000" stroke-opacity="0.38" stroke-width="0.5"/>
<rect x="490.69" y="574.18" width="34.53" height="34.08" fill="#ffffff" stroke="#000" stroke-opacity="0.38" stroke-width="0.5"/>
<rect x="525.22" y="574.18" width="34.53" height="34.08" fill="#fff9f7" stroke="#000" stroke-opacity="0.38" stroke-width="0.5"/>
<text x="380.70" y="628.25" font-size="8.4" text-anchor="end" fill="#1a1a1a">M15</text>
<line x1="383.30" x2="385.90" y1="625.30" y2="625.30" stroke="#222" stroke-width="1.1"/>
<rect x="387.10" y="608.26" width="34.53" height="34.08" fill="#3016ff" stroke="#000" stroke-opacity="0.38" stroke-width="0.5"/>
<rect x="421.63" y="608.26" width="34.53" height="34.08" fill="#9063ff" stroke="#000" stroke-opacity="0.38" stroke-width="0.5"/>
<rect x="456.16" y="608.26" width="34.53" height="34.08" fill="#ffffff" stroke="#000" stroke-opacity="0.38" stroke-width="0.5"/>
<rect x="490.69" y="608.26" width="34.53" height="34.08" fill="#fdfcff" stroke="#000" stroke-opacity="0.38" stroke-width="0.5"/>
<rect x="525.22" y="608.26" width="34.53" height="34.08" fill="#fffcfb" stroke="#000" stroke-opacity="0.38" stroke-width="0.5"/>
<text x="380.70" y="662.33" font-size="8.4" text-anchor="end" fill="#1a1a1a">M14</text>
<line x1="383.30" x2="385.90" y1="659.38" y2="659.38" stroke="#222" stroke-width="1.1"/>
<rect x="387.10" y="642.34" width="34.53" height="34.08" fill="#d2b6ff" stroke="#000" stroke-opacity="0.38" stroke-width="0.5"/>
<rect x="421.63" y="642.34" width="34.53" height="34.08" fill="#ffffff" stroke="#000" stroke-opacity="0.38" stroke-width="0.5"/>
<rect x="456.16" y="642.34" width="34.53" height="34.08" fill="#ff7958" stroke="#000" stroke-opacity="0.38" stroke-width="0.5"/>
<rect x="490.69" y="642.34" width="34.53" height="34.08" fill="#ff7c5b" stroke="#000" stroke-opacity="0.38" stroke-width="0.5"/>
<rect x="525.22" y="642.34" width="34.53" height="34.08" fill="#ff7654" stroke="#000" stroke-opacity="0.38" stroke-width="0.5"/>
<text x="380.70" y="696.41" font-size="8.4" text-anchor="end" fill="#1a1a1a">M13</text>
<line x1="383.30" x2="385.90" y1="693.46" y2="693.46" stroke="#222" stroke-width="1.1"/>
<rect x="387.10" y="676.42" width="34.53" height="34.08" fill="#ffffff" stroke="#000" stroke-opacity="0.38" stroke-width="0.5"/>
<rect x="421.63" y="676.42" width="34.53" height="34.08" fill="#ffc3b0" stroke="#000" stroke-opacity="0.38" stroke-width="0.5"/>
<rect x="456.16" y="676.42" width="34.53" height="34.08" fill="#ff1a09" stroke="#000" stroke-opacity="0.38" stroke-width="0.5"/>
<rect x="490.69" y="676.42" width="34.53" height="34.08" fill="#ff220e" stroke="#000" stroke-opacity="0.38" stroke-width="0.5"/>
<rect x="525.22" y="676.42" width="34.53" height="34.08" fill="#ff0501" stroke="#000" stroke-opacity="0.38" stroke-width="0.5"/>
<text x="404.37" y="554.39" font-size="7.6" text-anchor="middle">p&lt;0.01</text>
<text x="404.37" y="565.49" font-size="7.7" text-anchor="middle">PR=7%</text>
<text x="438.90" y="554.39" font-size="7.6" text-anchor="middle">p&lt;0.01</text>
<text x="438.90" y="565.49" font-size="7.7" text-anchor="middle">PR=16%</text>
<text x="473.43" y="554.39" font-size="7.6" text-anchor="middle">p=0.27</text>
<text x="473.43" y="565.49" font-size="7.7" text-anchor="middle">PR=96%</text>
<text x="507.96" y="554.39" font-size="7.6" text-anchor="middle">p=0.10</text>
<text x="507.96" y="565.49" font-size="7.7" text-anchor="middle">PR=93%</text>
<text x="542.49" y="554.39" font-size="7.6" text-anchor="middle">p=NaN</text>
<text x="542.49" y="565.49" font-size="7.7" text-anchor="middle" textLength="32" lengthAdjust="spacingAndGlyphs">PR=100%</text>
<text x="404.37" y="588.47" font-size="7.6" text-anchor="middle">p&lt;0.01</text>
<text x="404.37" y="599.57" font-size="7.7" text-anchor="middle">PR=8%</text>
<text x="438.90" y="588.47" font-size="7.6" text-anchor="middle">p&lt;0.01</text>
<text x="438.90" y="599.57" font-size="7.7" text-anchor="middle">PR=18%</text>
<text x="473.43" y="588.47" font-size="7.6" text-anchor="middle">p=0.35</text>
<text x="473.43" y="599.57" font-size="7.7" text-anchor="middle" textLength="32" lengthAdjust="spacingAndGlyphs">PR=103%</text>
<text x="507.96" y="588.47" font-size="7.6" text-anchor="middle">p=NaN</text>
<text x="507.96" y="599.57" font-size="7.7" text-anchor="middle" textLength="32" lengthAdjust="spacingAndGlyphs">PR=100%</text>
<text x="542.49" y="588.47" font-size="7.6" text-anchor="middle">p=0.10</text>
<text x="542.49" y="599.57" font-size="7.7" text-anchor="middle" textLength="32" lengthAdjust="spacingAndGlyphs">PR=108%</text>
<text x="404.37" y="622.55" font-size="7.6" text-anchor="middle">p&lt;0.01</text>
<text x="404.37" y="633.65" font-size="7.7" text-anchor="middle">PR=8%</text>
<text x="438.90" y="622.55" font-size="7.6" text-anchor="middle">p&lt;0.01</text>
<text x="438.90" y="633.65" font-size="7.7" text-anchor="middle">PR=17%</text>
<text x="473.43" y="622.55" font-size="7.6" text-anchor="middle">p=NaN</text>
<text x="473.43" y="633.65" font-size="7.7" text-anchor="middle" textLength="32" lengthAdjust="spacingAndGlyphs">PR=100%</text>
<text x="507.96" y="622.55" font-size="7.6" text-anchor="middle">p=0.35</text>
<text x="507.96" y="633.65" font-size="7.7" text-anchor="middle">PR=97%</text>
<text x="542.49" y="622.55" font-size="7.6" text-anchor="middle">p=0.27</text>
<text x="542.49" y="633.65" font-size="7.7" text-anchor="middle" textLength="32" lengthAdjust="spacingAndGlyphs">PR=104%</text>
<text x="404.37" y="656.63" font-size="7.6" text-anchor="middle">p&lt;0.01</text>
<text x="404.37" y="667.73" font-size="7.7" text-anchor="middle">PR=44%</text>
<text x="438.90" y="656.63" font-size="7.6" text-anchor="middle">p=NaN</text>
<text x="438.90" y="667.73" font-size="7.7" text-anchor="middle" textLength="32" lengthAdjust="spacingAndGlyphs">PR=100%</text>
<text x="473.43" y="656.63" font-size="7.6" text-anchor="middle">p&lt;0.01</text>
<text x="473.43" y="667.73" font-size="7.7" text-anchor="middle" textLength="32" lengthAdjust="spacingAndGlyphs">PR=585%</text>
<text x="507.96" y="656.63" font-size="7.6" text-anchor="middle">p&lt;0.01</text>
<text x="507.96" y="667.73" font-size="7.7" text-anchor="middle" textLength="32" lengthAdjust="spacingAndGlyphs">PR=568%</text>
<text x="542.49" y="656.63" font-size="7.6" text-anchor="middle">p&lt;0.01</text>
<text x="542.49" y="667.73" font-size="7.7" text-anchor="middle" textLength="32" lengthAdjust="spacingAndGlyphs">PR=611%</text>
<text x="404.37" y="690.71" font-size="7.6" text-anchor="middle">p=NaN</text>
<text x="404.37" y="701.81" font-size="7.7" text-anchor="middle" textLength="32" lengthAdjust="spacingAndGlyphs">PR=100%</text>
<text x="438.90" y="690.71" font-size="7.6" text-anchor="middle">p&lt;0.01</text>
<text x="438.90" y="701.81" font-size="7.7" text-anchor="middle" textLength="32" lengthAdjust="spacingAndGlyphs">PR=226%</text>
<text x="473.43" y="690.71" font-size="7.6" text-anchor="middle">p&lt;0.01</text>
<text x="473.43" y="701.81" font-size="7.7" text-anchor="middle" textLength="34" lengthAdjust="spacingAndGlyphs">PR=1299%</text>
<text x="507.96" y="690.71" font-size="7.6" text-anchor="middle">p&lt;0.01</text>
<text x="507.96" y="701.81" font-size="7.7" text-anchor="middle" textLength="34" lengthAdjust="spacingAndGlyphs">PR=1257%</text>
<text x="542.49" y="690.71" font-size="7.6" text-anchor="middle">p&lt;0.01</text>
<text x="542.49" y="701.81" font-size="7.7" text-anchor="middle" textLength="34" lengthAdjust="spacingAndGlyphs">PR=1367%</text>
<line x1="404.37" x2="404.37" y1="711.80" y2="714.50" stroke="#222" stroke-width="1.1"/>
<text x="407.20" y="722.30" font-size="8.4" text-anchor="middle" fill="#1a1a1a">M13</text>
<line x1="438.90" x2="438.90" y1="711.80" y2="714.50" stroke="#222" stroke-width="1.1"/>
<text x="441.32" y="722.30" font-size="8.4" text-anchor="middle" fill="#1a1a1a">M14</text>
<line x1="473.43" x2="473.43" y1="711.80" y2="714.50" stroke="#222" stroke-width="1.1"/>
<text x="475.44" y="722.30" font-size="8.4" text-anchor="middle" fill="#1a1a1a">M15</text>
<line x1="507.96" x2="507.96" y1="711.80" y2="714.50" stroke="#222" stroke-width="1.1"/>
<text x="509.56" y="722.30" font-size="8.4" text-anchor="middle" fill="#1a1a1a">M16</text>
<line x1="542.49" x2="542.49" y1="711.80" y2="714.50" stroke="#222" stroke-width="1.1"/>
<text x="543.68" y="722.30" font-size="8.4" text-anchor="middle" fill="#1a1a1a">M20</text>
<defs><linearGradient id="lg1" x1="0" y1="0" x2="0" y2="1"><stop offset="0.0000" stop-color="#ff0000"/><stop offset="0.0417" stop-color="#ff371d"/><stop offset="0.0833" stop-color="#ff5132"/><stop offset="0.1250" stop-color="#ff6745"/><stop offset="0.1667" stop-color="#ff7a59"/><stop offset="0.2083" stop-color="#ff8b6c"/><stop offset="0.2500" stop-color="#ff9c7f"/><stop offset="0.2917" stop-color="#ffad93"/><stop offset="0.3333" stop-color="#ffbda7"/><stop offset="0.3750" stop-color="#ffcdbc"/><stop offset="0.4167" stop-color="#ffddd1"/><stop offset="0.4583" stop-color="#ffede6"/><stop offset="0.5000" stop-color="#fffcfb"/><stop offset="0.5417" stop-color="#f6efff"/><stop offset="0.5833" stop-color="#ebdcff"/><stop offset="0.6250" stop-color="#dfc9ff"/><stop offset="0.6667" stop-color="#d2b6ff"/><stop offset="0.7083" stop-color="#c5a3ff"/><stop offset="0.7500" stop-color="#b790ff"/><stop offset="0.7917" stop-color="#a87eff"/><stop offset="0.8333" stop-color="#976bff"/><stop offset="0.8750" stop-color="#8558ff"/><stop offset="0.9167" stop-color="#6f44ff"/><stop offset="0.9583" stop-color="#542eff"/><stop offset="1.0000" stop-color="#2a12ff"/></linearGradient></defs>
<text x="292.50" y="585.00" font-size="8.9" text-anchor="start">log10(PR)</text>
<rect x="293.10" y="590.70" width="15.70" height="79.00" fill="url(#lg1)"/>
<line x1="293.10" x2="296.10" y1="600.76" y2="600.76" stroke="#fff" stroke-width="0.6"/>
<line x1="305.80" x2="308.80" y1="600.76" y2="600.76" stroke="#fff" stroke-width="0.6"/>
<text x="313.20" y="603.36" font-size="7.3" text-anchor="start">0.2</text>
<line x1="293.10" x2="296.10" y1="615.78" y2="615.78" stroke="#fff" stroke-width="0.6"/>
<line x1="305.80" x2="308.80" y1="615.78" y2="615.78" stroke="#fff" stroke-width="0.6"/>
<text x="313.20" y="618.38" font-size="7.3" text-anchor="start">0.1</text>
<line x1="293.10" x2="296.10" y1="630.80" y2="630.80" stroke="#fff" stroke-width="0.6"/>
<line x1="305.80" x2="308.80" y1="630.80" y2="630.80" stroke="#fff" stroke-width="0.6"/>
<text x="313.20" y="633.40" font-size="7.3" text-anchor="start">0.0</text>
<line x1="293.10" x2="296.10" y1="645.82" y2="645.82" stroke="#fff" stroke-width="0.6"/>
<line x1="305.80" x2="308.80" y1="645.82" y2="645.82" stroke="#fff" stroke-width="0.6"/>
<text x="313.20" y="648.42" font-size="7.3" text-anchor="start">-0.1</text>
<line x1="293.10" x2="296.10" y1="660.84" y2="660.84" stroke="#fff" stroke-width="0.6"/>
<line x1="305.80" x2="308.80" y1="660.84" y2="660.84" stroke="#fff" stroke-width="0.6"/>
<text x="313.20" y="663.44" font-size="7.3" text-anchor="start">-0.2</text>
<defs><linearGradient id="lg2" x1="0" y1="0" x2="0" y2="1"><stop offset="0.0000" stop-color="#ff0000"/><stop offset="0.0417" stop-color="#ff371d"/><stop offset="0.0833" stop-color="#ff5132"/><stop offset="0.1250" stop-color="#ff6745"/><stop offset="0.1667" stop-color="#ff7a59"/><stop offset="0.2083" stop-color="#ff8c6c"/><stop offset="0.2500" stop-color="#ff9d80"/><stop offset="0.2917" stop-color="#ffad94"/><stop offset="0.3333" stop-color="#ffbda8"/><stop offset="0.3750" stop-color="#ffcdbc"/><stop offset="0.4167" stop-color="#ffddd1"/><stop offset="0.4583" stop-color="#ffede6"/><stop offset="0.5000" stop-color="#fffcfb"/><stop offset="0.5417" stop-color="#f6efff"/><stop offset="0.5833" stop-color="#eadbff"/><stop offset="0.6250" stop-color="#dfc8ff"/><stop offset="0.6667" stop-color="#d2b5ff"/><stop offset="0.7083" stop-color="#c5a3ff"/><stop offset="0.7500" stop-color="#b690ff"/><stop offset="0.7917" stop-color="#a77dff"/><stop offset="0.8333" stop-color="#976aff"/><stop offset="0.8750" stop-color="#8457ff"/><stop offset="0.9167" stop-color="#6e43ff"/><stop offset="0.9583" stop-color="#532eff"/><stop offset="1.0000" stop-color="#2710ff"/></linearGradient></defs>
<text x="567.00" y="587.20" font-size="8.9" text-anchor="start">log10(PR)</text>
<rect x="567.60" y="592.60" width="16.00" height="79.30" fill="url(#lg2)"/>
<line x1="567.60" x2="570.60" y1="598.08" y2="598.08" stroke="#fff" stroke-width="0.6"/>
<line x1="580.60" x2="583.60" y1="598.08" y2="598.08" stroke="#fff" stroke-width="0.6"/>
<text x="587.70" y="600.68" font-size="7.3" text-anchor="start">1.0</text>
<line x1="567.60" x2="570.60" y1="615.44" y2="615.44" stroke="#fff" stroke-width="0.6"/>
<line x1="580.60" x2="583.60" y1="615.44" y2="615.44" stroke="#fff" stroke-width="0.6"/>
<text x="587.70" y="618.04" font-size="7.3" text-anchor="start">0.5</text>
<line x1="567.60" x2="570.60" y1="632.79" y2="632.79" stroke="#fff" stroke-width="0.6"/>
<line x1="580.60" x2="583.60" y1="632.79" y2="632.79" stroke="#fff" stroke-width="0.6"/>
<text x="587.70" y="635.39" font-size="7.3" text-anchor="start">0.0</text>
<line x1="567.60" x2="570.60" y1="650.14" y2="650.14" stroke="#fff" stroke-width="0.6"/>
<line x1="580.60" x2="583.60" y1="650.14" y2="650.14" stroke="#fff" stroke-width="0.6"/>
<text x="587.70" y="652.74" font-size="7.3" text-anchor="start">-0.5</text>
<line x1="567.60" x2="570.60" y1="667.49" y2="667.49" stroke="#fff" stroke-width="0.6"/>
<line x1="580.60" x2="583.60" y1="667.49" y2="667.49" stroke="#fff" stroke-width="0.6"/>
<text x="587.70" y="670.09" font-size="7.3" text-anchor="start">-1.0</text>
</g>
</g>
</svg>
</body></html>
